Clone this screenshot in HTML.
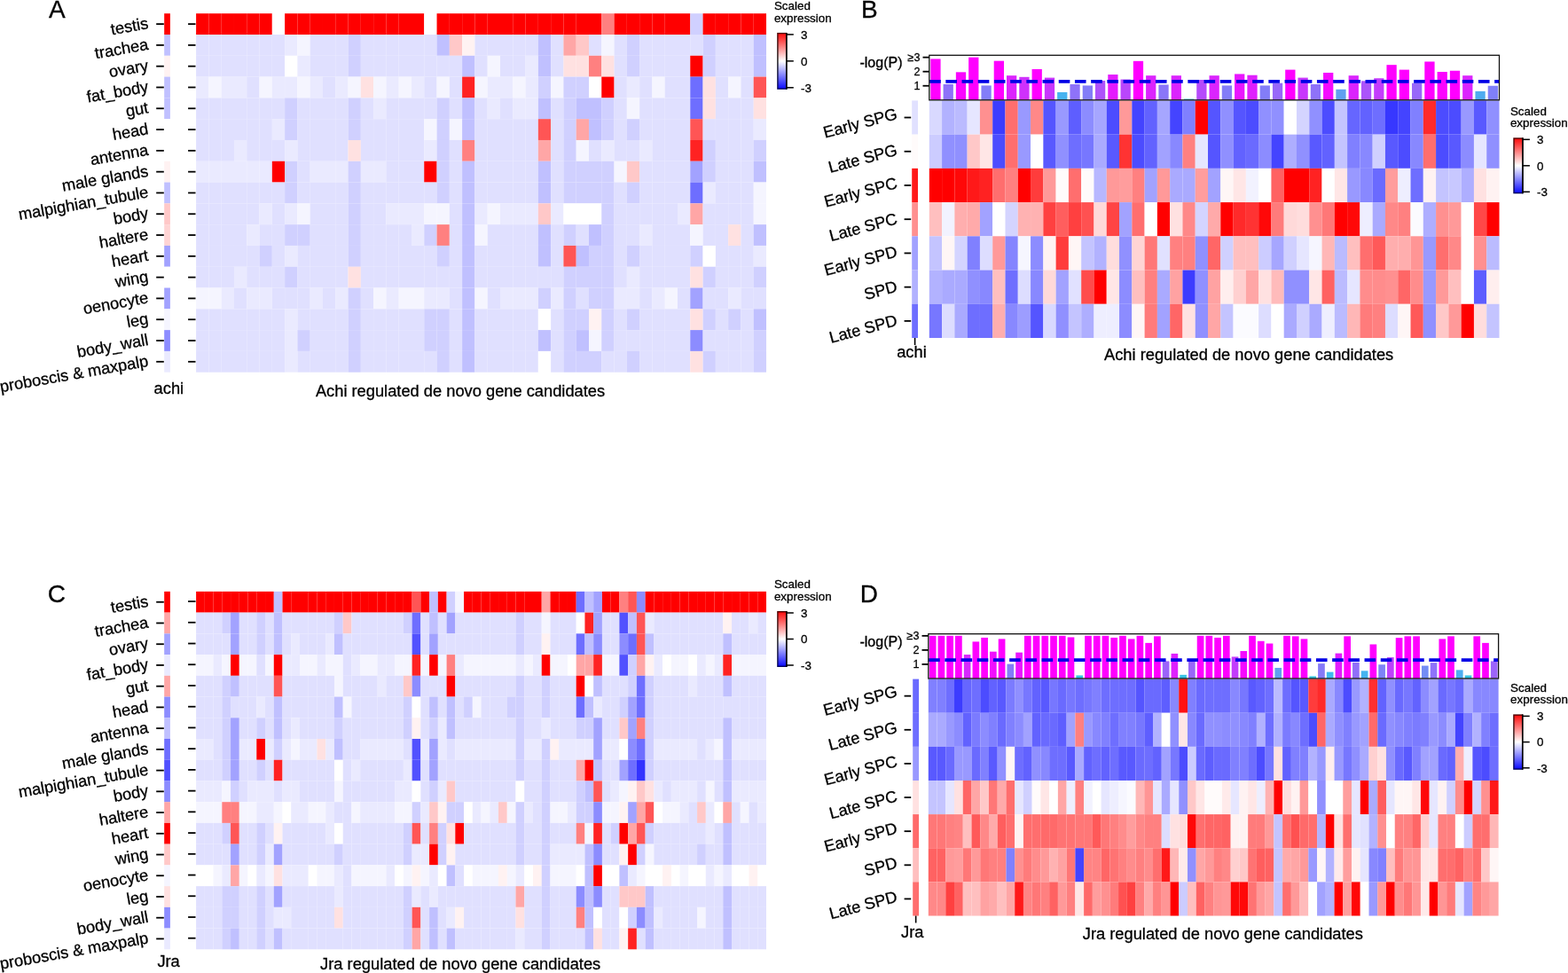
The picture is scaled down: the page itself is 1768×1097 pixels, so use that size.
<!DOCTYPE html>
<html><head><meta charset="utf-8"><title>Heatmaps</title>
<style>
html,body{margin:0;padding:0;background:#fff;}
body{width:1768px;height:1097px;overflow:hidden;position:relative;}
svg{position:absolute;left:0;top:0;display:block;}
text{font-family:"Liberation Sans",Arial,Helvetica,sans-serif;fill:#000;stroke:#000;stroke-width:0.3px;}
</style></head><body>
<svg width="1768" height="1097" viewBox="0 0 1768 1097">
<rect x="0" y="0" width="1768" height="1097" fill="#fff"/>
<rect x="221.10" y="15.20" width="14.31" height="23.81" fill="#ff0000"/>
<rect x="235.39" y="15.20" width="14.31" height="23.81" fill="#ff0000"/>
<rect x="249.67" y="15.20" width="14.31" height="23.81" fill="#ff0000"/>
<rect x="263.96" y="15.20" width="14.31" height="23.81" fill="#ff0000"/>
<rect x="278.25" y="15.20" width="14.31" height="23.81" fill="#ff0000"/>
<rect x="292.53" y="15.20" width="14.31" height="23.81" fill="#ff0000"/>
<rect x="306.82" y="15.20" width="14.31" height="23.81" fill="#ffffff"/>
<rect x="321.11" y="15.20" width="14.31" height="23.81" fill="#ff0000"/>
<rect x="335.39" y="15.20" width="14.31" height="23.81" fill="#ff0000"/>
<rect x="349.68" y="15.20" width="14.31" height="23.81" fill="#ff0000"/>
<rect x="363.97" y="15.20" width="14.31" height="23.81" fill="#ff0000"/>
<rect x="378.25" y="15.20" width="14.31" height="23.81" fill="#ff0000"/>
<rect x="392.54" y="15.20" width="14.31" height="23.81" fill="#ff0000"/>
<rect x="406.83" y="15.20" width="14.31" height="23.81" fill="#ff0000"/>
<rect x="421.11" y="15.20" width="14.31" height="23.81" fill="#ff0000"/>
<rect x="435.40" y="15.20" width="14.31" height="23.81" fill="#ff0000"/>
<rect x="449.69" y="15.20" width="14.31" height="23.81" fill="#ff0000"/>
<rect x="463.97" y="15.20" width="14.31" height="23.81" fill="#ff0000"/>
<rect x="478.26" y="15.20" width="14.31" height="23.81" fill="#ffffff"/>
<rect x="492.55" y="15.20" width="14.31" height="23.81" fill="#ff0000"/>
<rect x="506.83" y="15.20" width="14.31" height="23.81" fill="#ff0000"/>
<rect x="521.12" y="15.20" width="14.31" height="23.81" fill="#ff0000"/>
<rect x="535.41" y="15.20" width="14.31" height="23.81" fill="#ff0000"/>
<rect x="549.69" y="15.20" width="14.31" height="23.81" fill="#ff0000"/>
<rect x="563.98" y="15.20" width="14.31" height="23.81" fill="#ff0000"/>
<rect x="578.27" y="15.20" width="14.31" height="23.81" fill="#ff0000"/>
<rect x="592.55" y="15.20" width="14.31" height="23.81" fill="#ff0000"/>
<rect x="606.84" y="15.20" width="14.31" height="23.81" fill="#ff0000"/>
<rect x="621.13" y="15.20" width="14.31" height="23.81" fill="#ff0000"/>
<rect x="635.41" y="15.20" width="14.31" height="23.81" fill="#ff0000"/>
<rect x="649.70" y="15.20" width="14.31" height="23.81" fill="#ff0000"/>
<rect x="663.99" y="15.20" width="14.31" height="23.81" fill="#ff0000"/>
<rect x="678.27" y="15.20" width="14.31" height="23.81" fill="#ff8080"/>
<rect x="692.56" y="15.20" width="14.31" height="23.81" fill="#ff0000"/>
<rect x="706.85" y="15.20" width="14.31" height="23.81" fill="#ff0000"/>
<rect x="721.13" y="15.20" width="14.31" height="23.81" fill="#ff0000"/>
<rect x="735.42" y="15.20" width="14.31" height="23.81" fill="#ff0000"/>
<rect x="749.71" y="15.20" width="14.31" height="23.81" fill="#ff0000"/>
<rect x="763.99" y="15.20" width="14.31" height="23.81" fill="#ff0000"/>
<rect x="778.28" y="15.20" width="14.31" height="23.81" fill="#d0d0ff"/>
<rect x="792.57" y="15.20" width="14.31" height="23.81" fill="#ff0000"/>
<rect x="806.85" y="15.20" width="14.31" height="23.81" fill="#ff0000"/>
<rect x="821.14" y="15.20" width="14.31" height="23.81" fill="#ff0000"/>
<rect x="835.43" y="15.20" width="14.31" height="23.81" fill="#ff0000"/>
<rect x="849.71" y="15.20" width="14.31" height="23.81" fill="#ff0000"/>
<rect x="221.10" y="38.99" width="14.31" height="23.81" fill="#e0e0ff"/>
<rect x="235.39" y="38.99" width="14.31" height="23.81" fill="#e0e0ff"/>
<rect x="249.67" y="38.99" width="14.31" height="23.81" fill="#e0e0ff"/>
<rect x="263.96" y="38.99" width="14.31" height="23.81" fill="#e0e0ff"/>
<rect x="278.25" y="38.99" width="14.31" height="23.81" fill="#e0e0ff"/>
<rect x="292.53" y="38.99" width="14.31" height="23.81" fill="#e0e0ff"/>
<rect x="306.82" y="38.99" width="14.31" height="23.81" fill="#e0e0ff"/>
<rect x="321.11" y="38.99" width="14.31" height="23.81" fill="#eaeaff"/>
<rect x="335.39" y="38.99" width="14.31" height="23.81" fill="#f5f5ff"/>
<rect x="349.68" y="38.99" width="14.31" height="23.81" fill="#e0e0ff"/>
<rect x="363.97" y="38.99" width="14.31" height="23.81" fill="#e0e0ff"/>
<rect x="378.25" y="38.99" width="14.31" height="23.81" fill="#e0e0ff"/>
<rect x="392.54" y="38.99" width="14.31" height="23.81" fill="#d0d0ff"/>
<rect x="406.83" y="38.99" width="14.31" height="23.81" fill="#e0e0ff"/>
<rect x="421.11" y="38.99" width="14.31" height="23.81" fill="#e0e0ff"/>
<rect x="435.40" y="38.99" width="14.31" height="23.81" fill="#e0e0ff"/>
<rect x="449.69" y="38.99" width="14.31" height="23.81" fill="#e0e0ff"/>
<rect x="463.97" y="38.99" width="14.31" height="23.81" fill="#e0e0ff"/>
<rect x="478.26" y="38.99" width="14.31" height="23.81" fill="#e0e0ff"/>
<rect x="492.55" y="38.99" width="14.31" height="23.81" fill="#c0c0ff"/>
<rect x="506.83" y="38.99" width="14.31" height="23.81" fill="#ffc8c8"/>
<rect x="521.12" y="38.99" width="14.31" height="23.81" fill="#fff2f2"/>
<rect x="535.41" y="38.99" width="14.31" height="23.81" fill="#e0e0ff"/>
<rect x="549.69" y="38.99" width="14.31" height="23.81" fill="#e0e0ff"/>
<rect x="563.98" y="38.99" width="14.31" height="23.81" fill="#e0e0ff"/>
<rect x="578.27" y="38.99" width="14.31" height="23.81" fill="#e0e0ff"/>
<rect x="592.55" y="38.99" width="14.31" height="23.81" fill="#e0e0ff"/>
<rect x="606.84" y="38.99" width="14.31" height="23.81" fill="#c0c0ff"/>
<rect x="621.13" y="38.99" width="14.31" height="23.81" fill="#e0e0ff"/>
<rect x="635.41" y="38.99" width="14.31" height="23.81" fill="#ffa6a6"/>
<rect x="649.70" y="38.99" width="14.31" height="23.81" fill="#ffc8c8"/>
<rect x="663.99" y="38.99" width="14.31" height="23.81" fill="#e0e0ff"/>
<rect x="678.27" y="38.99" width="14.31" height="23.81" fill="#f5f5ff"/>
<rect x="692.56" y="38.99" width="14.31" height="23.81" fill="#e0e0ff"/>
<rect x="706.85" y="38.99" width="14.31" height="23.81" fill="#d0d0ff"/>
<rect x="721.13" y="38.99" width="14.31" height="23.81" fill="#e0e0ff"/>
<rect x="735.42" y="38.99" width="14.31" height="23.81" fill="#e0e0ff"/>
<rect x="749.71" y="38.99" width="14.31" height="23.81" fill="#e0e0ff"/>
<rect x="763.99" y="38.99" width="14.31" height="23.81" fill="#e0e0ff"/>
<rect x="778.28" y="38.99" width="14.31" height="23.81" fill="#e0e0ff"/>
<rect x="792.57" y="38.99" width="14.31" height="23.81" fill="#d0d0ff"/>
<rect x="806.85" y="38.99" width="14.31" height="23.81" fill="#e0e0ff"/>
<rect x="821.14" y="38.99" width="14.31" height="23.81" fill="#e0e0ff"/>
<rect x="835.43" y="38.99" width="14.31" height="23.81" fill="#e0e0ff"/>
<rect x="849.71" y="38.99" width="14.31" height="23.81" fill="#c0c0ff"/>
<rect x="221.10" y="62.79" width="14.31" height="23.81" fill="#e0e0ff"/>
<rect x="235.39" y="62.79" width="14.31" height="23.81" fill="#e0e0ff"/>
<rect x="249.67" y="62.79" width="14.31" height="23.81" fill="#e0e0ff"/>
<rect x="263.96" y="62.79" width="14.31" height="23.81" fill="#e0e0ff"/>
<rect x="278.25" y="62.79" width="14.31" height="23.81" fill="#e0e0ff"/>
<rect x="292.53" y="62.79" width="14.31" height="23.81" fill="#e0e0ff"/>
<rect x="306.82" y="62.79" width="14.31" height="23.81" fill="#e0e0ff"/>
<rect x="321.11" y="62.79" width="14.31" height="23.81" fill="#ffffff"/>
<rect x="335.39" y="62.79" width="14.31" height="23.81" fill="#eaeaff"/>
<rect x="349.68" y="62.79" width="14.31" height="23.81" fill="#e0e0ff"/>
<rect x="363.97" y="62.79" width="14.31" height="23.81" fill="#e0e0ff"/>
<rect x="378.25" y="62.79" width="14.31" height="23.81" fill="#e0e0ff"/>
<rect x="392.54" y="62.79" width="14.31" height="23.81" fill="#d0d0ff"/>
<rect x="406.83" y="62.79" width="14.31" height="23.81" fill="#e0e0ff"/>
<rect x="421.11" y="62.79" width="14.31" height="23.81" fill="#e0e0ff"/>
<rect x="435.40" y="62.79" width="14.31" height="23.81" fill="#e0e0ff"/>
<rect x="449.69" y="62.79" width="14.31" height="23.81" fill="#e0e0ff"/>
<rect x="463.97" y="62.79" width="14.31" height="23.81" fill="#e0e0ff"/>
<rect x="478.26" y="62.79" width="14.31" height="23.81" fill="#e0e0ff"/>
<rect x="492.55" y="62.79" width="14.31" height="23.81" fill="#e0e0ff"/>
<rect x="506.83" y="62.79" width="14.31" height="23.81" fill="#e0e0ff"/>
<rect x="521.12" y="62.79" width="14.31" height="23.81" fill="#c0c0ff"/>
<rect x="535.41" y="62.79" width="14.31" height="23.81" fill="#e0e0ff"/>
<rect x="549.69" y="62.79" width="14.31" height="23.81" fill="#f5f5ff"/>
<rect x="563.98" y="62.79" width="14.31" height="23.81" fill="#e0e0ff"/>
<rect x="578.27" y="62.79" width="14.31" height="23.81" fill="#e0e0ff"/>
<rect x="592.55" y="62.79" width="14.31" height="23.81" fill="#eaeaff"/>
<rect x="606.84" y="62.79" width="14.31" height="23.81" fill="#c0c0ff"/>
<rect x="621.13" y="62.79" width="14.31" height="23.81" fill="#e0e0ff"/>
<rect x="635.41" y="62.79" width="14.31" height="23.81" fill="#ffe1e1"/>
<rect x="649.70" y="62.79" width="14.31" height="23.81" fill="#ffe1e1"/>
<rect x="663.99" y="62.79" width="14.31" height="23.81" fill="#ff8080"/>
<rect x="678.27" y="62.79" width="14.31" height="23.81" fill="#ffe1e1"/>
<rect x="692.56" y="62.79" width="14.31" height="23.81" fill="#e0e0ff"/>
<rect x="706.85" y="62.79" width="14.31" height="23.81" fill="#d0d0ff"/>
<rect x="721.13" y="62.79" width="14.31" height="23.81" fill="#e0e0ff"/>
<rect x="735.42" y="62.79" width="14.31" height="23.81" fill="#e0e0ff"/>
<rect x="749.71" y="62.79" width="14.31" height="23.81" fill="#e0e0ff"/>
<rect x="763.99" y="62.79" width="14.31" height="23.81" fill="#e0e0ff"/>
<rect x="778.28" y="62.79" width="14.31" height="23.81" fill="#ff0000"/>
<rect x="792.57" y="62.79" width="14.31" height="23.81" fill="#d0d0ff"/>
<rect x="806.85" y="62.79" width="14.31" height="23.81" fill="#e0e0ff"/>
<rect x="821.14" y="62.79" width="14.31" height="23.81" fill="#e0e0ff"/>
<rect x="835.43" y="62.79" width="14.31" height="23.81" fill="#e0e0ff"/>
<rect x="849.71" y="62.79" width="14.31" height="23.81" fill="#c0c0ff"/>
<rect x="221.10" y="86.58" width="14.31" height="23.81" fill="#eaeaff"/>
<rect x="235.39" y="86.58" width="14.31" height="23.81" fill="#f5f5ff"/>
<rect x="249.67" y="86.58" width="14.31" height="23.81" fill="#eaeaff"/>
<rect x="263.96" y="86.58" width="14.31" height="23.81" fill="#eaeaff"/>
<rect x="278.25" y="86.58" width="14.31" height="23.81" fill="#e0e0ff"/>
<rect x="292.53" y="86.58" width="14.31" height="23.81" fill="#f5f5ff"/>
<rect x="306.82" y="86.58" width="14.31" height="23.81" fill="#eaeaff"/>
<rect x="321.11" y="86.58" width="14.31" height="23.81" fill="#eaeaff"/>
<rect x="335.39" y="86.58" width="14.31" height="23.81" fill="#f5f5ff"/>
<rect x="349.68" y="86.58" width="14.31" height="23.81" fill="#eaeaff"/>
<rect x="363.97" y="86.58" width="14.31" height="23.81" fill="#e0e0ff"/>
<rect x="378.25" y="86.58" width="14.31" height="23.81" fill="#eaeaff"/>
<rect x="392.54" y="86.58" width="14.31" height="23.81" fill="#f5f5ff"/>
<rect x="406.83" y="86.58" width="14.31" height="23.81" fill="#ffe1e1"/>
<rect x="421.11" y="86.58" width="14.31" height="23.81" fill="#f5f5ff"/>
<rect x="435.40" y="86.58" width="14.31" height="23.81" fill="#eaeaff"/>
<rect x="449.69" y="86.58" width="14.31" height="23.81" fill="#f5f5ff"/>
<rect x="463.97" y="86.58" width="14.31" height="23.81" fill="#eaeaff"/>
<rect x="478.26" y="86.58" width="14.31" height="23.81" fill="#e0e0ff"/>
<rect x="492.55" y="86.58" width="14.31" height="23.81" fill="#f5f5ff"/>
<rect x="506.83" y="86.58" width="14.31" height="23.81" fill="#e0e0ff"/>
<rect x="521.12" y="86.58" width="14.31" height="23.81" fill="#ff2222"/>
<rect x="535.41" y="86.58" width="14.31" height="23.81" fill="#f5f5ff"/>
<rect x="549.69" y="86.58" width="14.31" height="23.81" fill="#eaeaff"/>
<rect x="563.98" y="86.58" width="14.31" height="23.81" fill="#eaeaff"/>
<rect x="578.27" y="86.58" width="14.31" height="23.81" fill="#f5f5ff"/>
<rect x="592.55" y="86.58" width="14.31" height="23.81" fill="#eaeaff"/>
<rect x="606.84" y="86.58" width="14.31" height="23.81" fill="#d0d0ff"/>
<rect x="621.13" y="86.58" width="14.31" height="23.81" fill="#f5f5ff"/>
<rect x="635.41" y="86.58" width="14.31" height="23.81" fill="#d0d0ff"/>
<rect x="649.70" y="86.58" width="14.31" height="23.81" fill="#d0d0ff"/>
<rect x="663.99" y="86.58" width="14.31" height="23.81" fill="#ffffff"/>
<rect x="678.27" y="86.58" width="14.31" height="23.81" fill="#ff0000"/>
<rect x="692.56" y="86.58" width="14.31" height="23.81" fill="#e0e0ff"/>
<rect x="706.85" y="86.58" width="14.31" height="23.81" fill="#eaeaff"/>
<rect x="721.13" y="86.58" width="14.31" height="23.81" fill="#e0e0ff"/>
<rect x="735.42" y="86.58" width="14.31" height="23.81" fill="#f5f5ff"/>
<rect x="749.71" y="86.58" width="14.31" height="23.81" fill="#e0e0ff"/>
<rect x="763.99" y="86.58" width="14.31" height="23.81" fill="#e0e0ff"/>
<rect x="778.28" y="86.58" width="14.31" height="23.81" fill="#6e6eff"/>
<rect x="792.57" y="86.58" width="14.31" height="23.81" fill="#ffe1e1"/>
<rect x="806.85" y="86.58" width="14.31" height="23.81" fill="#e0e0ff"/>
<rect x="821.14" y="86.58" width="14.31" height="23.81" fill="#f5f5ff"/>
<rect x="835.43" y="86.58" width="14.31" height="23.81" fill="#e0e0ff"/>
<rect x="849.71" y="86.58" width="14.31" height="23.81" fill="#ff5555"/>
<rect x="221.10" y="110.38" width="14.31" height="23.81" fill="#e0e0ff"/>
<rect x="235.39" y="110.38" width="14.31" height="23.81" fill="#e0e0ff"/>
<rect x="249.67" y="110.38" width="14.31" height="23.81" fill="#e0e0ff"/>
<rect x="263.96" y="110.38" width="14.31" height="23.81" fill="#e0e0ff"/>
<rect x="278.25" y="110.38" width="14.31" height="23.81" fill="#e0e0ff"/>
<rect x="292.53" y="110.38" width="14.31" height="23.81" fill="#e0e0ff"/>
<rect x="306.82" y="110.38" width="14.31" height="23.81" fill="#e0e0ff"/>
<rect x="321.11" y="110.38" width="14.31" height="23.81" fill="#d0d0ff"/>
<rect x="335.39" y="110.38" width="14.31" height="23.81" fill="#e0e0ff"/>
<rect x="349.68" y="110.38" width="14.31" height="23.81" fill="#e0e0ff"/>
<rect x="363.97" y="110.38" width="14.31" height="23.81" fill="#e0e0ff"/>
<rect x="378.25" y="110.38" width="14.31" height="23.81" fill="#e0e0ff"/>
<rect x="392.54" y="110.38" width="14.31" height="23.81" fill="#d0d0ff"/>
<rect x="406.83" y="110.38" width="14.31" height="23.81" fill="#e0e0ff"/>
<rect x="421.11" y="110.38" width="14.31" height="23.81" fill="#eaeaff"/>
<rect x="435.40" y="110.38" width="14.31" height="23.81" fill="#e0e0ff"/>
<rect x="449.69" y="110.38" width="14.31" height="23.81" fill="#e0e0ff"/>
<rect x="463.97" y="110.38" width="14.31" height="23.81" fill="#e0e0ff"/>
<rect x="478.26" y="110.38" width="14.31" height="23.81" fill="#e0e0ff"/>
<rect x="492.55" y="110.38" width="14.31" height="23.81" fill="#d0d0ff"/>
<rect x="506.83" y="110.38" width="14.31" height="23.81" fill="#e0e0ff"/>
<rect x="521.12" y="110.38" width="14.31" height="23.81" fill="#c0c0ff"/>
<rect x="535.41" y="110.38" width="14.31" height="23.81" fill="#e0e0ff"/>
<rect x="549.69" y="110.38" width="14.31" height="23.81" fill="#eaeaff"/>
<rect x="563.98" y="110.38" width="14.31" height="23.81" fill="#e0e0ff"/>
<rect x="578.27" y="110.38" width="14.31" height="23.81" fill="#eaeaff"/>
<rect x="592.55" y="110.38" width="14.31" height="23.81" fill="#eaeaff"/>
<rect x="606.84" y="110.38" width="14.31" height="23.81" fill="#c0c0ff"/>
<rect x="621.13" y="110.38" width="14.31" height="23.81" fill="#e0e0ff"/>
<rect x="635.41" y="110.38" width="14.31" height="23.81" fill="#d0d0ff"/>
<rect x="649.70" y="110.38" width="14.31" height="23.81" fill="#c0c0ff"/>
<rect x="663.99" y="110.38" width="14.31" height="23.81" fill="#c0c0ff"/>
<rect x="678.27" y="110.38" width="14.31" height="23.81" fill="#d0d0ff"/>
<rect x="692.56" y="110.38" width="14.31" height="23.81" fill="#e0e0ff"/>
<rect x="706.85" y="110.38" width="14.31" height="23.81" fill="#f5f5ff"/>
<rect x="721.13" y="110.38" width="14.31" height="23.81" fill="#e0e0ff"/>
<rect x="735.42" y="110.38" width="14.31" height="23.81" fill="#e0e0ff"/>
<rect x="749.71" y="110.38" width="14.31" height="23.81" fill="#e0e0ff"/>
<rect x="763.99" y="110.38" width="14.31" height="23.81" fill="#e0e0ff"/>
<rect x="778.28" y="110.38" width="14.31" height="23.81" fill="#6e6eff"/>
<rect x="792.57" y="110.38" width="14.31" height="23.81" fill="#ffe1e1"/>
<rect x="806.85" y="110.38" width="14.31" height="23.81" fill="#e0e0ff"/>
<rect x="821.14" y="110.38" width="14.31" height="23.81" fill="#e0e0ff"/>
<rect x="835.43" y="110.38" width="14.31" height="23.81" fill="#e0e0ff"/>
<rect x="849.71" y="110.38" width="14.31" height="23.81" fill="#ffe1e1"/>
<rect x="221.10" y="134.17" width="14.31" height="23.81" fill="#e0e0ff"/>
<rect x="235.39" y="134.17" width="14.31" height="23.81" fill="#e0e0ff"/>
<rect x="249.67" y="134.17" width="14.31" height="23.81" fill="#e0e0ff"/>
<rect x="263.96" y="134.17" width="14.31" height="23.81" fill="#e0e0ff"/>
<rect x="278.25" y="134.17" width="14.31" height="23.81" fill="#e0e0ff"/>
<rect x="292.53" y="134.17" width="14.31" height="23.81" fill="#e0e0ff"/>
<rect x="306.82" y="134.17" width="14.31" height="23.81" fill="#eaeaff"/>
<rect x="321.11" y="134.17" width="14.31" height="23.81" fill="#d0d0ff"/>
<rect x="335.39" y="134.17" width="14.31" height="23.81" fill="#e0e0ff"/>
<rect x="349.68" y="134.17" width="14.31" height="23.81" fill="#e0e0ff"/>
<rect x="363.97" y="134.17" width="14.31" height="23.81" fill="#e0e0ff"/>
<rect x="378.25" y="134.17" width="14.31" height="23.81" fill="#e0e0ff"/>
<rect x="392.54" y="134.17" width="14.31" height="23.81" fill="#d0d0ff"/>
<rect x="406.83" y="134.17" width="14.31" height="23.81" fill="#e0e0ff"/>
<rect x="421.11" y="134.17" width="14.31" height="23.81" fill="#e0e0ff"/>
<rect x="435.40" y="134.17" width="14.31" height="23.81" fill="#e0e0ff"/>
<rect x="449.69" y="134.17" width="14.31" height="23.81" fill="#e0e0ff"/>
<rect x="463.97" y="134.17" width="14.31" height="23.81" fill="#e0e0ff"/>
<rect x="478.26" y="134.17" width="14.31" height="23.81" fill="#f5f5ff"/>
<rect x="492.55" y="134.17" width="14.31" height="23.81" fill="#d0d0ff"/>
<rect x="506.83" y="134.17" width="14.31" height="23.81" fill="#f5f5ff"/>
<rect x="521.12" y="134.17" width="14.31" height="23.81" fill="#c0c0ff"/>
<rect x="535.41" y="134.17" width="14.31" height="23.81" fill="#e0e0ff"/>
<rect x="549.69" y="134.17" width="14.31" height="23.81" fill="#e0e0ff"/>
<rect x="563.98" y="134.17" width="14.31" height="23.81" fill="#e0e0ff"/>
<rect x="578.27" y="134.17" width="14.31" height="23.81" fill="#e0e0ff"/>
<rect x="592.55" y="134.17" width="14.31" height="23.81" fill="#e0e0ff"/>
<rect x="606.84" y="134.17" width="14.31" height="23.81" fill="#ff5555"/>
<rect x="621.13" y="134.17" width="14.31" height="23.81" fill="#e0e0ff"/>
<rect x="635.41" y="134.17" width="14.31" height="23.81" fill="#d0d0ff"/>
<rect x="649.70" y="134.17" width="14.31" height="23.81" fill="#ffa6a6"/>
<rect x="663.99" y="134.17" width="14.31" height="23.81" fill="#c0c0ff"/>
<rect x="678.27" y="134.17" width="14.31" height="23.81" fill="#d0d0ff"/>
<rect x="692.56" y="134.17" width="14.31" height="23.81" fill="#e0e0ff"/>
<rect x="706.85" y="134.17" width="14.31" height="23.81" fill="#d0d0ff"/>
<rect x="721.13" y="134.17" width="14.31" height="23.81" fill="#e0e0ff"/>
<rect x="735.42" y="134.17" width="14.31" height="23.81" fill="#e0e0ff"/>
<rect x="749.71" y="134.17" width="14.31" height="23.81" fill="#e0e0ff"/>
<rect x="763.99" y="134.17" width="14.31" height="23.81" fill="#e0e0ff"/>
<rect x="778.28" y="134.17" width="14.31" height="23.81" fill="#ff5555"/>
<rect x="792.57" y="134.17" width="14.31" height="23.81" fill="#e0e0ff"/>
<rect x="806.85" y="134.17" width="14.31" height="23.81" fill="#e0e0ff"/>
<rect x="821.14" y="134.17" width="14.31" height="23.81" fill="#e0e0ff"/>
<rect x="835.43" y="134.17" width="14.31" height="23.81" fill="#e0e0ff"/>
<rect x="849.71" y="134.17" width="14.31" height="23.81" fill="#eaeaff"/>
<rect x="221.10" y="157.96" width="14.31" height="23.81" fill="#e0e0ff"/>
<rect x="235.39" y="157.96" width="14.31" height="23.81" fill="#e0e0ff"/>
<rect x="249.67" y="157.96" width="14.31" height="23.81" fill="#e0e0ff"/>
<rect x="263.96" y="157.96" width="14.31" height="23.81" fill="#eaeaff"/>
<rect x="278.25" y="157.96" width="14.31" height="23.81" fill="#e0e0ff"/>
<rect x="292.53" y="157.96" width="14.31" height="23.81" fill="#e0e0ff"/>
<rect x="306.82" y="157.96" width="14.31" height="23.81" fill="#e0e0ff"/>
<rect x="321.11" y="157.96" width="14.31" height="23.81" fill="#eaeaff"/>
<rect x="335.39" y="157.96" width="14.31" height="23.81" fill="#e0e0ff"/>
<rect x="349.68" y="157.96" width="14.31" height="23.81" fill="#e0e0ff"/>
<rect x="363.97" y="157.96" width="14.31" height="23.81" fill="#e0e0ff"/>
<rect x="378.25" y="157.96" width="14.31" height="23.81" fill="#e0e0ff"/>
<rect x="392.54" y="157.96" width="14.31" height="23.81" fill="#ffe1e1"/>
<rect x="406.83" y="157.96" width="14.31" height="23.81" fill="#e0e0ff"/>
<rect x="421.11" y="157.96" width="14.31" height="23.81" fill="#e0e0ff"/>
<rect x="435.40" y="157.96" width="14.31" height="23.81" fill="#e0e0ff"/>
<rect x="449.69" y="157.96" width="14.31" height="23.81" fill="#e0e0ff"/>
<rect x="463.97" y="157.96" width="14.31" height="23.81" fill="#e0e0ff"/>
<rect x="478.26" y="157.96" width="14.31" height="23.81" fill="#eaeaff"/>
<rect x="492.55" y="157.96" width="14.31" height="23.81" fill="#d0d0ff"/>
<rect x="506.83" y="157.96" width="14.31" height="23.81" fill="#e0e0ff"/>
<rect x="521.12" y="157.96" width="14.31" height="23.81" fill="#ff8080"/>
<rect x="535.41" y="157.96" width="14.31" height="23.81" fill="#e0e0ff"/>
<rect x="549.69" y="157.96" width="14.31" height="23.81" fill="#e0e0ff"/>
<rect x="563.98" y="157.96" width="14.31" height="23.81" fill="#e0e0ff"/>
<rect x="578.27" y="157.96" width="14.31" height="23.81" fill="#e0e0ff"/>
<rect x="592.55" y="157.96" width="14.31" height="23.81" fill="#e0e0ff"/>
<rect x="606.84" y="157.96" width="14.31" height="23.81" fill="#ffa6a6"/>
<rect x="621.13" y="157.96" width="14.31" height="23.81" fill="#e0e0ff"/>
<rect x="635.41" y="157.96" width="14.31" height="23.81" fill="#d0d0ff"/>
<rect x="649.70" y="157.96" width="14.31" height="23.81" fill="#f5f5ff"/>
<rect x="663.99" y="157.96" width="14.31" height="23.81" fill="#e0e0ff"/>
<rect x="678.27" y="157.96" width="14.31" height="23.81" fill="#eaeaff"/>
<rect x="692.56" y="157.96" width="14.31" height="23.81" fill="#e0e0ff"/>
<rect x="706.85" y="157.96" width="14.31" height="23.81" fill="#e0e0ff"/>
<rect x="721.13" y="157.96" width="14.31" height="23.81" fill="#eaeaff"/>
<rect x="735.42" y="157.96" width="14.31" height="23.81" fill="#e0e0ff"/>
<rect x="749.71" y="157.96" width="14.31" height="23.81" fill="#e0e0ff"/>
<rect x="763.99" y="157.96" width="14.31" height="23.81" fill="#e0e0ff"/>
<rect x="778.28" y="157.96" width="14.31" height="23.81" fill="#ff2222"/>
<rect x="792.57" y="157.96" width="14.31" height="23.81" fill="#d0d0ff"/>
<rect x="806.85" y="157.96" width="14.31" height="23.81" fill="#e0e0ff"/>
<rect x="821.14" y="157.96" width="14.31" height="23.81" fill="#e0e0ff"/>
<rect x="835.43" y="157.96" width="14.31" height="23.81" fill="#e0e0ff"/>
<rect x="849.71" y="157.96" width="14.31" height="23.81" fill="#d0d0ff"/>
<rect x="221.10" y="181.76" width="14.31" height="23.81" fill="#eaeaff"/>
<rect x="235.39" y="181.76" width="14.31" height="23.81" fill="#eaeaff"/>
<rect x="249.67" y="181.76" width="14.31" height="23.81" fill="#eaeaff"/>
<rect x="263.96" y="181.76" width="14.31" height="23.81" fill="#eaeaff"/>
<rect x="278.25" y="181.76" width="14.31" height="23.81" fill="#eaeaff"/>
<rect x="292.53" y="181.76" width="14.31" height="23.81" fill="#eaeaff"/>
<rect x="306.82" y="181.76" width="14.31" height="23.81" fill="#ff0000"/>
<rect x="321.11" y="181.76" width="14.31" height="23.81" fill="#d0d0ff"/>
<rect x="335.39" y="181.76" width="14.31" height="23.81" fill="#e0e0ff"/>
<rect x="349.68" y="181.76" width="14.31" height="23.81" fill="#eaeaff"/>
<rect x="363.97" y="181.76" width="14.31" height="23.81" fill="#eaeaff"/>
<rect x="378.25" y="181.76" width="14.31" height="23.81" fill="#eaeaff"/>
<rect x="392.54" y="181.76" width="14.31" height="23.81" fill="#d0d0ff"/>
<rect x="406.83" y="181.76" width="14.31" height="23.81" fill="#eaeaff"/>
<rect x="421.11" y="181.76" width="14.31" height="23.81" fill="#eaeaff"/>
<rect x="435.40" y="181.76" width="14.31" height="23.81" fill="#e0e0ff"/>
<rect x="449.69" y="181.76" width="14.31" height="23.81" fill="#e0e0ff"/>
<rect x="463.97" y="181.76" width="14.31" height="23.81" fill="#e0e0ff"/>
<rect x="478.26" y="181.76" width="14.31" height="23.81" fill="#ff0000"/>
<rect x="492.55" y="181.76" width="14.31" height="23.81" fill="#d0d0ff"/>
<rect x="506.83" y="181.76" width="14.31" height="23.81" fill="#e0e0ff"/>
<rect x="521.12" y="181.76" width="14.31" height="23.81" fill="#c0c0ff"/>
<rect x="535.41" y="181.76" width="14.31" height="23.81" fill="#e0e0ff"/>
<rect x="549.69" y="181.76" width="14.31" height="23.81" fill="#e0e0ff"/>
<rect x="563.98" y="181.76" width="14.31" height="23.81" fill="#e0e0ff"/>
<rect x="578.27" y="181.76" width="14.31" height="23.81" fill="#e0e0ff"/>
<rect x="592.55" y="181.76" width="14.31" height="23.81" fill="#e0e0ff"/>
<rect x="606.84" y="181.76" width="14.31" height="23.81" fill="#c0c0ff"/>
<rect x="621.13" y="181.76" width="14.31" height="23.81" fill="#e0e0ff"/>
<rect x="635.41" y="181.76" width="14.31" height="23.81" fill="#d0d0ff"/>
<rect x="649.70" y="181.76" width="14.31" height="23.81" fill="#d0d0ff"/>
<rect x="663.99" y="181.76" width="14.31" height="23.81" fill="#d0d0ff"/>
<rect x="678.27" y="181.76" width="14.31" height="23.81" fill="#d0d0ff"/>
<rect x="692.56" y="181.76" width="14.31" height="23.81" fill="#f5f5ff"/>
<rect x="706.85" y="181.76" width="14.31" height="23.81" fill="#ffc8c8"/>
<rect x="721.13" y="181.76" width="14.31" height="23.81" fill="#e0e0ff"/>
<rect x="735.42" y="181.76" width="14.31" height="23.81" fill="#e0e0ff"/>
<rect x="749.71" y="181.76" width="14.31" height="23.81" fill="#e0e0ff"/>
<rect x="763.99" y="181.76" width="14.31" height="23.81" fill="#e0e0ff"/>
<rect x="778.28" y="181.76" width="14.31" height="23.81" fill="#a2a2ff"/>
<rect x="792.57" y="181.76" width="14.31" height="23.81" fill="#d0d0ff"/>
<rect x="806.85" y="181.76" width="14.31" height="23.81" fill="#e0e0ff"/>
<rect x="821.14" y="181.76" width="14.31" height="23.81" fill="#e0e0ff"/>
<rect x="835.43" y="181.76" width="14.31" height="23.81" fill="#e0e0ff"/>
<rect x="849.71" y="181.76" width="14.31" height="23.81" fill="#c0c0ff"/>
<rect x="221.10" y="205.55" width="14.31" height="23.81" fill="#e0e0ff"/>
<rect x="235.39" y="205.55" width="14.31" height="23.81" fill="#e0e0ff"/>
<rect x="249.67" y="205.55" width="14.31" height="23.81" fill="#e0e0ff"/>
<rect x="263.96" y="205.55" width="14.31" height="23.81" fill="#e0e0ff"/>
<rect x="278.25" y="205.55" width="14.31" height="23.81" fill="#e0e0ff"/>
<rect x="292.53" y="205.55" width="14.31" height="23.81" fill="#e0e0ff"/>
<rect x="306.82" y="205.55" width="14.31" height="23.81" fill="#e0e0ff"/>
<rect x="321.11" y="205.55" width="14.31" height="23.81" fill="#d0d0ff"/>
<rect x="335.39" y="205.55" width="14.31" height="23.81" fill="#e0e0ff"/>
<rect x="349.68" y="205.55" width="14.31" height="23.81" fill="#e0e0ff"/>
<rect x="363.97" y="205.55" width="14.31" height="23.81" fill="#e0e0ff"/>
<rect x="378.25" y="205.55" width="14.31" height="23.81" fill="#e0e0ff"/>
<rect x="392.54" y="205.55" width="14.31" height="23.81" fill="#d0d0ff"/>
<rect x="406.83" y="205.55" width="14.31" height="23.81" fill="#e0e0ff"/>
<rect x="421.11" y="205.55" width="14.31" height="23.81" fill="#e0e0ff"/>
<rect x="435.40" y="205.55" width="14.31" height="23.81" fill="#e0e0ff"/>
<rect x="449.69" y="205.55" width="14.31" height="23.81" fill="#e0e0ff"/>
<rect x="463.97" y="205.55" width="14.31" height="23.81" fill="#e0e0ff"/>
<rect x="478.26" y="205.55" width="14.31" height="23.81" fill="#e0e0ff"/>
<rect x="492.55" y="205.55" width="14.31" height="23.81" fill="#d0d0ff"/>
<rect x="506.83" y="205.55" width="14.31" height="23.81" fill="#e0e0ff"/>
<rect x="521.12" y="205.55" width="14.31" height="23.81" fill="#c0c0ff"/>
<rect x="535.41" y="205.55" width="14.31" height="23.81" fill="#e0e0ff"/>
<rect x="549.69" y="205.55" width="14.31" height="23.81" fill="#e0e0ff"/>
<rect x="563.98" y="205.55" width="14.31" height="23.81" fill="#e0e0ff"/>
<rect x="578.27" y="205.55" width="14.31" height="23.81" fill="#e0e0ff"/>
<rect x="592.55" y="205.55" width="14.31" height="23.81" fill="#e0e0ff"/>
<rect x="606.84" y="205.55" width="14.31" height="23.81" fill="#c0c0ff"/>
<rect x="621.13" y="205.55" width="14.31" height="23.81" fill="#e0e0ff"/>
<rect x="635.41" y="205.55" width="14.31" height="23.81" fill="#d0d0ff"/>
<rect x="649.70" y="205.55" width="14.31" height="23.81" fill="#d0d0ff"/>
<rect x="663.99" y="205.55" width="14.31" height="23.81" fill="#d0d0ff"/>
<rect x="678.27" y="205.55" width="14.31" height="23.81" fill="#d0d0ff"/>
<rect x="692.56" y="205.55" width="14.31" height="23.81" fill="#e0e0ff"/>
<rect x="706.85" y="205.55" width="14.31" height="23.81" fill="#d0d0ff"/>
<rect x="721.13" y="205.55" width="14.31" height="23.81" fill="#e0e0ff"/>
<rect x="735.42" y="205.55" width="14.31" height="23.81" fill="#e0e0ff"/>
<rect x="749.71" y="205.55" width="14.31" height="23.81" fill="#e0e0ff"/>
<rect x="763.99" y="205.55" width="14.31" height="23.81" fill="#e0e0ff"/>
<rect x="778.28" y="205.55" width="14.31" height="23.81" fill="#6e6eff"/>
<rect x="792.57" y="205.55" width="14.31" height="23.81" fill="#eaeaff"/>
<rect x="806.85" y="205.55" width="14.31" height="23.81" fill="#e0e0ff"/>
<rect x="821.14" y="205.55" width="14.31" height="23.81" fill="#e0e0ff"/>
<rect x="835.43" y="205.55" width="14.31" height="23.81" fill="#e0e0ff"/>
<rect x="849.71" y="205.55" width="14.31" height="23.81" fill="#f5f5ff"/>
<rect x="221.10" y="229.35" width="14.31" height="23.81" fill="#e0e0ff"/>
<rect x="235.39" y="229.35" width="14.31" height="23.81" fill="#e0e0ff"/>
<rect x="249.67" y="229.35" width="14.31" height="23.81" fill="#e0e0ff"/>
<rect x="263.96" y="229.35" width="14.31" height="23.81" fill="#e0e0ff"/>
<rect x="278.25" y="229.35" width="14.31" height="23.81" fill="#e0e0ff"/>
<rect x="292.53" y="229.35" width="14.31" height="23.81" fill="#eaeaff"/>
<rect x="306.82" y="229.35" width="14.31" height="23.81" fill="#e0e0ff"/>
<rect x="321.11" y="229.35" width="14.31" height="23.81" fill="#eaeaff"/>
<rect x="335.39" y="229.35" width="14.31" height="23.81" fill="#f5f5ff"/>
<rect x="349.68" y="229.35" width="14.31" height="23.81" fill="#e0e0ff"/>
<rect x="363.97" y="229.35" width="14.31" height="23.81" fill="#e0e0ff"/>
<rect x="378.25" y="229.35" width="14.31" height="23.81" fill="#e0e0ff"/>
<rect x="392.54" y="229.35" width="14.31" height="23.81" fill="#d0d0ff"/>
<rect x="406.83" y="229.35" width="14.31" height="23.81" fill="#e0e0ff"/>
<rect x="421.11" y="229.35" width="14.31" height="23.81" fill="#e0e0ff"/>
<rect x="435.40" y="229.35" width="14.31" height="23.81" fill="#eaeaff"/>
<rect x="449.69" y="229.35" width="14.31" height="23.81" fill="#eaeaff"/>
<rect x="463.97" y="229.35" width="14.31" height="23.81" fill="#eaeaff"/>
<rect x="478.26" y="229.35" width="14.31" height="23.81" fill="#f5f5ff"/>
<rect x="492.55" y="229.35" width="14.31" height="23.81" fill="#f5f5ff"/>
<rect x="506.83" y="229.35" width="14.31" height="23.81" fill="#e0e0ff"/>
<rect x="521.12" y="229.35" width="14.31" height="23.81" fill="#c0c0ff"/>
<rect x="535.41" y="229.35" width="14.31" height="23.81" fill="#eaeaff"/>
<rect x="549.69" y="229.35" width="14.31" height="23.81" fill="#f5f5ff"/>
<rect x="563.98" y="229.35" width="14.31" height="23.81" fill="#eaeaff"/>
<rect x="578.27" y="229.35" width="14.31" height="23.81" fill="#eaeaff"/>
<rect x="592.55" y="229.35" width="14.31" height="23.81" fill="#eaeaff"/>
<rect x="606.84" y="229.35" width="14.31" height="23.81" fill="#ffc8c8"/>
<rect x="621.13" y="229.35" width="14.31" height="23.81" fill="#eaeaff"/>
<rect x="635.41" y="229.35" width="14.31" height="23.81" fill="#ffffff"/>
<rect x="649.70" y="229.35" width="14.31" height="23.81" fill="#ffffff"/>
<rect x="663.99" y="229.35" width="14.31" height="23.81" fill="#ffffff"/>
<rect x="678.27" y="229.35" width="14.31" height="23.81" fill="#d0d0ff"/>
<rect x="692.56" y="229.35" width="14.31" height="23.81" fill="#e0e0ff"/>
<rect x="706.85" y="229.35" width="14.31" height="23.81" fill="#e0e0ff"/>
<rect x="721.13" y="229.35" width="14.31" height="23.81" fill="#e0e0ff"/>
<rect x="735.42" y="229.35" width="14.31" height="23.81" fill="#e0e0ff"/>
<rect x="749.71" y="229.35" width="14.31" height="23.81" fill="#e0e0ff"/>
<rect x="763.99" y="229.35" width="14.31" height="23.81" fill="#eaeaff"/>
<rect x="778.28" y="229.35" width="14.31" height="23.81" fill="#ffa6a6"/>
<rect x="792.57" y="229.35" width="14.31" height="23.81" fill="#e0e0ff"/>
<rect x="806.85" y="229.35" width="14.31" height="23.81" fill="#e0e0ff"/>
<rect x="821.14" y="229.35" width="14.31" height="23.81" fill="#e0e0ff"/>
<rect x="835.43" y="229.35" width="14.31" height="23.81" fill="#e0e0ff"/>
<rect x="849.71" y="229.35" width="14.31" height="23.81" fill="#f5f5ff"/>
<rect x="221.10" y="253.14" width="14.31" height="23.81" fill="#e0e0ff"/>
<rect x="235.39" y="253.14" width="14.31" height="23.81" fill="#e0e0ff"/>
<rect x="249.67" y="253.14" width="14.31" height="23.81" fill="#e0e0ff"/>
<rect x="263.96" y="253.14" width="14.31" height="23.81" fill="#e0e0ff"/>
<rect x="278.25" y="253.14" width="14.31" height="23.81" fill="#eaeaff"/>
<rect x="292.53" y="253.14" width="14.31" height="23.81" fill="#e0e0ff"/>
<rect x="306.82" y="253.14" width="14.31" height="23.81" fill="#e0e0ff"/>
<rect x="321.11" y="253.14" width="14.31" height="23.81" fill="#d0d0ff"/>
<rect x="335.39" y="253.14" width="14.31" height="23.81" fill="#d0d0ff"/>
<rect x="349.68" y="253.14" width="14.31" height="23.81" fill="#e0e0ff"/>
<rect x="363.97" y="253.14" width="14.31" height="23.81" fill="#e0e0ff"/>
<rect x="378.25" y="253.14" width="14.31" height="23.81" fill="#e0e0ff"/>
<rect x="392.54" y="253.14" width="14.31" height="23.81" fill="#d0d0ff"/>
<rect x="406.83" y="253.14" width="14.31" height="23.81" fill="#e0e0ff"/>
<rect x="421.11" y="253.14" width="14.31" height="23.81" fill="#e0e0ff"/>
<rect x="435.40" y="253.14" width="14.31" height="23.81" fill="#e0e0ff"/>
<rect x="449.69" y="253.14" width="14.31" height="23.81" fill="#e0e0ff"/>
<rect x="463.97" y="253.14" width="14.31" height="23.81" fill="#eaeaff"/>
<rect x="478.26" y="253.14" width="14.31" height="23.81" fill="#d0d0ff"/>
<rect x="492.55" y="253.14" width="14.31" height="23.81" fill="#ff8080"/>
<rect x="506.83" y="253.14" width="14.31" height="23.81" fill="#e0e0ff"/>
<rect x="521.12" y="253.14" width="14.31" height="23.81" fill="#c0c0ff"/>
<rect x="535.41" y="253.14" width="14.31" height="23.81" fill="#f5f5ff"/>
<rect x="549.69" y="253.14" width="14.31" height="23.81" fill="#e0e0ff"/>
<rect x="563.98" y="253.14" width="14.31" height="23.81" fill="#e0e0ff"/>
<rect x="578.27" y="253.14" width="14.31" height="23.81" fill="#e0e0ff"/>
<rect x="592.55" y="253.14" width="14.31" height="23.81" fill="#e0e0ff"/>
<rect x="606.84" y="253.14" width="14.31" height="23.81" fill="#c0c0ff"/>
<rect x="621.13" y="253.14" width="14.31" height="23.81" fill="#e0e0ff"/>
<rect x="635.41" y="253.14" width="14.31" height="23.81" fill="#d0d0ff"/>
<rect x="649.70" y="253.14" width="14.31" height="23.81" fill="#e0e0ff"/>
<rect x="663.99" y="253.14" width="14.31" height="23.81" fill="#c0c0ff"/>
<rect x="678.27" y="253.14" width="14.31" height="23.81" fill="#d0d0ff"/>
<rect x="692.56" y="253.14" width="14.31" height="23.81" fill="#e0e0ff"/>
<rect x="706.85" y="253.14" width="14.31" height="23.81" fill="#e0e0ff"/>
<rect x="721.13" y="253.14" width="14.31" height="23.81" fill="#eaeaff"/>
<rect x="735.42" y="253.14" width="14.31" height="23.81" fill="#e0e0ff"/>
<rect x="749.71" y="253.14" width="14.31" height="23.81" fill="#e0e0ff"/>
<rect x="763.99" y="253.14" width="14.31" height="23.81" fill="#e0e0ff"/>
<rect x="778.28" y="253.14" width="14.31" height="23.81" fill="#f5f5ff"/>
<rect x="792.57" y="253.14" width="14.31" height="23.81" fill="#e0e0ff"/>
<rect x="806.85" y="253.14" width="14.31" height="23.81" fill="#e0e0ff"/>
<rect x="821.14" y="253.14" width="14.31" height="23.81" fill="#ffe1e1"/>
<rect x="835.43" y="253.14" width="14.31" height="23.81" fill="#e0e0ff"/>
<rect x="849.71" y="253.14" width="14.31" height="23.81" fill="#c0c0ff"/>
<rect x="221.10" y="276.94" width="14.31" height="23.81" fill="#e0e0ff"/>
<rect x="235.39" y="276.94" width="14.31" height="23.81" fill="#e0e0ff"/>
<rect x="249.67" y="276.94" width="14.31" height="23.81" fill="#e0e0ff"/>
<rect x="263.96" y="276.94" width="14.31" height="23.81" fill="#e0e0ff"/>
<rect x="278.25" y="276.94" width="14.31" height="23.81" fill="#e0e0ff"/>
<rect x="292.53" y="276.94" width="14.31" height="23.81" fill="#d0d0ff"/>
<rect x="306.82" y="276.94" width="14.31" height="23.81" fill="#e0e0ff"/>
<rect x="321.11" y="276.94" width="14.31" height="23.81" fill="#eaeaff"/>
<rect x="335.39" y="276.94" width="14.31" height="23.81" fill="#e0e0ff"/>
<rect x="349.68" y="276.94" width="14.31" height="23.81" fill="#e0e0ff"/>
<rect x="363.97" y="276.94" width="14.31" height="23.81" fill="#e0e0ff"/>
<rect x="378.25" y="276.94" width="14.31" height="23.81" fill="#e0e0ff"/>
<rect x="392.54" y="276.94" width="14.31" height="23.81" fill="#d0d0ff"/>
<rect x="406.83" y="276.94" width="14.31" height="23.81" fill="#e0e0ff"/>
<rect x="421.11" y="276.94" width="14.31" height="23.81" fill="#e0e0ff"/>
<rect x="435.40" y="276.94" width="14.31" height="23.81" fill="#e0e0ff"/>
<rect x="449.69" y="276.94" width="14.31" height="23.81" fill="#e0e0ff"/>
<rect x="463.97" y="276.94" width="14.31" height="23.81" fill="#e0e0ff"/>
<rect x="478.26" y="276.94" width="14.31" height="23.81" fill="#e0e0ff"/>
<rect x="492.55" y="276.94" width="14.31" height="23.81" fill="#d0d0ff"/>
<rect x="506.83" y="276.94" width="14.31" height="23.81" fill="#e0e0ff"/>
<rect x="521.12" y="276.94" width="14.31" height="23.81" fill="#c0c0ff"/>
<rect x="535.41" y="276.94" width="14.31" height="23.81" fill="#e0e0ff"/>
<rect x="549.69" y="276.94" width="14.31" height="23.81" fill="#e0e0ff"/>
<rect x="563.98" y="276.94" width="14.31" height="23.81" fill="#e0e0ff"/>
<rect x="578.27" y="276.94" width="14.31" height="23.81" fill="#e0e0ff"/>
<rect x="592.55" y="276.94" width="14.31" height="23.81" fill="#e0e0ff"/>
<rect x="606.84" y="276.94" width="14.31" height="23.81" fill="#c0c0ff"/>
<rect x="621.13" y="276.94" width="14.31" height="23.81" fill="#e0e0ff"/>
<rect x="635.41" y="276.94" width="14.31" height="23.81" fill="#ff5555"/>
<rect x="649.70" y="276.94" width="14.31" height="23.81" fill="#c0c0ff"/>
<rect x="663.99" y="276.94" width="14.31" height="23.81" fill="#d0d0ff"/>
<rect x="678.27" y="276.94" width="14.31" height="23.81" fill="#d0d0ff"/>
<rect x="692.56" y="276.94" width="14.31" height="23.81" fill="#e0e0ff"/>
<rect x="706.85" y="276.94" width="14.31" height="23.81" fill="#d0d0ff"/>
<rect x="721.13" y="276.94" width="14.31" height="23.81" fill="#e0e0ff"/>
<rect x="735.42" y="276.94" width="14.31" height="23.81" fill="#e0e0ff"/>
<rect x="749.71" y="276.94" width="14.31" height="23.81" fill="#e0e0ff"/>
<rect x="763.99" y="276.94" width="14.31" height="23.81" fill="#e0e0ff"/>
<rect x="778.28" y="276.94" width="14.31" height="23.81" fill="#d0d0ff"/>
<rect x="792.57" y="276.94" width="14.31" height="23.81" fill="#ffffff"/>
<rect x="806.85" y="276.94" width="14.31" height="23.81" fill="#e0e0ff"/>
<rect x="821.14" y="276.94" width="14.31" height="23.81" fill="#e0e0ff"/>
<rect x="835.43" y="276.94" width="14.31" height="23.81" fill="#e0e0ff"/>
<rect x="849.71" y="276.94" width="14.31" height="23.81" fill="#eaeaff"/>
<rect x="221.10" y="300.73" width="14.31" height="23.81" fill="#e0e0ff"/>
<rect x="235.39" y="300.73" width="14.31" height="23.81" fill="#e0e0ff"/>
<rect x="249.67" y="300.73" width="14.31" height="23.81" fill="#e0e0ff"/>
<rect x="263.96" y="300.73" width="14.31" height="23.81" fill="#eaeaff"/>
<rect x="278.25" y="300.73" width="14.31" height="23.81" fill="#e0e0ff"/>
<rect x="292.53" y="300.73" width="14.31" height="23.81" fill="#e0e0ff"/>
<rect x="306.82" y="300.73" width="14.31" height="23.81" fill="#e0e0ff"/>
<rect x="321.11" y="300.73" width="14.31" height="23.81" fill="#d0d0ff"/>
<rect x="335.39" y="300.73" width="14.31" height="23.81" fill="#e0e0ff"/>
<rect x="349.68" y="300.73" width="14.31" height="23.81" fill="#e0e0ff"/>
<rect x="363.97" y="300.73" width="14.31" height="23.81" fill="#e0e0ff"/>
<rect x="378.25" y="300.73" width="14.31" height="23.81" fill="#e0e0ff"/>
<rect x="392.54" y="300.73" width="14.31" height="23.81" fill="#ffe1e1"/>
<rect x="406.83" y="300.73" width="14.31" height="23.81" fill="#e0e0ff"/>
<rect x="421.11" y="300.73" width="14.31" height="23.81" fill="#e0e0ff"/>
<rect x="435.40" y="300.73" width="14.31" height="23.81" fill="#e0e0ff"/>
<rect x="449.69" y="300.73" width="14.31" height="23.81" fill="#e0e0ff"/>
<rect x="463.97" y="300.73" width="14.31" height="23.81" fill="#e0e0ff"/>
<rect x="478.26" y="300.73" width="14.31" height="23.81" fill="#e0e0ff"/>
<rect x="492.55" y="300.73" width="14.31" height="23.81" fill="#e0e0ff"/>
<rect x="506.83" y="300.73" width="14.31" height="23.81" fill="#e0e0ff"/>
<rect x="521.12" y="300.73" width="14.31" height="23.81" fill="#c0c0ff"/>
<rect x="535.41" y="300.73" width="14.31" height="23.81" fill="#e0e0ff"/>
<rect x="549.69" y="300.73" width="14.31" height="23.81" fill="#e0e0ff"/>
<rect x="563.98" y="300.73" width="14.31" height="23.81" fill="#e0e0ff"/>
<rect x="578.27" y="300.73" width="14.31" height="23.81" fill="#e0e0ff"/>
<rect x="592.55" y="300.73" width="14.31" height="23.81" fill="#e0e0ff"/>
<rect x="606.84" y="300.73" width="14.31" height="23.81" fill="#e0e0ff"/>
<rect x="621.13" y="300.73" width="14.31" height="23.81" fill="#e0e0ff"/>
<rect x="635.41" y="300.73" width="14.31" height="23.81" fill="#d0d0ff"/>
<rect x="649.70" y="300.73" width="14.31" height="23.81" fill="#d0d0ff"/>
<rect x="663.99" y="300.73" width="14.31" height="23.81" fill="#d0d0ff"/>
<rect x="678.27" y="300.73" width="14.31" height="23.81" fill="#d0d0ff"/>
<rect x="692.56" y="300.73" width="14.31" height="23.81" fill="#e0e0ff"/>
<rect x="706.85" y="300.73" width="14.31" height="23.81" fill="#eaeaff"/>
<rect x="721.13" y="300.73" width="14.31" height="23.81" fill="#e0e0ff"/>
<rect x="735.42" y="300.73" width="14.31" height="23.81" fill="#e0e0ff"/>
<rect x="749.71" y="300.73" width="14.31" height="23.81" fill="#e0e0ff"/>
<rect x="763.99" y="300.73" width="14.31" height="23.81" fill="#e0e0ff"/>
<rect x="778.28" y="300.73" width="14.31" height="23.81" fill="#ffe1e1"/>
<rect x="792.57" y="300.73" width="14.31" height="23.81" fill="#d0d0ff"/>
<rect x="806.85" y="300.73" width="14.31" height="23.81" fill="#e0e0ff"/>
<rect x="821.14" y="300.73" width="14.31" height="23.81" fill="#e0e0ff"/>
<rect x="835.43" y="300.73" width="14.31" height="23.81" fill="#e0e0ff"/>
<rect x="849.71" y="300.73" width="14.31" height="23.81" fill="#d0d0ff"/>
<rect x="221.10" y="324.52" width="14.31" height="23.81" fill="#f5f5ff"/>
<rect x="235.39" y="324.52" width="14.31" height="23.81" fill="#f5f5ff"/>
<rect x="249.67" y="324.52" width="14.31" height="23.81" fill="#eaeaff"/>
<rect x="263.96" y="324.52" width="14.31" height="23.81" fill="#e0e0ff"/>
<rect x="278.25" y="324.52" width="14.31" height="23.81" fill="#eaeaff"/>
<rect x="292.53" y="324.52" width="14.31" height="23.81" fill="#eaeaff"/>
<rect x="306.82" y="324.52" width="14.31" height="23.81" fill="#e0e0ff"/>
<rect x="321.11" y="324.52" width="14.31" height="23.81" fill="#e0e0ff"/>
<rect x="335.39" y="324.52" width="14.31" height="23.81" fill="#e0e0ff"/>
<rect x="349.68" y="324.52" width="14.31" height="23.81" fill="#eaeaff"/>
<rect x="363.97" y="324.52" width="14.31" height="23.81" fill="#e0e0ff"/>
<rect x="378.25" y="324.52" width="14.31" height="23.81" fill="#eaeaff"/>
<rect x="392.54" y="324.52" width="14.31" height="23.81" fill="#d0d0ff"/>
<rect x="406.83" y="324.52" width="14.31" height="23.81" fill="#e0e0ff"/>
<rect x="421.11" y="324.52" width="14.31" height="23.81" fill="#f5f5ff"/>
<rect x="435.40" y="324.52" width="14.31" height="23.81" fill="#eaeaff"/>
<rect x="449.69" y="324.52" width="14.31" height="23.81" fill="#f5f5ff"/>
<rect x="463.97" y="324.52" width="14.31" height="23.81" fill="#f5f5ff"/>
<rect x="478.26" y="324.52" width="14.31" height="23.81" fill="#eaeaff"/>
<rect x="492.55" y="324.52" width="14.31" height="23.81" fill="#eaeaff"/>
<rect x="506.83" y="324.52" width="14.31" height="23.81" fill="#e0e0ff"/>
<rect x="521.12" y="324.52" width="14.31" height="23.81" fill="#c0c0ff"/>
<rect x="535.41" y="324.52" width="14.31" height="23.81" fill="#f5f5ff"/>
<rect x="549.69" y="324.52" width="14.31" height="23.81" fill="#e0e0ff"/>
<rect x="563.98" y="324.52" width="14.31" height="23.81" fill="#eaeaff"/>
<rect x="578.27" y="324.52" width="14.31" height="23.81" fill="#eaeaff"/>
<rect x="592.55" y="324.52" width="14.31" height="23.81" fill="#eaeaff"/>
<rect x="606.84" y="324.52" width="14.31" height="23.81" fill="#d0d0ff"/>
<rect x="621.13" y="324.52" width="14.31" height="23.81" fill="#eaeaff"/>
<rect x="635.41" y="324.52" width="14.31" height="23.81" fill="#d0d0ff"/>
<rect x="649.70" y="324.52" width="14.31" height="23.81" fill="#e0e0ff"/>
<rect x="663.99" y="324.52" width="14.31" height="23.81" fill="#d0d0ff"/>
<rect x="678.27" y="324.52" width="14.31" height="23.81" fill="#d0d0ff"/>
<rect x="692.56" y="324.52" width="14.31" height="23.81" fill="#eaeaff"/>
<rect x="706.85" y="324.52" width="14.31" height="23.81" fill="#eaeaff"/>
<rect x="721.13" y="324.52" width="14.31" height="23.81" fill="#e0e0ff"/>
<rect x="735.42" y="324.52" width="14.31" height="23.81" fill="#eaeaff"/>
<rect x="749.71" y="324.52" width="14.31" height="23.81" fill="#f5f5ff"/>
<rect x="763.99" y="324.52" width="14.31" height="23.81" fill="#e0e0ff"/>
<rect x="778.28" y="324.52" width="14.31" height="23.81" fill="#a2a2ff"/>
<rect x="792.57" y="324.52" width="14.31" height="23.81" fill="#e0e0ff"/>
<rect x="806.85" y="324.52" width="14.31" height="23.81" fill="#e0e0ff"/>
<rect x="821.14" y="324.52" width="14.31" height="23.81" fill="#eaeaff"/>
<rect x="835.43" y="324.52" width="14.31" height="23.81" fill="#e0e0ff"/>
<rect x="849.71" y="324.52" width="14.31" height="23.81" fill="#e0e0ff"/>
<rect x="221.10" y="348.32" width="14.31" height="23.81" fill="#e0e0ff"/>
<rect x="235.39" y="348.32" width="14.31" height="23.81" fill="#e0e0ff"/>
<rect x="249.67" y="348.32" width="14.31" height="23.81" fill="#e0e0ff"/>
<rect x="263.96" y="348.32" width="14.31" height="23.81" fill="#e0e0ff"/>
<rect x="278.25" y="348.32" width="14.31" height="23.81" fill="#e0e0ff"/>
<rect x="292.53" y="348.32" width="14.31" height="23.81" fill="#e0e0ff"/>
<rect x="306.82" y="348.32" width="14.31" height="23.81" fill="#e0e0ff"/>
<rect x="321.11" y="348.32" width="14.31" height="23.81" fill="#eaeaff"/>
<rect x="335.39" y="348.32" width="14.31" height="23.81" fill="#e0e0ff"/>
<rect x="349.68" y="348.32" width="14.31" height="23.81" fill="#e0e0ff"/>
<rect x="363.97" y="348.32" width="14.31" height="23.81" fill="#e0e0ff"/>
<rect x="378.25" y="348.32" width="14.31" height="23.81" fill="#e0e0ff"/>
<rect x="392.54" y="348.32" width="14.31" height="23.81" fill="#d0d0ff"/>
<rect x="406.83" y="348.32" width="14.31" height="23.81" fill="#e0e0ff"/>
<rect x="421.11" y="348.32" width="14.31" height="23.81" fill="#e0e0ff"/>
<rect x="435.40" y="348.32" width="14.31" height="23.81" fill="#e0e0ff"/>
<rect x="449.69" y="348.32" width="14.31" height="23.81" fill="#e0e0ff"/>
<rect x="463.97" y="348.32" width="14.31" height="23.81" fill="#e0e0ff"/>
<rect x="478.26" y="348.32" width="14.31" height="23.81" fill="#d0d0ff"/>
<rect x="492.55" y="348.32" width="14.31" height="23.81" fill="#d0d0ff"/>
<rect x="506.83" y="348.32" width="14.31" height="23.81" fill="#e0e0ff"/>
<rect x="521.12" y="348.32" width="14.31" height="23.81" fill="#c0c0ff"/>
<rect x="535.41" y="348.32" width="14.31" height="23.81" fill="#e0e0ff"/>
<rect x="549.69" y="348.32" width="14.31" height="23.81" fill="#e0e0ff"/>
<rect x="563.98" y="348.32" width="14.31" height="23.81" fill="#e0e0ff"/>
<rect x="578.27" y="348.32" width="14.31" height="23.81" fill="#e0e0ff"/>
<rect x="592.55" y="348.32" width="14.31" height="23.81" fill="#e0e0ff"/>
<rect x="606.84" y="348.32" width="14.31" height="23.81" fill="#ffffff"/>
<rect x="621.13" y="348.32" width="14.31" height="23.81" fill="#e0e0ff"/>
<rect x="635.41" y="348.32" width="14.31" height="23.81" fill="#d0d0ff"/>
<rect x="649.70" y="348.32" width="14.31" height="23.81" fill="#d0d0ff"/>
<rect x="663.99" y="348.32" width="14.31" height="23.81" fill="#fff2f2"/>
<rect x="678.27" y="348.32" width="14.31" height="23.81" fill="#d0d0ff"/>
<rect x="692.56" y="348.32" width="14.31" height="23.81" fill="#e0e0ff"/>
<rect x="706.85" y="348.32" width="14.31" height="23.81" fill="#d0d0ff"/>
<rect x="721.13" y="348.32" width="14.31" height="23.81" fill="#e0e0ff"/>
<rect x="735.42" y="348.32" width="14.31" height="23.81" fill="#e0e0ff"/>
<rect x="749.71" y="348.32" width="14.31" height="23.81" fill="#e0e0ff"/>
<rect x="763.99" y="348.32" width="14.31" height="23.81" fill="#e0e0ff"/>
<rect x="778.28" y="348.32" width="14.31" height="23.81" fill="#ffe1e1"/>
<rect x="792.57" y="348.32" width="14.31" height="23.81" fill="#d0d0ff"/>
<rect x="806.85" y="348.32" width="14.31" height="23.81" fill="#e0e0ff"/>
<rect x="821.14" y="348.32" width="14.31" height="23.81" fill="#d0d0ff"/>
<rect x="835.43" y="348.32" width="14.31" height="23.81" fill="#e0e0ff"/>
<rect x="849.71" y="348.32" width="14.31" height="23.81" fill="#c0c0ff"/>
<rect x="221.10" y="372.11" width="14.31" height="23.81" fill="#e0e0ff"/>
<rect x="235.39" y="372.11" width="14.31" height="23.81" fill="#e0e0ff"/>
<rect x="249.67" y="372.11" width="14.31" height="23.81" fill="#e0e0ff"/>
<rect x="263.96" y="372.11" width="14.31" height="23.81" fill="#e0e0ff"/>
<rect x="278.25" y="372.11" width="14.31" height="23.81" fill="#e0e0ff"/>
<rect x="292.53" y="372.11" width="14.31" height="23.81" fill="#e0e0ff"/>
<rect x="306.82" y="372.11" width="14.31" height="23.81" fill="#e0e0ff"/>
<rect x="321.11" y="372.11" width="14.31" height="23.81" fill="#eaeaff"/>
<rect x="335.39" y="372.11" width="14.31" height="23.81" fill="#d0d0ff"/>
<rect x="349.68" y="372.11" width="14.31" height="23.81" fill="#e0e0ff"/>
<rect x="363.97" y="372.11" width="14.31" height="23.81" fill="#e0e0ff"/>
<rect x="378.25" y="372.11" width="14.31" height="23.81" fill="#e0e0ff"/>
<rect x="392.54" y="372.11" width="14.31" height="23.81" fill="#d0d0ff"/>
<rect x="406.83" y="372.11" width="14.31" height="23.81" fill="#e0e0ff"/>
<rect x="421.11" y="372.11" width="14.31" height="23.81" fill="#e0e0ff"/>
<rect x="435.40" y="372.11" width="14.31" height="23.81" fill="#e0e0ff"/>
<rect x="449.69" y="372.11" width="14.31" height="23.81" fill="#e0e0ff"/>
<rect x="463.97" y="372.11" width="14.31" height="23.81" fill="#e0e0ff"/>
<rect x="478.26" y="372.11" width="14.31" height="23.81" fill="#d0d0ff"/>
<rect x="492.55" y="372.11" width="14.31" height="23.81" fill="#d0d0ff"/>
<rect x="506.83" y="372.11" width="14.31" height="23.81" fill="#e0e0ff"/>
<rect x="521.12" y="372.11" width="14.31" height="23.81" fill="#c0c0ff"/>
<rect x="535.41" y="372.11" width="14.31" height="23.81" fill="#e0e0ff"/>
<rect x="549.69" y="372.11" width="14.31" height="23.81" fill="#e0e0ff"/>
<rect x="563.98" y="372.11" width="14.31" height="23.81" fill="#e0e0ff"/>
<rect x="578.27" y="372.11" width="14.31" height="23.81" fill="#e0e0ff"/>
<rect x="592.55" y="372.11" width="14.31" height="23.81" fill="#e0e0ff"/>
<rect x="606.84" y="372.11" width="14.31" height="23.81" fill="#c0c0ff"/>
<rect x="621.13" y="372.11" width="14.31" height="23.81" fill="#e0e0ff"/>
<rect x="635.41" y="372.11" width="14.31" height="23.81" fill="#d0d0ff"/>
<rect x="649.70" y="372.11" width="14.31" height="23.81" fill="#c0c0ff"/>
<rect x="663.99" y="372.11" width="14.31" height="23.81" fill="#f5f5ff"/>
<rect x="678.27" y="372.11" width="14.31" height="23.81" fill="#d0d0ff"/>
<rect x="692.56" y="372.11" width="14.31" height="23.81" fill="#e0e0ff"/>
<rect x="706.85" y="372.11" width="14.31" height="23.81" fill="#e0e0ff"/>
<rect x="721.13" y="372.11" width="14.31" height="23.81" fill="#e0e0ff"/>
<rect x="735.42" y="372.11" width="14.31" height="23.81" fill="#e0e0ff"/>
<rect x="749.71" y="372.11" width="14.31" height="23.81" fill="#e0e0ff"/>
<rect x="763.99" y="372.11" width="14.31" height="23.81" fill="#e0e0ff"/>
<rect x="778.28" y="372.11" width="14.31" height="23.81" fill="#8c8cff"/>
<rect x="792.57" y="372.11" width="14.31" height="23.81" fill="#e0e0ff"/>
<rect x="806.85" y="372.11" width="14.31" height="23.81" fill="#e0e0ff"/>
<rect x="821.14" y="372.11" width="14.31" height="23.81" fill="#e0e0ff"/>
<rect x="835.43" y="372.11" width="14.31" height="23.81" fill="#e0e0ff"/>
<rect x="849.71" y="372.11" width="14.31" height="23.81" fill="#d0d0ff"/>
<rect x="221.10" y="395.91" width="14.31" height="23.81" fill="#e0e0ff"/>
<rect x="235.39" y="395.91" width="14.31" height="23.81" fill="#e0e0ff"/>
<rect x="249.67" y="395.91" width="14.31" height="23.81" fill="#e0e0ff"/>
<rect x="263.96" y="395.91" width="14.31" height="23.81" fill="#e0e0ff"/>
<rect x="278.25" y="395.91" width="14.31" height="23.81" fill="#e0e0ff"/>
<rect x="292.53" y="395.91" width="14.31" height="23.81" fill="#e0e0ff"/>
<rect x="306.82" y="395.91" width="14.31" height="23.81" fill="#e0e0ff"/>
<rect x="321.11" y="395.91" width="14.31" height="23.81" fill="#eaeaff"/>
<rect x="335.39" y="395.91" width="14.31" height="23.81" fill="#e0e0ff"/>
<rect x="349.68" y="395.91" width="14.31" height="23.81" fill="#e0e0ff"/>
<rect x="363.97" y="395.91" width="14.31" height="23.81" fill="#e0e0ff"/>
<rect x="378.25" y="395.91" width="14.31" height="23.81" fill="#e0e0ff"/>
<rect x="392.54" y="395.91" width="14.31" height="23.81" fill="#d0d0ff"/>
<rect x="406.83" y="395.91" width="14.31" height="23.81" fill="#e0e0ff"/>
<rect x="421.11" y="395.91" width="14.31" height="23.81" fill="#e0e0ff"/>
<rect x="435.40" y="395.91" width="14.31" height="23.81" fill="#e0e0ff"/>
<rect x="449.69" y="395.91" width="14.31" height="23.81" fill="#e0e0ff"/>
<rect x="463.97" y="395.91" width="14.31" height="23.81" fill="#e0e0ff"/>
<rect x="478.26" y="395.91" width="14.31" height="23.81" fill="#e0e0ff"/>
<rect x="492.55" y="395.91" width="14.31" height="23.81" fill="#d0d0ff"/>
<rect x="506.83" y="395.91" width="14.31" height="23.81" fill="#e0e0ff"/>
<rect x="521.12" y="395.91" width="14.31" height="23.81" fill="#c0c0ff"/>
<rect x="535.41" y="395.91" width="14.31" height="23.81" fill="#e0e0ff"/>
<rect x="549.69" y="395.91" width="14.31" height="23.81" fill="#e0e0ff"/>
<rect x="563.98" y="395.91" width="14.31" height="23.81" fill="#e0e0ff"/>
<rect x="578.27" y="395.91" width="14.31" height="23.81" fill="#e0e0ff"/>
<rect x="592.55" y="395.91" width="14.31" height="23.81" fill="#e0e0ff"/>
<rect x="606.84" y="395.91" width="14.31" height="23.81" fill="#ffffff"/>
<rect x="621.13" y="395.91" width="14.31" height="23.81" fill="#e0e0ff"/>
<rect x="635.41" y="395.91" width="14.31" height="23.81" fill="#d0d0ff"/>
<rect x="649.70" y="395.91" width="14.31" height="23.81" fill="#d0d0ff"/>
<rect x="663.99" y="395.91" width="14.31" height="23.81" fill="#d0d0ff"/>
<rect x="678.27" y="395.91" width="14.31" height="23.81" fill="#e0e0ff"/>
<rect x="692.56" y="395.91" width="14.31" height="23.81" fill="#e0e0ff"/>
<rect x="706.85" y="395.91" width="14.31" height="23.81" fill="#d0d0ff"/>
<rect x="721.13" y="395.91" width="14.31" height="23.81" fill="#e0e0ff"/>
<rect x="735.42" y="395.91" width="14.31" height="23.81" fill="#e0e0ff"/>
<rect x="749.71" y="395.91" width="14.31" height="23.81" fill="#e0e0ff"/>
<rect x="763.99" y="395.91" width="14.31" height="23.81" fill="#e0e0ff"/>
<rect x="778.28" y="395.91" width="14.31" height="23.81" fill="#ffe1e1"/>
<rect x="792.57" y="395.91" width="14.31" height="23.81" fill="#d0d0ff"/>
<rect x="806.85" y="395.91" width="14.31" height="23.81" fill="#e0e0ff"/>
<rect x="821.14" y="395.91" width="14.31" height="23.81" fill="#e0e0ff"/>
<rect x="835.43" y="395.91" width="14.31" height="23.81" fill="#e0e0ff"/>
<rect x="849.71" y="395.91" width="14.31" height="23.81" fill="#d0d0ff"/>
<rect x="185.20" y="15.20" width="6.70" height="23.81" fill="#ff0000"/>
<rect x="185.20" y="38.99" width="6.70" height="23.81" fill="#c0c0ff"/>
<rect x="185.20" y="62.79" width="6.70" height="23.81" fill="#fff2f2"/>
<rect x="185.20" y="86.58" width="6.70" height="23.81" fill="#c0c0ff"/>
<rect x="185.20" y="110.38" width="6.70" height="23.81" fill="#c0c0ff"/>
<rect x="185.20" y="134.17" width="6.70" height="23.81" fill="#ffffff"/>
<rect x="185.20" y="157.96" width="6.70" height="23.81" fill="#ffffff"/>
<rect x="185.20" y="181.76" width="6.70" height="23.81" fill="#fff2f2"/>
<rect x="185.20" y="205.55" width="6.70" height="23.81" fill="#c0c0ff"/>
<rect x="185.20" y="229.35" width="6.70" height="23.81" fill="#ffc8c8"/>
<rect x="185.20" y="253.14" width="6.70" height="23.81" fill="#ffd4d4"/>
<rect x="185.20" y="276.94" width="6.70" height="23.81" fill="#a2a2ff"/>
<rect x="185.20" y="300.73" width="6.70" height="23.81" fill="#ffffff"/>
<rect x="185.20" y="324.52" width="6.70" height="23.81" fill="#a2a2ff"/>
<rect x="185.20" y="348.32" width="6.70" height="23.81" fill="#f5f5ff"/>
<rect x="185.20" y="372.11" width="6.70" height="23.81" fill="#8c8cff"/>
<rect x="185.20" y="395.91" width="6.70" height="23.81" fill="#eaeaff"/>
<line x1="176.20" y1="27.10" x2="184.80" y2="27.10" stroke="#000" stroke-width="1.8"/>
<line x1="176.20" y1="50.89" x2="184.80" y2="50.89" stroke="#000" stroke-width="1.8"/>
<line x1="176.20" y1="74.69" x2="184.80" y2="74.69" stroke="#000" stroke-width="1.8"/>
<line x1="176.20" y1="98.48" x2="184.80" y2="98.48" stroke="#000" stroke-width="1.8"/>
<line x1="176.20" y1="122.27" x2="184.80" y2="122.27" stroke="#000" stroke-width="1.8"/>
<line x1="176.20" y1="146.07" x2="184.80" y2="146.07" stroke="#000" stroke-width="1.8"/>
<line x1="176.20" y1="169.86" x2="184.80" y2="169.86" stroke="#000" stroke-width="1.8"/>
<line x1="176.20" y1="193.66" x2="184.80" y2="193.66" stroke="#000" stroke-width="1.8"/>
<line x1="176.20" y1="217.45" x2="184.80" y2="217.45" stroke="#000" stroke-width="1.8"/>
<line x1="176.20" y1="241.24" x2="184.80" y2="241.24" stroke="#000" stroke-width="1.8"/>
<line x1="176.20" y1="265.04" x2="184.80" y2="265.04" stroke="#000" stroke-width="1.8"/>
<line x1="176.20" y1="288.83" x2="184.80" y2="288.83" stroke="#000" stroke-width="1.8"/>
<line x1="176.20" y1="312.63" x2="184.80" y2="312.63" stroke="#000" stroke-width="1.8"/>
<line x1="176.20" y1="336.42" x2="184.80" y2="336.42" stroke="#000" stroke-width="1.8"/>
<line x1="176.20" y1="360.21" x2="184.80" y2="360.21" stroke="#000" stroke-width="1.8"/>
<line x1="176.20" y1="384.01" x2="184.80" y2="384.01" stroke="#000" stroke-width="1.8"/>
<line x1="176.20" y1="407.80" x2="184.80" y2="407.80" stroke="#000" stroke-width="1.8"/>
<line x1="212.10" y1="27.10" x2="220.50" y2="27.10" stroke="#000" stroke-width="1.8"/>
<line x1="212.10" y1="50.89" x2="220.50" y2="50.89" stroke="#000" stroke-width="1.8"/>
<line x1="212.10" y1="74.69" x2="220.50" y2="74.69" stroke="#000" stroke-width="1.8"/>
<line x1="212.10" y1="98.48" x2="220.50" y2="98.48" stroke="#000" stroke-width="1.8"/>
<line x1="212.10" y1="122.27" x2="220.50" y2="122.27" stroke="#000" stroke-width="1.8"/>
<line x1="212.10" y1="146.07" x2="220.50" y2="146.07" stroke="#000" stroke-width="1.8"/>
<line x1="212.10" y1="169.86" x2="220.50" y2="169.86" stroke="#000" stroke-width="1.8"/>
<line x1="212.10" y1="193.66" x2="220.50" y2="193.66" stroke="#000" stroke-width="1.8"/>
<line x1="212.10" y1="217.45" x2="220.50" y2="217.45" stroke="#000" stroke-width="1.8"/>
<line x1="212.10" y1="241.24" x2="220.50" y2="241.24" stroke="#000" stroke-width="1.8"/>
<line x1="212.10" y1="265.04" x2="220.50" y2="265.04" stroke="#000" stroke-width="1.8"/>
<line x1="212.10" y1="288.83" x2="220.50" y2="288.83" stroke="#000" stroke-width="1.8"/>
<line x1="212.10" y1="312.63" x2="220.50" y2="312.63" stroke="#000" stroke-width="1.8"/>
<line x1="212.10" y1="336.42" x2="220.50" y2="336.42" stroke="#000" stroke-width="1.8"/>
<line x1="212.10" y1="360.21" x2="220.50" y2="360.21" stroke="#000" stroke-width="1.8"/>
<line x1="212.10" y1="384.01" x2="220.50" y2="384.01" stroke="#000" stroke-width="1.8"/>
<line x1="212.10" y1="407.80" x2="220.50" y2="407.80" stroke="#000" stroke-width="1.8"/>
<text x="167.00" y="25.60" font-size="18.3" text-anchor="end" dominant-baseline="central" transform="rotate(-10 167.00 25.60)">testis</text>
<text x="167.00" y="49.39" font-size="18.3" text-anchor="end" dominant-baseline="central" transform="rotate(-10 167.00 49.39)">trachea</text>
<text x="167.00" y="73.19" font-size="18.3" text-anchor="end" dominant-baseline="central" transform="rotate(-10 167.00 73.19)">ovary</text>
<text x="167.00" y="96.98" font-size="18.3" text-anchor="end" dominant-baseline="central" transform="rotate(-10 167.00 96.98)">fat_body</text>
<text x="167.00" y="120.77" font-size="18.3" text-anchor="end" dominant-baseline="central" transform="rotate(-10 167.00 120.77)">gut</text>
<text x="167.00" y="144.57" font-size="18.3" text-anchor="end" dominant-baseline="central" transform="rotate(-10 167.00 144.57)">head</text>
<text x="167.00" y="168.36" font-size="18.3" text-anchor="end" dominant-baseline="central" transform="rotate(-10 167.00 168.36)">antenna</text>
<text x="167.00" y="192.16" font-size="18.3" text-anchor="end" dominant-baseline="central" transform="rotate(-10 167.00 192.16)">male glands</text>
<text x="167.00" y="215.95" font-size="18.3" text-anchor="end" dominant-baseline="central" transform="rotate(-10 167.00 215.95)">malpighian_tubule</text>
<text x="167.00" y="239.74" font-size="18.3" text-anchor="end" dominant-baseline="central" transform="rotate(-10 167.00 239.74)">body</text>
<text x="167.00" y="263.54" font-size="18.3" text-anchor="end" dominant-baseline="central" transform="rotate(-10 167.00 263.54)">haltere</text>
<text x="167.00" y="287.33" font-size="18.3" text-anchor="end" dominant-baseline="central" transform="rotate(-10 167.00 287.33)">heart</text>
<text x="167.00" y="311.13" font-size="18.3" text-anchor="end" dominant-baseline="central" transform="rotate(-10 167.00 311.13)">wing</text>
<text x="167.00" y="334.92" font-size="18.3" text-anchor="end" dominant-baseline="central" transform="rotate(-10 167.00 334.92)">oenocyte</text>
<text x="167.00" y="358.71" font-size="18.3" text-anchor="end" dominant-baseline="central" transform="rotate(-10 167.00 358.71)">leg</text>
<text x="167.00" y="382.51" font-size="18.3" text-anchor="end" dominant-baseline="central" transform="rotate(-10 167.00 382.51)">body_wall</text>
<text x="167.00" y="406.30" font-size="18.3" text-anchor="end" dominant-baseline="central" transform="rotate(-10 167.00 406.30)">proboscis &amp; maxpalp</text>
<text x="55.00" y="19.70" font-size="28" text-anchor="start">A</text>
<text x="173.60" y="444.20" font-size="18.3" text-anchor="start">achi</text>
<text x="355.90" y="446.70" font-size="18.3" text-anchor="start">Achi regulated de novo gene candidates</text>
<text x="872.90" y="11.20" font-size="13.4" text-anchor="start">Scaled</text>
<text x="872.90" y="24.90" font-size="13.4" text-anchor="start">expression</text>
<defs><linearGradient id="g36" x1="0" y1="0" x2="0" y2="1"><stop offset="0" stop-color="#ff1010"/><stop offset="0.5" stop-color="#ffffff"/><stop offset="1" stop-color="#1010ff"/></linearGradient><linearGradient id="g36b" x1="0" y1="0" x2="0" y2="1"><stop offset="0" stop-color="#500000"/><stop offset="0.5" stop-color="#111111"/><stop offset="1" stop-color="#000060"/></linearGradient></defs>
<rect x="876.20" y="36.90" width="11.30" height="63.90" fill="url(#g36b)"/>
<rect x="877.60" y="38.30" width="8.50" height="61.10" fill="url(#g36)"/>
<line x1="886.80" y1="36.90" x2="886.80" y2="100.80" stroke="#000" stroke-width="1.5"/>
<line x1="886.80" y1="38.90" x2="894.80" y2="38.90" stroke="#000" stroke-width="1.5"/>
<text x="903.00" y="43.70" font-size="13.4" text-anchor="start">3</text>
<line x1="886.80" y1="68.85" x2="894.80" y2="68.85" stroke="#000" stroke-width="1.5"/>
<text x="903.00" y="73.65" font-size="13.4" text-anchor="start">0</text>
<line x1="886.80" y1="98.80" x2="894.80" y2="98.80" stroke="#000" stroke-width="1.5"/>
<text x="903.00" y="103.60" font-size="13.4" text-anchor="start">-3</text>
<rect x="221.10" y="666.90" width="9.76" height="23.75" fill="#ff0000"/>
<rect x="230.84" y="666.90" width="9.76" height="23.75" fill="#ff0000"/>
<rect x="240.58" y="666.90" width="9.76" height="23.75" fill="#ff0000"/>
<rect x="250.32" y="666.90" width="9.76" height="23.75" fill="#ff0000"/>
<rect x="260.06" y="666.90" width="9.76" height="23.75" fill="#ff0000"/>
<rect x="269.80" y="666.90" width="9.76" height="23.75" fill="#ff0000"/>
<rect x="279.55" y="666.90" width="9.76" height="23.75" fill="#ff0000"/>
<rect x="289.29" y="666.90" width="9.76" height="23.75" fill="#ff0000"/>
<rect x="299.03" y="666.90" width="9.76" height="23.75" fill="#ff0000"/>
<rect x="308.77" y="666.90" width="9.76" height="23.75" fill="#c0c0ff"/>
<rect x="318.51" y="666.90" width="9.76" height="23.75" fill="#ff0000"/>
<rect x="328.25" y="666.90" width="9.76" height="23.75" fill="#ff0000"/>
<rect x="337.99" y="666.90" width="9.76" height="23.75" fill="#ff0000"/>
<rect x="347.73" y="666.90" width="9.76" height="23.75" fill="#ff0000"/>
<rect x="357.47" y="666.90" width="9.76" height="23.75" fill="#ff0000"/>
<rect x="367.21" y="666.90" width="9.76" height="23.75" fill="#ff0000"/>
<rect x="376.95" y="666.90" width="9.76" height="23.75" fill="#ff0000"/>
<rect x="386.70" y="666.90" width="9.76" height="23.75" fill="#ff0000"/>
<rect x="396.44" y="666.90" width="9.76" height="23.75" fill="#ff0000"/>
<rect x="406.18" y="666.90" width="9.76" height="23.75" fill="#ff0000"/>
<rect x="415.92" y="666.90" width="9.76" height="23.75" fill="#ff0000"/>
<rect x="425.66" y="666.90" width="9.76" height="23.75" fill="#ff0000"/>
<rect x="435.40" y="666.90" width="9.76" height="23.75" fill="#ff0000"/>
<rect x="445.14" y="666.90" width="9.76" height="23.75" fill="#ff0000"/>
<rect x="454.88" y="666.90" width="9.76" height="23.75" fill="#ff0000"/>
<rect x="464.62" y="666.90" width="9.76" height="23.75" fill="#ff5555"/>
<rect x="474.36" y="666.90" width="9.76" height="23.75" fill="#ff0000"/>
<rect x="484.10" y="666.90" width="9.76" height="23.75" fill="#c0c0ff"/>
<rect x="493.85" y="666.90" width="9.76" height="23.75" fill="#ff0000"/>
<rect x="503.59" y="666.90" width="9.76" height="23.75" fill="#d0d0ff"/>
<rect x="513.33" y="666.90" width="9.76" height="23.75" fill="#f5f5ff"/>
<rect x="523.07" y="666.90" width="9.76" height="23.75" fill="#ff0000"/>
<rect x="532.81" y="666.90" width="9.76" height="23.75" fill="#ff0000"/>
<rect x="542.55" y="666.90" width="9.76" height="23.75" fill="#ff0000"/>
<rect x="552.29" y="666.90" width="9.76" height="23.75" fill="#ff0000"/>
<rect x="562.03" y="666.90" width="9.76" height="23.75" fill="#ff0000"/>
<rect x="571.77" y="666.90" width="9.76" height="23.75" fill="#ff0000"/>
<rect x="581.51" y="666.90" width="9.76" height="23.75" fill="#ff0000"/>
<rect x="591.25" y="666.90" width="9.76" height="23.75" fill="#ff0000"/>
<rect x="601.00" y="666.90" width="9.76" height="23.75" fill="#ff0000"/>
<rect x="610.74" y="666.90" width="9.76" height="23.75" fill="#ffa6a6"/>
<rect x="620.48" y="666.90" width="9.76" height="23.75" fill="#ff0000"/>
<rect x="630.22" y="666.90" width="9.76" height="23.75" fill="#ff0000"/>
<rect x="639.96" y="666.90" width="9.76" height="23.75" fill="#ff0000"/>
<rect x="649.70" y="666.90" width="9.76" height="23.75" fill="#6e6eff"/>
<rect x="659.44" y="666.90" width="9.76" height="23.75" fill="#c0c0ff"/>
<rect x="669.18" y="666.90" width="9.76" height="23.75" fill="#a2a2ff"/>
<rect x="678.92" y="666.90" width="9.76" height="23.75" fill="#ff0000"/>
<rect x="688.66" y="666.90" width="9.76" height="23.75" fill="#ff0000"/>
<rect x="698.40" y="666.90" width="9.76" height="23.75" fill="#ff8080"/>
<rect x="708.15" y="666.90" width="9.76" height="23.75" fill="#ff5555"/>
<rect x="717.89" y="666.90" width="9.76" height="23.75" fill="#8c8cff"/>
<rect x="727.63" y="666.90" width="9.76" height="23.75" fill="#ff0000"/>
<rect x="737.37" y="666.90" width="9.76" height="23.75" fill="#ff0000"/>
<rect x="747.11" y="666.90" width="9.76" height="23.75" fill="#ff0000"/>
<rect x="756.85" y="666.90" width="9.76" height="23.75" fill="#ff0000"/>
<rect x="766.59" y="666.90" width="9.76" height="23.75" fill="#ff0000"/>
<rect x="776.33" y="666.90" width="9.76" height="23.75" fill="#ff0000"/>
<rect x="786.07" y="666.90" width="9.76" height="23.75" fill="#ff0000"/>
<rect x="795.81" y="666.90" width="9.76" height="23.75" fill="#ff0000"/>
<rect x="805.55" y="666.90" width="9.76" height="23.75" fill="#ff0000"/>
<rect x="815.30" y="666.90" width="9.76" height="23.75" fill="#ff0000"/>
<rect x="825.04" y="666.90" width="9.76" height="23.75" fill="#ff0000"/>
<rect x="834.78" y="666.90" width="9.76" height="23.75" fill="#ff0000"/>
<rect x="844.52" y="666.90" width="9.76" height="23.75" fill="#ff0000"/>
<rect x="854.26" y="666.90" width="9.76" height="23.75" fill="#ff0000"/>
<rect x="221.10" y="690.63" width="9.76" height="23.75" fill="#e0e0ff"/>
<rect x="230.84" y="690.63" width="9.76" height="23.75" fill="#e0e0ff"/>
<rect x="240.58" y="690.63" width="9.76" height="23.75" fill="#e0e0ff"/>
<rect x="250.32" y="690.63" width="9.76" height="23.75" fill="#d0d0ff"/>
<rect x="260.06" y="690.63" width="9.76" height="23.75" fill="#a2a2ff"/>
<rect x="269.80" y="690.63" width="9.76" height="23.75" fill="#e0e0ff"/>
<rect x="279.55" y="690.63" width="9.76" height="23.75" fill="#e0e0ff"/>
<rect x="289.29" y="690.63" width="9.76" height="23.75" fill="#d0d0ff"/>
<rect x="299.03" y="690.63" width="9.76" height="23.75" fill="#e0e0ff"/>
<rect x="308.77" y="690.63" width="9.76" height="23.75" fill="#c0c0ff"/>
<rect x="318.51" y="690.63" width="9.76" height="23.75" fill="#e0e0ff"/>
<rect x="328.25" y="690.63" width="9.76" height="23.75" fill="#e0e0ff"/>
<rect x="337.99" y="690.63" width="9.76" height="23.75" fill="#e0e0ff"/>
<rect x="347.73" y="690.63" width="9.76" height="23.75" fill="#e0e0ff"/>
<rect x="357.47" y="690.63" width="9.76" height="23.75" fill="#e0e0ff"/>
<rect x="367.21" y="690.63" width="9.76" height="23.75" fill="#e0e0ff"/>
<rect x="376.95" y="690.63" width="9.76" height="23.75" fill="#d0d0ff"/>
<rect x="386.70" y="690.63" width="9.76" height="23.75" fill="#ffc8c8"/>
<rect x="396.44" y="690.63" width="9.76" height="23.75" fill="#e0e0ff"/>
<rect x="406.18" y="690.63" width="9.76" height="23.75" fill="#e0e0ff"/>
<rect x="415.92" y="690.63" width="9.76" height="23.75" fill="#e0e0ff"/>
<rect x="425.66" y="690.63" width="9.76" height="23.75" fill="#e0e0ff"/>
<rect x="435.40" y="690.63" width="9.76" height="23.75" fill="#e0e0ff"/>
<rect x="445.14" y="690.63" width="9.76" height="23.75" fill="#e0e0ff"/>
<rect x="454.88" y="690.63" width="9.76" height="23.75" fill="#d0d0ff"/>
<rect x="464.62" y="690.63" width="9.76" height="23.75" fill="#6e6eff"/>
<rect x="474.36" y="690.63" width="9.76" height="23.75" fill="#e0e0ff"/>
<rect x="484.10" y="690.63" width="9.76" height="23.75" fill="#c0c0ff"/>
<rect x="493.85" y="690.63" width="9.76" height="23.75" fill="#e0e0ff"/>
<rect x="503.59" y="690.63" width="9.76" height="23.75" fill="#a2a2ff"/>
<rect x="513.33" y="690.63" width="9.76" height="23.75" fill="#e0e0ff"/>
<rect x="523.07" y="690.63" width="9.76" height="23.75" fill="#e0e0ff"/>
<rect x="532.81" y="690.63" width="9.76" height="23.75" fill="#e0e0ff"/>
<rect x="542.55" y="690.63" width="9.76" height="23.75" fill="#e0e0ff"/>
<rect x="552.29" y="690.63" width="9.76" height="23.75" fill="#e0e0ff"/>
<rect x="562.03" y="690.63" width="9.76" height="23.75" fill="#e0e0ff"/>
<rect x="571.77" y="690.63" width="9.76" height="23.75" fill="#e0e0ff"/>
<rect x="581.51" y="690.63" width="9.76" height="23.75" fill="#d0d0ff"/>
<rect x="591.25" y="690.63" width="9.76" height="23.75" fill="#e0e0ff"/>
<rect x="601.00" y="690.63" width="9.76" height="23.75" fill="#e0e0ff"/>
<rect x="610.74" y="690.63" width="9.76" height="23.75" fill="#f5f5ff"/>
<rect x="620.48" y="690.63" width="9.76" height="23.75" fill="#e0e0ff"/>
<rect x="630.22" y="690.63" width="9.76" height="23.75" fill="#e0e0ff"/>
<rect x="639.96" y="690.63" width="9.76" height="23.75" fill="#e0e0ff"/>
<rect x="649.70" y="690.63" width="9.76" height="23.75" fill="#ffffff"/>
<rect x="659.44" y="690.63" width="9.76" height="23.75" fill="#ff2222"/>
<rect x="669.18" y="690.63" width="9.76" height="23.75" fill="#a2a2ff"/>
<rect x="678.92" y="690.63" width="9.76" height="23.75" fill="#e0e0ff"/>
<rect x="688.66" y="690.63" width="9.76" height="23.75" fill="#e0e0ff"/>
<rect x="698.40" y="690.63" width="9.76" height="23.75" fill="#5151ff"/>
<rect x="708.15" y="690.63" width="9.76" height="23.75" fill="#c0c0ff"/>
<rect x="717.89" y="690.63" width="9.76" height="23.75" fill="#ff5555"/>
<rect x="727.63" y="690.63" width="9.76" height="23.75" fill="#eaeaff"/>
<rect x="737.37" y="690.63" width="9.76" height="23.75" fill="#e0e0ff"/>
<rect x="747.11" y="690.63" width="9.76" height="23.75" fill="#e0e0ff"/>
<rect x="756.85" y="690.63" width="9.76" height="23.75" fill="#e0e0ff"/>
<rect x="766.59" y="690.63" width="9.76" height="23.75" fill="#e0e0ff"/>
<rect x="776.33" y="690.63" width="9.76" height="23.75" fill="#e0e0ff"/>
<rect x="786.07" y="690.63" width="9.76" height="23.75" fill="#e0e0ff"/>
<rect x="795.81" y="690.63" width="9.76" height="23.75" fill="#e0e0ff"/>
<rect x="805.55" y="690.63" width="9.76" height="23.75" fill="#e0e0ff"/>
<rect x="815.30" y="690.63" width="9.76" height="23.75" fill="#fff2f2"/>
<rect x="825.04" y="690.63" width="9.76" height="23.75" fill="#e0e0ff"/>
<rect x="834.78" y="690.63" width="9.76" height="23.75" fill="#e0e0ff"/>
<rect x="844.52" y="690.63" width="9.76" height="23.75" fill="#eaeaff"/>
<rect x="854.26" y="690.63" width="9.76" height="23.75" fill="#e0e0ff"/>
<rect x="221.10" y="714.36" width="9.76" height="23.75" fill="#e0e0ff"/>
<rect x="230.84" y="714.36" width="9.76" height="23.75" fill="#e0e0ff"/>
<rect x="240.58" y="714.36" width="9.76" height="23.75" fill="#e0e0ff"/>
<rect x="250.32" y="714.36" width="9.76" height="23.75" fill="#e0e0ff"/>
<rect x="260.06" y="714.36" width="9.76" height="23.75" fill="#a2a2ff"/>
<rect x="269.80" y="714.36" width="9.76" height="23.75" fill="#e0e0ff"/>
<rect x="279.55" y="714.36" width="9.76" height="23.75" fill="#e0e0ff"/>
<rect x="289.29" y="714.36" width="9.76" height="23.75" fill="#d0d0ff"/>
<rect x="299.03" y="714.36" width="9.76" height="23.75" fill="#e0e0ff"/>
<rect x="308.77" y="714.36" width="9.76" height="23.75" fill="#c0c0ff"/>
<rect x="318.51" y="714.36" width="9.76" height="23.75" fill="#e0e0ff"/>
<rect x="328.25" y="714.36" width="9.76" height="23.75" fill="#eaeaff"/>
<rect x="337.99" y="714.36" width="9.76" height="23.75" fill="#e0e0ff"/>
<rect x="347.73" y="714.36" width="9.76" height="23.75" fill="#e0e0ff"/>
<rect x="357.47" y="714.36" width="9.76" height="23.75" fill="#e0e0ff"/>
<rect x="367.21" y="714.36" width="9.76" height="23.75" fill="#eaeaff"/>
<rect x="376.95" y="714.36" width="9.76" height="23.75" fill="#c0c0ff"/>
<rect x="386.70" y="714.36" width="9.76" height="23.75" fill="#e0e0ff"/>
<rect x="396.44" y="714.36" width="9.76" height="23.75" fill="#e0e0ff"/>
<rect x="406.18" y="714.36" width="9.76" height="23.75" fill="#e0e0ff"/>
<rect x="415.92" y="714.36" width="9.76" height="23.75" fill="#e0e0ff"/>
<rect x="425.66" y="714.36" width="9.76" height="23.75" fill="#e0e0ff"/>
<rect x="435.40" y="714.36" width="9.76" height="23.75" fill="#e0e0ff"/>
<rect x="445.14" y="714.36" width="9.76" height="23.75" fill="#e0e0ff"/>
<rect x="454.88" y="714.36" width="9.76" height="23.75" fill="#e0e0ff"/>
<rect x="464.62" y="714.36" width="9.76" height="23.75" fill="#5151ff"/>
<rect x="474.36" y="714.36" width="9.76" height="23.75" fill="#e0e0ff"/>
<rect x="484.10" y="714.36" width="9.76" height="23.75" fill="#a2a2ff"/>
<rect x="493.85" y="714.36" width="9.76" height="23.75" fill="#e0e0ff"/>
<rect x="503.59" y="714.36" width="9.76" height="23.75" fill="#e0e0ff"/>
<rect x="513.33" y="714.36" width="9.76" height="23.75" fill="#e0e0ff"/>
<rect x="523.07" y="714.36" width="9.76" height="23.75" fill="#e0e0ff"/>
<rect x="532.81" y="714.36" width="9.76" height="23.75" fill="#e0e0ff"/>
<rect x="542.55" y="714.36" width="9.76" height="23.75" fill="#e0e0ff"/>
<rect x="552.29" y="714.36" width="9.76" height="23.75" fill="#e0e0ff"/>
<rect x="562.03" y="714.36" width="9.76" height="23.75" fill="#e0e0ff"/>
<rect x="571.77" y="714.36" width="9.76" height="23.75" fill="#e0e0ff"/>
<rect x="581.51" y="714.36" width="9.76" height="23.75" fill="#d0d0ff"/>
<rect x="591.25" y="714.36" width="9.76" height="23.75" fill="#e0e0ff"/>
<rect x="601.00" y="714.36" width="9.76" height="23.75" fill="#e0e0ff"/>
<rect x="610.74" y="714.36" width="9.76" height="23.75" fill="#fff2f2"/>
<rect x="620.48" y="714.36" width="9.76" height="23.75" fill="#e0e0ff"/>
<rect x="630.22" y="714.36" width="9.76" height="23.75" fill="#e0e0ff"/>
<rect x="639.96" y="714.36" width="9.76" height="23.75" fill="#e0e0ff"/>
<rect x="649.70" y="714.36" width="9.76" height="23.75" fill="#6e6eff"/>
<rect x="659.44" y="714.36" width="9.76" height="23.75" fill="#c0c0ff"/>
<rect x="669.18" y="714.36" width="9.76" height="23.75" fill="#8c8cff"/>
<rect x="678.92" y="714.36" width="9.76" height="23.75" fill="#e0e0ff"/>
<rect x="688.66" y="714.36" width="9.76" height="23.75" fill="#e0e0ff"/>
<rect x="698.40" y="714.36" width="9.76" height="23.75" fill="#8c8cff"/>
<rect x="708.15" y="714.36" width="9.76" height="23.75" fill="#6e6eff"/>
<rect x="717.89" y="714.36" width="9.76" height="23.75" fill="#ff5555"/>
<rect x="727.63" y="714.36" width="9.76" height="23.75" fill="#c0c0ff"/>
<rect x="737.37" y="714.36" width="9.76" height="23.75" fill="#e0e0ff"/>
<rect x="747.11" y="714.36" width="9.76" height="23.75" fill="#e0e0ff"/>
<rect x="756.85" y="714.36" width="9.76" height="23.75" fill="#e0e0ff"/>
<rect x="766.59" y="714.36" width="9.76" height="23.75" fill="#e0e0ff"/>
<rect x="776.33" y="714.36" width="9.76" height="23.75" fill="#e0e0ff"/>
<rect x="786.07" y="714.36" width="9.76" height="23.75" fill="#e0e0ff"/>
<rect x="795.81" y="714.36" width="9.76" height="23.75" fill="#e0e0ff"/>
<rect x="805.55" y="714.36" width="9.76" height="23.75" fill="#e0e0ff"/>
<rect x="815.30" y="714.36" width="9.76" height="23.75" fill="#c0c0ff"/>
<rect x="825.04" y="714.36" width="9.76" height="23.75" fill="#e0e0ff"/>
<rect x="834.78" y="714.36" width="9.76" height="23.75" fill="#e0e0ff"/>
<rect x="844.52" y="714.36" width="9.76" height="23.75" fill="#e0e0ff"/>
<rect x="854.26" y="714.36" width="9.76" height="23.75" fill="#e0e0ff"/>
<rect x="221.10" y="738.09" width="9.76" height="23.75" fill="#f5f5ff"/>
<rect x="230.84" y="738.09" width="9.76" height="23.75" fill="#f5f5ff"/>
<rect x="240.58" y="738.09" width="9.76" height="23.75" fill="#eaeaff"/>
<rect x="250.32" y="738.09" width="9.76" height="23.75" fill="#f5f5ff"/>
<rect x="260.06" y="738.09" width="9.76" height="23.75" fill="#ff0000"/>
<rect x="269.80" y="738.09" width="9.76" height="23.75" fill="#f5f5ff"/>
<rect x="279.55" y="738.09" width="9.76" height="23.75" fill="#f5f5ff"/>
<rect x="289.29" y="738.09" width="9.76" height="23.75" fill="#e0e0ff"/>
<rect x="299.03" y="738.09" width="9.76" height="23.75" fill="#f5f5ff"/>
<rect x="308.77" y="738.09" width="9.76" height="23.75" fill="#ff0000"/>
<rect x="318.51" y="738.09" width="9.76" height="23.75" fill="#eaeaff"/>
<rect x="328.25" y="738.09" width="9.76" height="23.75" fill="#eaeaff"/>
<rect x="337.99" y="738.09" width="9.76" height="23.75" fill="#f5f5ff"/>
<rect x="347.73" y="738.09" width="9.76" height="23.75" fill="#f5f5ff"/>
<rect x="357.47" y="738.09" width="9.76" height="23.75" fill="#eaeaff"/>
<rect x="367.21" y="738.09" width="9.76" height="23.75" fill="#f5f5ff"/>
<rect x="376.95" y="738.09" width="9.76" height="23.75" fill="#f5f5ff"/>
<rect x="386.70" y="738.09" width="9.76" height="23.75" fill="#e0e0ff"/>
<rect x="396.44" y="738.09" width="9.76" height="23.75" fill="#eaeaff"/>
<rect x="406.18" y="738.09" width="9.76" height="23.75" fill="#f5f5ff"/>
<rect x="415.92" y="738.09" width="9.76" height="23.75" fill="#f5f5ff"/>
<rect x="425.66" y="738.09" width="9.76" height="23.75" fill="#eaeaff"/>
<rect x="435.40" y="738.09" width="9.76" height="23.75" fill="#eaeaff"/>
<rect x="445.14" y="738.09" width="9.76" height="23.75" fill="#f5f5ff"/>
<rect x="454.88" y="738.09" width="9.76" height="23.75" fill="#f5f5ff"/>
<rect x="464.62" y="738.09" width="9.76" height="23.75" fill="#ff2222"/>
<rect x="474.36" y="738.09" width="9.76" height="23.75" fill="#f5f5ff"/>
<rect x="484.10" y="738.09" width="9.76" height="23.75" fill="#ff0000"/>
<rect x="493.85" y="738.09" width="9.76" height="23.75" fill="#f5f5ff"/>
<rect x="503.59" y="738.09" width="9.76" height="23.75" fill="#ff8080"/>
<rect x="513.33" y="738.09" width="9.76" height="23.75" fill="#eaeaff"/>
<rect x="523.07" y="738.09" width="9.76" height="23.75" fill="#f5f5ff"/>
<rect x="532.81" y="738.09" width="9.76" height="23.75" fill="#f5f5ff"/>
<rect x="542.55" y="738.09" width="9.76" height="23.75" fill="#f5f5ff"/>
<rect x="552.29" y="738.09" width="9.76" height="23.75" fill="#f5f5ff"/>
<rect x="562.03" y="738.09" width="9.76" height="23.75" fill="#f5f5ff"/>
<rect x="571.77" y="738.09" width="9.76" height="23.75" fill="#f5f5ff"/>
<rect x="581.51" y="738.09" width="9.76" height="23.75" fill="#eaeaff"/>
<rect x="591.25" y="738.09" width="9.76" height="23.75" fill="#f5f5ff"/>
<rect x="601.00" y="738.09" width="9.76" height="23.75" fill="#eaeaff"/>
<rect x="610.74" y="738.09" width="9.76" height="23.75" fill="#ff0000"/>
<rect x="620.48" y="738.09" width="9.76" height="23.75" fill="#f5f5ff"/>
<rect x="630.22" y="738.09" width="9.76" height="23.75" fill="#f5f5ff"/>
<rect x="639.96" y="738.09" width="9.76" height="23.75" fill="#ffffff"/>
<rect x="649.70" y="738.09" width="9.76" height="23.75" fill="#ffa6a6"/>
<rect x="659.44" y="738.09" width="9.76" height="23.75" fill="#ffa6a6"/>
<rect x="669.18" y="738.09" width="9.76" height="23.75" fill="#ff2222"/>
<rect x="678.92" y="738.09" width="9.76" height="23.75" fill="#f5f5ff"/>
<rect x="688.66" y="738.09" width="9.76" height="23.75" fill="#f5f5ff"/>
<rect x="698.40" y="738.09" width="9.76" height="23.75" fill="#5151ff"/>
<rect x="708.15" y="738.09" width="9.76" height="23.75" fill="#d0d0ff"/>
<rect x="717.89" y="738.09" width="9.76" height="23.75" fill="#ffa6a6"/>
<rect x="727.63" y="738.09" width="9.76" height="23.75" fill="#fff2f2"/>
<rect x="737.37" y="738.09" width="9.76" height="23.75" fill="#eaeaff"/>
<rect x="747.11" y="738.09" width="9.76" height="23.75" fill="#ffffff"/>
<rect x="756.85" y="738.09" width="9.76" height="23.75" fill="#f5f5ff"/>
<rect x="766.59" y="738.09" width="9.76" height="23.75" fill="#f5f5ff"/>
<rect x="776.33" y="738.09" width="9.76" height="23.75" fill="#ffffff"/>
<rect x="786.07" y="738.09" width="9.76" height="23.75" fill="#eaeaff"/>
<rect x="795.81" y="738.09" width="9.76" height="23.75" fill="#f5f5ff"/>
<rect x="805.55" y="738.09" width="9.76" height="23.75" fill="#eaeaff"/>
<rect x="815.30" y="738.09" width="9.76" height="23.75" fill="#ff2222"/>
<rect x="825.04" y="738.09" width="9.76" height="23.75" fill="#f5f5ff"/>
<rect x="834.78" y="738.09" width="9.76" height="23.75" fill="#f5f5ff"/>
<rect x="844.52" y="738.09" width="9.76" height="23.75" fill="#f5f5ff"/>
<rect x="854.26" y="738.09" width="9.76" height="23.75" fill="#f5f5ff"/>
<rect x="221.10" y="761.82" width="9.76" height="23.75" fill="#e0e0ff"/>
<rect x="230.84" y="761.82" width="9.76" height="23.75" fill="#e0e0ff"/>
<rect x="240.58" y="761.82" width="9.76" height="23.75" fill="#e0e0ff"/>
<rect x="250.32" y="761.82" width="9.76" height="23.75" fill="#d0d0ff"/>
<rect x="260.06" y="761.82" width="9.76" height="23.75" fill="#c0c0ff"/>
<rect x="269.80" y="761.82" width="9.76" height="23.75" fill="#e0e0ff"/>
<rect x="279.55" y="761.82" width="9.76" height="23.75" fill="#e0e0ff"/>
<rect x="289.29" y="761.82" width="9.76" height="23.75" fill="#e0e0ff"/>
<rect x="299.03" y="761.82" width="9.76" height="23.75" fill="#e0e0ff"/>
<rect x="308.77" y="761.82" width="9.76" height="23.75" fill="#ff5555"/>
<rect x="318.51" y="761.82" width="9.76" height="23.75" fill="#e0e0ff"/>
<rect x="328.25" y="761.82" width="9.76" height="23.75" fill="#e0e0ff"/>
<rect x="337.99" y="761.82" width="9.76" height="23.75" fill="#e0e0ff"/>
<rect x="347.73" y="761.82" width="9.76" height="23.75" fill="#e0e0ff"/>
<rect x="357.47" y="761.82" width="9.76" height="23.75" fill="#e0e0ff"/>
<rect x="367.21" y="761.82" width="9.76" height="23.75" fill="#e0e0ff"/>
<rect x="376.95" y="761.82" width="9.76" height="23.75" fill="#f5f5ff"/>
<rect x="386.70" y="761.82" width="9.76" height="23.75" fill="#e0e0ff"/>
<rect x="396.44" y="761.82" width="9.76" height="23.75" fill="#e0e0ff"/>
<rect x="406.18" y="761.82" width="9.76" height="23.75" fill="#e0e0ff"/>
<rect x="415.92" y="761.82" width="9.76" height="23.75" fill="#e0e0ff"/>
<rect x="425.66" y="761.82" width="9.76" height="23.75" fill="#eaeaff"/>
<rect x="435.40" y="761.82" width="9.76" height="23.75" fill="#e0e0ff"/>
<rect x="445.14" y="761.82" width="9.76" height="23.75" fill="#e0e0ff"/>
<rect x="454.88" y="761.82" width="9.76" height="23.75" fill="#ffc8c8"/>
<rect x="464.62" y="761.82" width="9.76" height="23.75" fill="#8c8cff"/>
<rect x="474.36" y="761.82" width="9.76" height="23.75" fill="#e0e0ff"/>
<rect x="484.10" y="761.82" width="9.76" height="23.75" fill="#e0e0ff"/>
<rect x="493.85" y="761.82" width="9.76" height="23.75" fill="#e0e0ff"/>
<rect x="503.59" y="761.82" width="9.76" height="23.75" fill="#ff0000"/>
<rect x="513.33" y="761.82" width="9.76" height="23.75" fill="#e0e0ff"/>
<rect x="523.07" y="761.82" width="9.76" height="23.75" fill="#e0e0ff"/>
<rect x="532.81" y="761.82" width="9.76" height="23.75" fill="#e0e0ff"/>
<rect x="542.55" y="761.82" width="9.76" height="23.75" fill="#e0e0ff"/>
<rect x="552.29" y="761.82" width="9.76" height="23.75" fill="#e0e0ff"/>
<rect x="562.03" y="761.82" width="9.76" height="23.75" fill="#e0e0ff"/>
<rect x="571.77" y="761.82" width="9.76" height="23.75" fill="#e0e0ff"/>
<rect x="581.51" y="761.82" width="9.76" height="23.75" fill="#d0d0ff"/>
<rect x="591.25" y="761.82" width="9.76" height="23.75" fill="#e0e0ff"/>
<rect x="601.00" y="761.82" width="9.76" height="23.75" fill="#e0e0ff"/>
<rect x="610.74" y="761.82" width="9.76" height="23.75" fill="#d0d0ff"/>
<rect x="620.48" y="761.82" width="9.76" height="23.75" fill="#e0e0ff"/>
<rect x="630.22" y="761.82" width="9.76" height="23.75" fill="#e0e0ff"/>
<rect x="639.96" y="761.82" width="9.76" height="23.75" fill="#e0e0ff"/>
<rect x="649.70" y="761.82" width="9.76" height="23.75" fill="#ff0000"/>
<rect x="659.44" y="761.82" width="9.76" height="23.75" fill="#ffffff"/>
<rect x="669.18" y="761.82" width="9.76" height="23.75" fill="#c0c0ff"/>
<rect x="678.92" y="761.82" width="9.76" height="23.75" fill="#e0e0ff"/>
<rect x="688.66" y="761.82" width="9.76" height="23.75" fill="#e0e0ff"/>
<rect x="698.40" y="761.82" width="9.76" height="23.75" fill="#e0e0ff"/>
<rect x="708.15" y="761.82" width="9.76" height="23.75" fill="#d0d0ff"/>
<rect x="717.89" y="761.82" width="9.76" height="23.75" fill="#6e6eff"/>
<rect x="727.63" y="761.82" width="9.76" height="23.75" fill="#d0d0ff"/>
<rect x="737.37" y="761.82" width="9.76" height="23.75" fill="#e0e0ff"/>
<rect x="747.11" y="761.82" width="9.76" height="23.75" fill="#e0e0ff"/>
<rect x="756.85" y="761.82" width="9.76" height="23.75" fill="#e0e0ff"/>
<rect x="766.59" y="761.82" width="9.76" height="23.75" fill="#e0e0ff"/>
<rect x="776.33" y="761.82" width="9.76" height="23.75" fill="#eaeaff"/>
<rect x="786.07" y="761.82" width="9.76" height="23.75" fill="#e0e0ff"/>
<rect x="795.81" y="761.82" width="9.76" height="23.75" fill="#e0e0ff"/>
<rect x="805.55" y="761.82" width="9.76" height="23.75" fill="#e0e0ff"/>
<rect x="815.30" y="761.82" width="9.76" height="23.75" fill="#c0c0ff"/>
<rect x="825.04" y="761.82" width="9.76" height="23.75" fill="#e0e0ff"/>
<rect x="834.78" y="761.82" width="9.76" height="23.75" fill="#e0e0ff"/>
<rect x="844.52" y="761.82" width="9.76" height="23.75" fill="#e0e0ff"/>
<rect x="854.26" y="761.82" width="9.76" height="23.75" fill="#e0e0ff"/>
<rect x="221.10" y="785.55" width="9.76" height="23.75" fill="#e0e0ff"/>
<rect x="230.84" y="785.55" width="9.76" height="23.75" fill="#e0e0ff"/>
<rect x="240.58" y="785.55" width="9.76" height="23.75" fill="#e0e0ff"/>
<rect x="250.32" y="785.55" width="9.76" height="23.75" fill="#d0d0ff"/>
<rect x="260.06" y="785.55" width="9.76" height="23.75" fill="#e0e0ff"/>
<rect x="269.80" y="785.55" width="9.76" height="23.75" fill="#e0e0ff"/>
<rect x="279.55" y="785.55" width="9.76" height="23.75" fill="#e0e0ff"/>
<rect x="289.29" y="785.55" width="9.76" height="23.75" fill="#eaeaff"/>
<rect x="299.03" y="785.55" width="9.76" height="23.75" fill="#e0e0ff"/>
<rect x="308.77" y="785.55" width="9.76" height="23.75" fill="#c0c0ff"/>
<rect x="318.51" y="785.55" width="9.76" height="23.75" fill="#e0e0ff"/>
<rect x="328.25" y="785.55" width="9.76" height="23.75" fill="#e0e0ff"/>
<rect x="337.99" y="785.55" width="9.76" height="23.75" fill="#e0e0ff"/>
<rect x="347.73" y="785.55" width="9.76" height="23.75" fill="#e0e0ff"/>
<rect x="357.47" y="785.55" width="9.76" height="23.75" fill="#e0e0ff"/>
<rect x="367.21" y="785.55" width="9.76" height="23.75" fill="#e0e0ff"/>
<rect x="376.95" y="785.55" width="9.76" height="23.75" fill="#c0c0ff"/>
<rect x="386.70" y="785.55" width="9.76" height="23.75" fill="#f5f5ff"/>
<rect x="396.44" y="785.55" width="9.76" height="23.75" fill="#e0e0ff"/>
<rect x="406.18" y="785.55" width="9.76" height="23.75" fill="#e0e0ff"/>
<rect x="415.92" y="785.55" width="9.76" height="23.75" fill="#e0e0ff"/>
<rect x="425.66" y="785.55" width="9.76" height="23.75" fill="#e0e0ff"/>
<rect x="435.40" y="785.55" width="9.76" height="23.75" fill="#e0e0ff"/>
<rect x="445.14" y="785.55" width="9.76" height="23.75" fill="#e0e0ff"/>
<rect x="454.88" y="785.55" width="9.76" height="23.75" fill="#d0d0ff"/>
<rect x="464.62" y="785.55" width="9.76" height="23.75" fill="#ffffff"/>
<rect x="474.36" y="785.55" width="9.76" height="23.75" fill="#e0e0ff"/>
<rect x="484.10" y="785.55" width="9.76" height="23.75" fill="#c0c0ff"/>
<rect x="493.85" y="785.55" width="9.76" height="23.75" fill="#e0e0ff"/>
<rect x="503.59" y="785.55" width="9.76" height="23.75" fill="#c0c0ff"/>
<rect x="513.33" y="785.55" width="9.76" height="23.75" fill="#e0e0ff"/>
<rect x="523.07" y="785.55" width="9.76" height="23.75" fill="#d0d0ff"/>
<rect x="532.81" y="785.55" width="9.76" height="23.75" fill="#f5f5ff"/>
<rect x="542.55" y="785.55" width="9.76" height="23.75" fill="#e0e0ff"/>
<rect x="552.29" y="785.55" width="9.76" height="23.75" fill="#e0e0ff"/>
<rect x="562.03" y="785.55" width="9.76" height="23.75" fill="#e0e0ff"/>
<rect x="571.77" y="785.55" width="9.76" height="23.75" fill="#d0d0ff"/>
<rect x="581.51" y="785.55" width="9.76" height="23.75" fill="#d0d0ff"/>
<rect x="591.25" y="785.55" width="9.76" height="23.75" fill="#e0e0ff"/>
<rect x="601.00" y="785.55" width="9.76" height="23.75" fill="#e0e0ff"/>
<rect x="610.74" y="785.55" width="9.76" height="23.75" fill="#d0d0ff"/>
<rect x="620.48" y="785.55" width="9.76" height="23.75" fill="#e0e0ff"/>
<rect x="630.22" y="785.55" width="9.76" height="23.75" fill="#e0e0ff"/>
<rect x="639.96" y="785.55" width="9.76" height="23.75" fill="#e0e0ff"/>
<rect x="649.70" y="785.55" width="9.76" height="23.75" fill="#6e6eff"/>
<rect x="659.44" y="785.55" width="9.76" height="23.75" fill="#c0c0ff"/>
<rect x="669.18" y="785.55" width="9.76" height="23.75" fill="#eaeaff"/>
<rect x="678.92" y="785.55" width="9.76" height="23.75" fill="#e0e0ff"/>
<rect x="688.66" y="785.55" width="9.76" height="23.75" fill="#e0e0ff"/>
<rect x="698.40" y="785.55" width="9.76" height="23.75" fill="#d0d0ff"/>
<rect x="708.15" y="785.55" width="9.76" height="23.75" fill="#a2a2ff"/>
<rect x="717.89" y="785.55" width="9.76" height="23.75" fill="#6e6eff"/>
<rect x="727.63" y="785.55" width="9.76" height="23.75" fill="#d0d0ff"/>
<rect x="737.37" y="785.55" width="9.76" height="23.75" fill="#e0e0ff"/>
<rect x="747.11" y="785.55" width="9.76" height="23.75" fill="#e0e0ff"/>
<rect x="756.85" y="785.55" width="9.76" height="23.75" fill="#e0e0ff"/>
<rect x="766.59" y="785.55" width="9.76" height="23.75" fill="#e0e0ff"/>
<rect x="776.33" y="785.55" width="9.76" height="23.75" fill="#e0e0ff"/>
<rect x="786.07" y="785.55" width="9.76" height="23.75" fill="#e0e0ff"/>
<rect x="795.81" y="785.55" width="9.76" height="23.75" fill="#e0e0ff"/>
<rect x="805.55" y="785.55" width="9.76" height="23.75" fill="#e0e0ff"/>
<rect x="815.30" y="785.55" width="9.76" height="23.75" fill="#e0e0ff"/>
<rect x="825.04" y="785.55" width="9.76" height="23.75" fill="#e0e0ff"/>
<rect x="834.78" y="785.55" width="9.76" height="23.75" fill="#e0e0ff"/>
<rect x="844.52" y="785.55" width="9.76" height="23.75" fill="#e0e0ff"/>
<rect x="854.26" y="785.55" width="9.76" height="23.75" fill="#e0e0ff"/>
<rect x="221.10" y="809.28" width="9.76" height="23.75" fill="#e0e0ff"/>
<rect x="230.84" y="809.28" width="9.76" height="23.75" fill="#e0e0ff"/>
<rect x="240.58" y="809.28" width="9.76" height="23.75" fill="#e0e0ff"/>
<rect x="250.32" y="809.28" width="9.76" height="23.75" fill="#d0d0ff"/>
<rect x="260.06" y="809.28" width="9.76" height="23.75" fill="#a2a2ff"/>
<rect x="269.80" y="809.28" width="9.76" height="23.75" fill="#e0e0ff"/>
<rect x="279.55" y="809.28" width="9.76" height="23.75" fill="#e0e0ff"/>
<rect x="289.29" y="809.28" width="9.76" height="23.75" fill="#d0d0ff"/>
<rect x="299.03" y="809.28" width="9.76" height="23.75" fill="#e0e0ff"/>
<rect x="308.77" y="809.28" width="9.76" height="23.75" fill="#c0c0ff"/>
<rect x="318.51" y="809.28" width="9.76" height="23.75" fill="#e0e0ff"/>
<rect x="328.25" y="809.28" width="9.76" height="23.75" fill="#eaeaff"/>
<rect x="337.99" y="809.28" width="9.76" height="23.75" fill="#e0e0ff"/>
<rect x="347.73" y="809.28" width="9.76" height="23.75" fill="#e0e0ff"/>
<rect x="357.47" y="809.28" width="9.76" height="23.75" fill="#e0e0ff"/>
<rect x="367.21" y="809.28" width="9.76" height="23.75" fill="#e0e0ff"/>
<rect x="376.95" y="809.28" width="9.76" height="23.75" fill="#d0d0ff"/>
<rect x="386.70" y="809.28" width="9.76" height="23.75" fill="#e0e0ff"/>
<rect x="396.44" y="809.28" width="9.76" height="23.75" fill="#e0e0ff"/>
<rect x="406.18" y="809.28" width="9.76" height="23.75" fill="#e0e0ff"/>
<rect x="415.92" y="809.28" width="9.76" height="23.75" fill="#e0e0ff"/>
<rect x="425.66" y="809.28" width="9.76" height="23.75" fill="#e0e0ff"/>
<rect x="435.40" y="809.28" width="9.76" height="23.75" fill="#e0e0ff"/>
<rect x="445.14" y="809.28" width="9.76" height="23.75" fill="#e0e0ff"/>
<rect x="454.88" y="809.28" width="9.76" height="23.75" fill="#d0d0ff"/>
<rect x="464.62" y="809.28" width="9.76" height="23.75" fill="#fff2f2"/>
<rect x="474.36" y="809.28" width="9.76" height="23.75" fill="#e0e0ff"/>
<rect x="484.10" y="809.28" width="9.76" height="23.75" fill="#d0d0ff"/>
<rect x="493.85" y="809.28" width="9.76" height="23.75" fill="#eaeaff"/>
<rect x="503.59" y="809.28" width="9.76" height="23.75" fill="#c0c0ff"/>
<rect x="513.33" y="809.28" width="9.76" height="23.75" fill="#e0e0ff"/>
<rect x="523.07" y="809.28" width="9.76" height="23.75" fill="#e0e0ff"/>
<rect x="532.81" y="809.28" width="9.76" height="23.75" fill="#e0e0ff"/>
<rect x="542.55" y="809.28" width="9.76" height="23.75" fill="#e0e0ff"/>
<rect x="552.29" y="809.28" width="9.76" height="23.75" fill="#e0e0ff"/>
<rect x="562.03" y="809.28" width="9.76" height="23.75" fill="#e0e0ff"/>
<rect x="571.77" y="809.28" width="9.76" height="23.75" fill="#e0e0ff"/>
<rect x="581.51" y="809.28" width="9.76" height="23.75" fill="#d0d0ff"/>
<rect x="591.25" y="809.28" width="9.76" height="23.75" fill="#e0e0ff"/>
<rect x="601.00" y="809.28" width="9.76" height="23.75" fill="#e0e0ff"/>
<rect x="610.74" y="809.28" width="9.76" height="23.75" fill="#eaeaff"/>
<rect x="620.48" y="809.28" width="9.76" height="23.75" fill="#e0e0ff"/>
<rect x="630.22" y="809.28" width="9.76" height="23.75" fill="#e0e0ff"/>
<rect x="639.96" y="809.28" width="9.76" height="23.75" fill="#e0e0ff"/>
<rect x="649.70" y="809.28" width="9.76" height="23.75" fill="#d0d0ff"/>
<rect x="659.44" y="809.28" width="9.76" height="23.75" fill="#d0d0ff"/>
<rect x="669.18" y="809.28" width="9.76" height="23.75" fill="#a2a2ff"/>
<rect x="678.92" y="809.28" width="9.76" height="23.75" fill="#e0e0ff"/>
<rect x="688.66" y="809.28" width="9.76" height="23.75" fill="#e0e0ff"/>
<rect x="698.40" y="809.28" width="9.76" height="23.75" fill="#ffc8c8"/>
<rect x="708.15" y="809.28" width="9.76" height="23.75" fill="#a2a2ff"/>
<rect x="717.89" y="809.28" width="9.76" height="23.75" fill="#ff8080"/>
<rect x="727.63" y="809.28" width="9.76" height="23.75" fill="#d0d0ff"/>
<rect x="737.37" y="809.28" width="9.76" height="23.75" fill="#e0e0ff"/>
<rect x="747.11" y="809.28" width="9.76" height="23.75" fill="#e0e0ff"/>
<rect x="756.85" y="809.28" width="9.76" height="23.75" fill="#e0e0ff"/>
<rect x="766.59" y="809.28" width="9.76" height="23.75" fill="#e0e0ff"/>
<rect x="776.33" y="809.28" width="9.76" height="23.75" fill="#e0e0ff"/>
<rect x="786.07" y="809.28" width="9.76" height="23.75" fill="#e0e0ff"/>
<rect x="795.81" y="809.28" width="9.76" height="23.75" fill="#e0e0ff"/>
<rect x="805.55" y="809.28" width="9.76" height="23.75" fill="#e0e0ff"/>
<rect x="815.30" y="809.28" width="9.76" height="23.75" fill="#c0c0ff"/>
<rect x="825.04" y="809.28" width="9.76" height="23.75" fill="#e0e0ff"/>
<rect x="834.78" y="809.28" width="9.76" height="23.75" fill="#e0e0ff"/>
<rect x="844.52" y="809.28" width="9.76" height="23.75" fill="#e0e0ff"/>
<rect x="854.26" y="809.28" width="9.76" height="23.75" fill="#e0e0ff"/>
<rect x="221.10" y="833.01" width="9.76" height="23.75" fill="#eaeaff"/>
<rect x="230.84" y="833.01" width="9.76" height="23.75" fill="#eaeaff"/>
<rect x="240.58" y="833.01" width="9.76" height="23.75" fill="#e0e0ff"/>
<rect x="250.32" y="833.01" width="9.76" height="23.75" fill="#d0d0ff"/>
<rect x="260.06" y="833.01" width="9.76" height="23.75" fill="#a2a2ff"/>
<rect x="269.80" y="833.01" width="9.76" height="23.75" fill="#eaeaff"/>
<rect x="279.55" y="833.01" width="9.76" height="23.75" fill="#eaeaff"/>
<rect x="289.29" y="833.01" width="9.76" height="23.75" fill="#ff0000"/>
<rect x="299.03" y="833.01" width="9.76" height="23.75" fill="#eaeaff"/>
<rect x="308.77" y="833.01" width="9.76" height="23.75" fill="#d0d0ff"/>
<rect x="318.51" y="833.01" width="9.76" height="23.75" fill="#eaeaff"/>
<rect x="328.25" y="833.01" width="9.76" height="23.75" fill="#f5f5ff"/>
<rect x="337.99" y="833.01" width="9.76" height="23.75" fill="#eaeaff"/>
<rect x="347.73" y="833.01" width="9.76" height="23.75" fill="#eaeaff"/>
<rect x="357.47" y="833.01" width="9.76" height="23.75" fill="#ffe1e1"/>
<rect x="367.21" y="833.01" width="9.76" height="23.75" fill="#eaeaff"/>
<rect x="376.95" y="833.01" width="9.76" height="23.75" fill="#c0c0ff"/>
<rect x="386.70" y="833.01" width="9.76" height="23.75" fill="#e0e0ff"/>
<rect x="396.44" y="833.01" width="9.76" height="23.75" fill="#e0e0ff"/>
<rect x="406.18" y="833.01" width="9.76" height="23.75" fill="#eaeaff"/>
<rect x="415.92" y="833.01" width="9.76" height="23.75" fill="#eaeaff"/>
<rect x="425.66" y="833.01" width="9.76" height="23.75" fill="#eaeaff"/>
<rect x="435.40" y="833.01" width="9.76" height="23.75" fill="#eaeaff"/>
<rect x="445.14" y="833.01" width="9.76" height="23.75" fill="#eaeaff"/>
<rect x="454.88" y="833.01" width="9.76" height="23.75" fill="#e0e0ff"/>
<rect x="464.62" y="833.01" width="9.76" height="23.75" fill="#5151ff"/>
<rect x="474.36" y="833.01" width="9.76" height="23.75" fill="#eaeaff"/>
<rect x="484.10" y="833.01" width="9.76" height="23.75" fill="#a2a2ff"/>
<rect x="493.85" y="833.01" width="9.76" height="23.75" fill="#eaeaff"/>
<rect x="503.59" y="833.01" width="9.76" height="23.75" fill="#e0e0ff"/>
<rect x="513.33" y="833.01" width="9.76" height="23.75" fill="#eaeaff"/>
<rect x="523.07" y="833.01" width="9.76" height="23.75" fill="#eaeaff"/>
<rect x="532.81" y="833.01" width="9.76" height="23.75" fill="#eaeaff"/>
<rect x="542.55" y="833.01" width="9.76" height="23.75" fill="#eaeaff"/>
<rect x="552.29" y="833.01" width="9.76" height="23.75" fill="#eaeaff"/>
<rect x="562.03" y="833.01" width="9.76" height="23.75" fill="#eaeaff"/>
<rect x="571.77" y="833.01" width="9.76" height="23.75" fill="#eaeaff"/>
<rect x="581.51" y="833.01" width="9.76" height="23.75" fill="#d0d0ff"/>
<rect x="591.25" y="833.01" width="9.76" height="23.75" fill="#eaeaff"/>
<rect x="601.00" y="833.01" width="9.76" height="23.75" fill="#eaeaff"/>
<rect x="610.74" y="833.01" width="9.76" height="23.75" fill="#d0d0ff"/>
<rect x="620.48" y="833.01" width="9.76" height="23.75" fill="#fff2f2"/>
<rect x="630.22" y="833.01" width="9.76" height="23.75" fill="#eaeaff"/>
<rect x="639.96" y="833.01" width="9.76" height="23.75" fill="#eaeaff"/>
<rect x="649.70" y="833.01" width="9.76" height="23.75" fill="#eaeaff"/>
<rect x="659.44" y="833.01" width="9.76" height="23.75" fill="#eaeaff"/>
<rect x="669.18" y="833.01" width="9.76" height="23.75" fill="#a2a2ff"/>
<rect x="678.92" y="833.01" width="9.76" height="23.75" fill="#eaeaff"/>
<rect x="688.66" y="833.01" width="9.76" height="23.75" fill="#eaeaff"/>
<rect x="698.40" y="833.01" width="9.76" height="23.75" fill="#ffffff"/>
<rect x="708.15" y="833.01" width="9.76" height="23.75" fill="#8c8cff"/>
<rect x="717.89" y="833.01" width="9.76" height="23.75" fill="#6e6eff"/>
<rect x="727.63" y="833.01" width="9.76" height="23.75" fill="#d0d0ff"/>
<rect x="737.37" y="833.01" width="9.76" height="23.75" fill="#eaeaff"/>
<rect x="747.11" y="833.01" width="9.76" height="23.75" fill="#eaeaff"/>
<rect x="756.85" y="833.01" width="9.76" height="23.75" fill="#eaeaff"/>
<rect x="766.59" y="833.01" width="9.76" height="23.75" fill="#eaeaff"/>
<rect x="776.33" y="833.01" width="9.76" height="23.75" fill="#eaeaff"/>
<rect x="786.07" y="833.01" width="9.76" height="23.75" fill="#e0e0ff"/>
<rect x="795.81" y="833.01" width="9.76" height="23.75" fill="#eaeaff"/>
<rect x="805.55" y="833.01" width="9.76" height="23.75" fill="#f5f5ff"/>
<rect x="815.30" y="833.01" width="9.76" height="23.75" fill="#c0c0ff"/>
<rect x="825.04" y="833.01" width="9.76" height="23.75" fill="#eaeaff"/>
<rect x="834.78" y="833.01" width="9.76" height="23.75" fill="#eaeaff"/>
<rect x="844.52" y="833.01" width="9.76" height="23.75" fill="#eaeaff"/>
<rect x="854.26" y="833.01" width="9.76" height="23.75" fill="#eaeaff"/>
<rect x="221.10" y="856.74" width="9.76" height="23.75" fill="#e0e0ff"/>
<rect x="230.84" y="856.74" width="9.76" height="23.75" fill="#e0e0ff"/>
<rect x="240.58" y="856.74" width="9.76" height="23.75" fill="#e0e0ff"/>
<rect x="250.32" y="856.74" width="9.76" height="23.75" fill="#d0d0ff"/>
<rect x="260.06" y="856.74" width="9.76" height="23.75" fill="#a2a2ff"/>
<rect x="269.80" y="856.74" width="9.76" height="23.75" fill="#e0e0ff"/>
<rect x="279.55" y="856.74" width="9.76" height="23.75" fill="#e0e0ff"/>
<rect x="289.29" y="856.74" width="9.76" height="23.75" fill="#d0d0ff"/>
<rect x="299.03" y="856.74" width="9.76" height="23.75" fill="#e0e0ff"/>
<rect x="308.77" y="856.74" width="9.76" height="23.75" fill="#ff2222"/>
<rect x="318.51" y="856.74" width="9.76" height="23.75" fill="#e0e0ff"/>
<rect x="328.25" y="856.74" width="9.76" height="23.75" fill="#e0e0ff"/>
<rect x="337.99" y="856.74" width="9.76" height="23.75" fill="#e0e0ff"/>
<rect x="347.73" y="856.74" width="9.76" height="23.75" fill="#e0e0ff"/>
<rect x="357.47" y="856.74" width="9.76" height="23.75" fill="#e0e0ff"/>
<rect x="367.21" y="856.74" width="9.76" height="23.75" fill="#e0e0ff"/>
<rect x="376.95" y="856.74" width="9.76" height="23.75" fill="#ffffff"/>
<rect x="386.70" y="856.74" width="9.76" height="23.75" fill="#e0e0ff"/>
<rect x="396.44" y="856.74" width="9.76" height="23.75" fill="#eaeaff"/>
<rect x="406.18" y="856.74" width="9.76" height="23.75" fill="#e0e0ff"/>
<rect x="415.92" y="856.74" width="9.76" height="23.75" fill="#e0e0ff"/>
<rect x="425.66" y="856.74" width="9.76" height="23.75" fill="#e0e0ff"/>
<rect x="435.40" y="856.74" width="9.76" height="23.75" fill="#e0e0ff"/>
<rect x="445.14" y="856.74" width="9.76" height="23.75" fill="#e0e0ff"/>
<rect x="454.88" y="856.74" width="9.76" height="23.75" fill="#eaeaff"/>
<rect x="464.62" y="856.74" width="9.76" height="23.75" fill="#5151ff"/>
<rect x="474.36" y="856.74" width="9.76" height="23.75" fill="#e0e0ff"/>
<rect x="484.10" y="856.74" width="9.76" height="23.75" fill="#a2a2ff"/>
<rect x="493.85" y="856.74" width="9.76" height="23.75" fill="#e0e0ff"/>
<rect x="503.59" y="856.74" width="9.76" height="23.75" fill="#e0e0ff"/>
<rect x="513.33" y="856.74" width="9.76" height="23.75" fill="#e0e0ff"/>
<rect x="523.07" y="856.74" width="9.76" height="23.75" fill="#e0e0ff"/>
<rect x="532.81" y="856.74" width="9.76" height="23.75" fill="#e0e0ff"/>
<rect x="542.55" y="856.74" width="9.76" height="23.75" fill="#e0e0ff"/>
<rect x="552.29" y="856.74" width="9.76" height="23.75" fill="#e0e0ff"/>
<rect x="562.03" y="856.74" width="9.76" height="23.75" fill="#e0e0ff"/>
<rect x="571.77" y="856.74" width="9.76" height="23.75" fill="#e0e0ff"/>
<rect x="581.51" y="856.74" width="9.76" height="23.75" fill="#d0d0ff"/>
<rect x="591.25" y="856.74" width="9.76" height="23.75" fill="#e0e0ff"/>
<rect x="601.00" y="856.74" width="9.76" height="23.75" fill="#e0e0ff"/>
<rect x="610.74" y="856.74" width="9.76" height="23.75" fill="#d0d0ff"/>
<rect x="620.48" y="856.74" width="9.76" height="23.75" fill="#e0e0ff"/>
<rect x="630.22" y="856.74" width="9.76" height="23.75" fill="#e0e0ff"/>
<rect x="639.96" y="856.74" width="9.76" height="23.75" fill="#e0e0ff"/>
<rect x="649.70" y="856.74" width="9.76" height="23.75" fill="#ffa6a6"/>
<rect x="659.44" y="856.74" width="9.76" height="23.75" fill="#ff0000"/>
<rect x="669.18" y="856.74" width="9.76" height="23.75" fill="#c0c0ff"/>
<rect x="678.92" y="856.74" width="9.76" height="23.75" fill="#e0e0ff"/>
<rect x="688.66" y="856.74" width="9.76" height="23.75" fill="#e0e0ff"/>
<rect x="698.40" y="856.74" width="9.76" height="23.75" fill="#a2a2ff"/>
<rect x="708.15" y="856.74" width="9.76" height="23.75" fill="#6e6eff"/>
<rect x="717.89" y="856.74" width="9.76" height="23.75" fill="#3333ff"/>
<rect x="727.63" y="856.74" width="9.76" height="23.75" fill="#d0d0ff"/>
<rect x="737.37" y="856.74" width="9.76" height="23.75" fill="#e0e0ff"/>
<rect x="747.11" y="856.74" width="9.76" height="23.75" fill="#e0e0ff"/>
<rect x="756.85" y="856.74" width="9.76" height="23.75" fill="#e0e0ff"/>
<rect x="766.59" y="856.74" width="9.76" height="23.75" fill="#e0e0ff"/>
<rect x="776.33" y="856.74" width="9.76" height="23.75" fill="#e0e0ff"/>
<rect x="786.07" y="856.74" width="9.76" height="23.75" fill="#e0e0ff"/>
<rect x="795.81" y="856.74" width="9.76" height="23.75" fill="#e0e0ff"/>
<rect x="805.55" y="856.74" width="9.76" height="23.75" fill="#e0e0ff"/>
<rect x="815.30" y="856.74" width="9.76" height="23.75" fill="#c0c0ff"/>
<rect x="825.04" y="856.74" width="9.76" height="23.75" fill="#e0e0ff"/>
<rect x="834.78" y="856.74" width="9.76" height="23.75" fill="#e0e0ff"/>
<rect x="844.52" y="856.74" width="9.76" height="23.75" fill="#e0e0ff"/>
<rect x="854.26" y="856.74" width="9.76" height="23.75" fill="#e0e0ff"/>
<rect x="221.10" y="880.46" width="9.76" height="23.75" fill="#eaeaff"/>
<rect x="230.84" y="880.46" width="9.76" height="23.75" fill="#eaeaff"/>
<rect x="240.58" y="880.46" width="9.76" height="23.75" fill="#eaeaff"/>
<rect x="250.32" y="880.46" width="9.76" height="23.75" fill="#f5f5ff"/>
<rect x="260.06" y="880.46" width="9.76" height="23.75" fill="#d0d0ff"/>
<rect x="269.80" y="880.46" width="9.76" height="23.75" fill="#e0e0ff"/>
<rect x="279.55" y="880.46" width="9.76" height="23.75" fill="#eaeaff"/>
<rect x="289.29" y="880.46" width="9.76" height="23.75" fill="#eaeaff"/>
<rect x="299.03" y="880.46" width="9.76" height="23.75" fill="#eaeaff"/>
<rect x="308.77" y="880.46" width="9.76" height="23.75" fill="#e0e0ff"/>
<rect x="318.51" y="880.46" width="9.76" height="23.75" fill="#eaeaff"/>
<rect x="328.25" y="880.46" width="9.76" height="23.75" fill="#eaeaff"/>
<rect x="337.99" y="880.46" width="9.76" height="23.75" fill="#e0e0ff"/>
<rect x="347.73" y="880.46" width="9.76" height="23.75" fill="#e0e0ff"/>
<rect x="357.47" y="880.46" width="9.76" height="23.75" fill="#e0e0ff"/>
<rect x="367.21" y="880.46" width="9.76" height="23.75" fill="#e0e0ff"/>
<rect x="376.95" y="880.46" width="9.76" height="23.75" fill="#f5f5ff"/>
<rect x="386.70" y="880.46" width="9.76" height="23.75" fill="#e0e0ff"/>
<rect x="396.44" y="880.46" width="9.76" height="23.75" fill="#e0e0ff"/>
<rect x="406.18" y="880.46" width="9.76" height="23.75" fill="#e0e0ff"/>
<rect x="415.92" y="880.46" width="9.76" height="23.75" fill="#e0e0ff"/>
<rect x="425.66" y="880.46" width="9.76" height="23.75" fill="#e0e0ff"/>
<rect x="435.40" y="880.46" width="9.76" height="23.75" fill="#e0e0ff"/>
<rect x="445.14" y="880.46" width="9.76" height="23.75" fill="#eaeaff"/>
<rect x="454.88" y="880.46" width="9.76" height="23.75" fill="#eaeaff"/>
<rect x="464.62" y="880.46" width="9.76" height="23.75" fill="#ffffff"/>
<rect x="474.36" y="880.46" width="9.76" height="23.75" fill="#e0e0ff"/>
<rect x="484.10" y="880.46" width="9.76" height="23.75" fill="#d0d0ff"/>
<rect x="493.85" y="880.46" width="9.76" height="23.75" fill="#eaeaff"/>
<rect x="503.59" y="880.46" width="9.76" height="23.75" fill="#ffc8c8"/>
<rect x="513.33" y="880.46" width="9.76" height="23.75" fill="#e0e0ff"/>
<rect x="523.07" y="880.46" width="9.76" height="23.75" fill="#e0e0ff"/>
<rect x="532.81" y="880.46" width="9.76" height="23.75" fill="#e0e0ff"/>
<rect x="542.55" y="880.46" width="9.76" height="23.75" fill="#e0e0ff"/>
<rect x="552.29" y="880.46" width="9.76" height="23.75" fill="#e0e0ff"/>
<rect x="562.03" y="880.46" width="9.76" height="23.75" fill="#e0e0ff"/>
<rect x="571.77" y="880.46" width="9.76" height="23.75" fill="#e0e0ff"/>
<rect x="581.51" y="880.46" width="9.76" height="23.75" fill="#ffffff"/>
<rect x="591.25" y="880.46" width="9.76" height="23.75" fill="#e0e0ff"/>
<rect x="601.00" y="880.46" width="9.76" height="23.75" fill="#e0e0ff"/>
<rect x="610.74" y="880.46" width="9.76" height="23.75" fill="#d0d0ff"/>
<rect x="620.48" y="880.46" width="9.76" height="23.75" fill="#e0e0ff"/>
<rect x="630.22" y="880.46" width="9.76" height="23.75" fill="#e0e0ff"/>
<rect x="639.96" y="880.46" width="9.76" height="23.75" fill="#e0e0ff"/>
<rect x="649.70" y="880.46" width="9.76" height="23.75" fill="#d0d0ff"/>
<rect x="659.44" y="880.46" width="9.76" height="23.75" fill="#c0c0ff"/>
<rect x="669.18" y="880.46" width="9.76" height="23.75" fill="#ff5555"/>
<rect x="678.92" y="880.46" width="9.76" height="23.75" fill="#e0e0ff"/>
<rect x="688.66" y="880.46" width="9.76" height="23.75" fill="#eaeaff"/>
<rect x="698.40" y="880.46" width="9.76" height="23.75" fill="#f5f5ff"/>
<rect x="708.15" y="880.46" width="9.76" height="23.75" fill="#fff2f2"/>
<rect x="717.89" y="880.46" width="9.76" height="23.75" fill="#ffc8c8"/>
<rect x="727.63" y="880.46" width="9.76" height="23.75" fill="#ffe1e1"/>
<rect x="737.37" y="880.46" width="9.76" height="23.75" fill="#eaeaff"/>
<rect x="747.11" y="880.46" width="9.76" height="23.75" fill="#e0e0ff"/>
<rect x="756.85" y="880.46" width="9.76" height="23.75" fill="#eaeaff"/>
<rect x="766.59" y="880.46" width="9.76" height="23.75" fill="#eaeaff"/>
<rect x="776.33" y="880.46" width="9.76" height="23.75" fill="#eaeaff"/>
<rect x="786.07" y="880.46" width="9.76" height="23.75" fill="#e0e0ff"/>
<rect x="795.81" y="880.46" width="9.76" height="23.75" fill="#f5f5ff"/>
<rect x="805.55" y="880.46" width="9.76" height="23.75" fill="#e0e0ff"/>
<rect x="815.30" y="880.46" width="9.76" height="23.75" fill="#c0c0ff"/>
<rect x="825.04" y="880.46" width="9.76" height="23.75" fill="#eaeaff"/>
<rect x="834.78" y="880.46" width="9.76" height="23.75" fill="#eaeaff"/>
<rect x="844.52" y="880.46" width="9.76" height="23.75" fill="#eaeaff"/>
<rect x="854.26" y="880.46" width="9.76" height="23.75" fill="#eaeaff"/>
<rect x="221.10" y="904.19" width="9.76" height="23.75" fill="#f5f5ff"/>
<rect x="230.84" y="904.19" width="9.76" height="23.75" fill="#f5f5ff"/>
<rect x="240.58" y="904.19" width="9.76" height="23.75" fill="#f5f5ff"/>
<rect x="250.32" y="904.19" width="9.76" height="23.75" fill="#ff8080"/>
<rect x="260.06" y="904.19" width="9.76" height="23.75" fill="#ff8080"/>
<rect x="269.80" y="904.19" width="9.76" height="23.75" fill="#f5f5ff"/>
<rect x="279.55" y="904.19" width="9.76" height="23.75" fill="#f5f5ff"/>
<rect x="289.29" y="904.19" width="9.76" height="23.75" fill="#eaeaff"/>
<rect x="299.03" y="904.19" width="9.76" height="23.75" fill="#eaeaff"/>
<rect x="308.77" y="904.19" width="9.76" height="23.75" fill="#f5f5ff"/>
<rect x="318.51" y="904.19" width="9.76" height="23.75" fill="#ffffff"/>
<rect x="328.25" y="904.19" width="9.76" height="23.75" fill="#eaeaff"/>
<rect x="337.99" y="904.19" width="9.76" height="23.75" fill="#eaeaff"/>
<rect x="347.73" y="904.19" width="9.76" height="23.75" fill="#f5f5ff"/>
<rect x="357.47" y="904.19" width="9.76" height="23.75" fill="#f5f5ff"/>
<rect x="367.21" y="904.19" width="9.76" height="23.75" fill="#eaeaff"/>
<rect x="376.95" y="904.19" width="9.76" height="23.75" fill="#e0e0ff"/>
<rect x="386.70" y="904.19" width="9.76" height="23.75" fill="#e0e0ff"/>
<rect x="396.44" y="904.19" width="9.76" height="23.75" fill="#f5f5ff"/>
<rect x="406.18" y="904.19" width="9.76" height="23.75" fill="#eaeaff"/>
<rect x="415.92" y="904.19" width="9.76" height="23.75" fill="#eaeaff"/>
<rect x="425.66" y="904.19" width="9.76" height="23.75" fill="#eaeaff"/>
<rect x="435.40" y="904.19" width="9.76" height="23.75" fill="#eaeaff"/>
<rect x="445.14" y="904.19" width="9.76" height="23.75" fill="#f5f5ff"/>
<rect x="454.88" y="904.19" width="9.76" height="23.75" fill="#f5f5ff"/>
<rect x="464.62" y="904.19" width="9.76" height="23.75" fill="#d0d0ff"/>
<rect x="474.36" y="904.19" width="9.76" height="23.75" fill="#eaeaff"/>
<rect x="484.10" y="904.19" width="9.76" height="23.75" fill="#ffc8c8"/>
<rect x="493.85" y="904.19" width="9.76" height="23.75" fill="#fff2f2"/>
<rect x="503.59" y="904.19" width="9.76" height="23.75" fill="#d0d0ff"/>
<rect x="513.33" y="904.19" width="9.76" height="23.75" fill="#d0d0ff"/>
<rect x="523.07" y="904.19" width="9.76" height="23.75" fill="#ffffff"/>
<rect x="532.81" y="904.19" width="9.76" height="23.75" fill="#eaeaff"/>
<rect x="542.55" y="904.19" width="9.76" height="23.75" fill="#f5f5ff"/>
<rect x="552.29" y="904.19" width="9.76" height="23.75" fill="#eaeaff"/>
<rect x="562.03" y="904.19" width="9.76" height="23.75" fill="#ffc8c8"/>
<rect x="571.77" y="904.19" width="9.76" height="23.75" fill="#f5f5ff"/>
<rect x="581.51" y="904.19" width="9.76" height="23.75" fill="#d0d0ff"/>
<rect x="591.25" y="904.19" width="9.76" height="23.75" fill="#eaeaff"/>
<rect x="601.00" y="904.19" width="9.76" height="23.75" fill="#e0e0ff"/>
<rect x="610.74" y="904.19" width="9.76" height="23.75" fill="#d0d0ff"/>
<rect x="620.48" y="904.19" width="9.76" height="23.75" fill="#f5f5ff"/>
<rect x="630.22" y="904.19" width="9.76" height="23.75" fill="#f5f5ff"/>
<rect x="639.96" y="904.19" width="9.76" height="23.75" fill="#eaeaff"/>
<rect x="649.70" y="904.19" width="9.76" height="23.75" fill="#d0d0ff"/>
<rect x="659.44" y="904.19" width="9.76" height="23.75" fill="#d0d0ff"/>
<rect x="669.18" y="904.19" width="9.76" height="23.75" fill="#8c8cff"/>
<rect x="678.92" y="904.19" width="9.76" height="23.75" fill="#f5f5ff"/>
<rect x="688.66" y="904.19" width="9.76" height="23.75" fill="#f5f5ff"/>
<rect x="698.40" y="904.19" width="9.76" height="23.75" fill="#fff2f2"/>
<rect x="708.15" y="904.19" width="9.76" height="23.75" fill="#a2a2ff"/>
<rect x="717.89" y="904.19" width="9.76" height="23.75" fill="#ffa6a6"/>
<rect x="727.63" y="904.19" width="9.76" height="23.75" fill="#ff5555"/>
<rect x="737.37" y="904.19" width="9.76" height="23.75" fill="#ffffff"/>
<rect x="747.11" y="904.19" width="9.76" height="23.75" fill="#f5f5ff"/>
<rect x="756.85" y="904.19" width="9.76" height="23.75" fill="#f5f5ff"/>
<rect x="766.59" y="904.19" width="9.76" height="23.75" fill="#eaeaff"/>
<rect x="776.33" y="904.19" width="9.76" height="23.75" fill="#e0e0ff"/>
<rect x="786.07" y="904.19" width="9.76" height="23.75" fill="#ffc8c8"/>
<rect x="795.81" y="904.19" width="9.76" height="23.75" fill="#eaeaff"/>
<rect x="805.55" y="904.19" width="9.76" height="23.75" fill="#ffffff"/>
<rect x="815.30" y="904.19" width="9.76" height="23.75" fill="#ffa6a6"/>
<rect x="825.04" y="904.19" width="9.76" height="23.75" fill="#e0e0ff"/>
<rect x="834.78" y="904.19" width="9.76" height="23.75" fill="#f5f5ff"/>
<rect x="844.52" y="904.19" width="9.76" height="23.75" fill="#e0e0ff"/>
<rect x="854.26" y="904.19" width="9.76" height="23.75" fill="#eaeaff"/>
<rect x="221.10" y="927.92" width="9.76" height="23.75" fill="#e0e0ff"/>
<rect x="230.84" y="927.92" width="9.76" height="23.75" fill="#e0e0ff"/>
<rect x="240.58" y="927.92" width="9.76" height="23.75" fill="#e0e0ff"/>
<rect x="250.32" y="927.92" width="9.76" height="23.75" fill="#d0d0ff"/>
<rect x="260.06" y="927.92" width="9.76" height="23.75" fill="#ff5555"/>
<rect x="269.80" y="927.92" width="9.76" height="23.75" fill="#e0e0ff"/>
<rect x="279.55" y="927.92" width="9.76" height="23.75" fill="#e0e0ff"/>
<rect x="289.29" y="927.92" width="9.76" height="23.75" fill="#d0d0ff"/>
<rect x="299.03" y="927.92" width="9.76" height="23.75" fill="#e0e0ff"/>
<rect x="308.77" y="927.92" width="9.76" height="23.75" fill="#fff2f2"/>
<rect x="318.51" y="927.92" width="9.76" height="23.75" fill="#e0e0ff"/>
<rect x="328.25" y="927.92" width="9.76" height="23.75" fill="#e0e0ff"/>
<rect x="337.99" y="927.92" width="9.76" height="23.75" fill="#e0e0ff"/>
<rect x="347.73" y="927.92" width="9.76" height="23.75" fill="#e0e0ff"/>
<rect x="357.47" y="927.92" width="9.76" height="23.75" fill="#e0e0ff"/>
<rect x="367.21" y="927.92" width="9.76" height="23.75" fill="#eaeaff"/>
<rect x="376.95" y="927.92" width="9.76" height="23.75" fill="#ffffff"/>
<rect x="386.70" y="927.92" width="9.76" height="23.75" fill="#e0e0ff"/>
<rect x="396.44" y="927.92" width="9.76" height="23.75" fill="#e0e0ff"/>
<rect x="406.18" y="927.92" width="9.76" height="23.75" fill="#e0e0ff"/>
<rect x="415.92" y="927.92" width="9.76" height="23.75" fill="#e0e0ff"/>
<rect x="425.66" y="927.92" width="9.76" height="23.75" fill="#e0e0ff"/>
<rect x="435.40" y="927.92" width="9.76" height="23.75" fill="#e0e0ff"/>
<rect x="445.14" y="927.92" width="9.76" height="23.75" fill="#e0e0ff"/>
<rect x="454.88" y="927.92" width="9.76" height="23.75" fill="#d0d0ff"/>
<rect x="464.62" y="927.92" width="9.76" height="23.75" fill="#ff5555"/>
<rect x="474.36" y="927.92" width="9.76" height="23.75" fill="#e0e0ff"/>
<rect x="484.10" y="927.92" width="9.76" height="23.75" fill="#ff8080"/>
<rect x="493.85" y="927.92" width="9.76" height="23.75" fill="#d0d0ff"/>
<rect x="503.59" y="927.92" width="9.76" height="23.75" fill="#ffe1e1"/>
<rect x="513.33" y="927.92" width="9.76" height="23.75" fill="#ff0000"/>
<rect x="523.07" y="927.92" width="9.76" height="23.75" fill="#e0e0ff"/>
<rect x="532.81" y="927.92" width="9.76" height="23.75" fill="#e0e0ff"/>
<rect x="542.55" y="927.92" width="9.76" height="23.75" fill="#e0e0ff"/>
<rect x="552.29" y="927.92" width="9.76" height="23.75" fill="#e0e0ff"/>
<rect x="562.03" y="927.92" width="9.76" height="23.75" fill="#e0e0ff"/>
<rect x="571.77" y="927.92" width="9.76" height="23.75" fill="#e0e0ff"/>
<rect x="581.51" y="927.92" width="9.76" height="23.75" fill="#d0d0ff"/>
<rect x="591.25" y="927.92" width="9.76" height="23.75" fill="#e0e0ff"/>
<rect x="601.00" y="927.92" width="9.76" height="23.75" fill="#e0e0ff"/>
<rect x="610.74" y="927.92" width="9.76" height="23.75" fill="#d0d0ff"/>
<rect x="620.48" y="927.92" width="9.76" height="23.75" fill="#e0e0ff"/>
<rect x="630.22" y="927.92" width="9.76" height="23.75" fill="#e0e0ff"/>
<rect x="639.96" y="927.92" width="9.76" height="23.75" fill="#e0e0ff"/>
<rect x="649.70" y="927.92" width="9.76" height="23.75" fill="#ff8080"/>
<rect x="659.44" y="927.92" width="9.76" height="23.75" fill="#f5f5ff"/>
<rect x="669.18" y="927.92" width="9.76" height="23.75" fill="#ff2222"/>
<rect x="678.92" y="927.92" width="9.76" height="23.75" fill="#e0e0ff"/>
<rect x="688.66" y="927.92" width="9.76" height="23.75" fill="#d0d0ff"/>
<rect x="698.40" y="927.92" width="9.76" height="23.75" fill="#ff0000"/>
<rect x="708.15" y="927.92" width="9.76" height="23.75" fill="#ffa6a6"/>
<rect x="717.89" y="927.92" width="9.76" height="23.75" fill="#ff5555"/>
<rect x="727.63" y="927.92" width="9.76" height="23.75" fill="#d0d0ff"/>
<rect x="737.37" y="927.92" width="9.76" height="23.75" fill="#e0e0ff"/>
<rect x="747.11" y="927.92" width="9.76" height="23.75" fill="#e0e0ff"/>
<rect x="756.85" y="927.92" width="9.76" height="23.75" fill="#e0e0ff"/>
<rect x="766.59" y="927.92" width="9.76" height="23.75" fill="#e0e0ff"/>
<rect x="776.33" y="927.92" width="9.76" height="23.75" fill="#e0e0ff"/>
<rect x="786.07" y="927.92" width="9.76" height="23.75" fill="#e0e0ff"/>
<rect x="795.81" y="927.92" width="9.76" height="23.75" fill="#eaeaff"/>
<rect x="805.55" y="927.92" width="9.76" height="23.75" fill="#e0e0ff"/>
<rect x="815.30" y="927.92" width="9.76" height="23.75" fill="#c0c0ff"/>
<rect x="825.04" y="927.92" width="9.76" height="23.75" fill="#e0e0ff"/>
<rect x="834.78" y="927.92" width="9.76" height="23.75" fill="#e0e0ff"/>
<rect x="844.52" y="927.92" width="9.76" height="23.75" fill="#e0e0ff"/>
<rect x="854.26" y="927.92" width="9.76" height="23.75" fill="#e0e0ff"/>
<rect x="221.10" y="951.65" width="9.76" height="23.75" fill="#e0e0ff"/>
<rect x="230.84" y="951.65" width="9.76" height="23.75" fill="#e0e0ff"/>
<rect x="240.58" y="951.65" width="9.76" height="23.75" fill="#e0e0ff"/>
<rect x="250.32" y="951.65" width="9.76" height="23.75" fill="#e0e0ff"/>
<rect x="260.06" y="951.65" width="9.76" height="23.75" fill="#a2a2ff"/>
<rect x="269.80" y="951.65" width="9.76" height="23.75" fill="#e0e0ff"/>
<rect x="279.55" y="951.65" width="9.76" height="23.75" fill="#e0e0ff"/>
<rect x="289.29" y="951.65" width="9.76" height="23.75" fill="#d0d0ff"/>
<rect x="299.03" y="951.65" width="9.76" height="23.75" fill="#eaeaff"/>
<rect x="308.77" y="951.65" width="9.76" height="23.75" fill="#a2a2ff"/>
<rect x="318.51" y="951.65" width="9.76" height="23.75" fill="#e0e0ff"/>
<rect x="328.25" y="951.65" width="9.76" height="23.75" fill="#e0e0ff"/>
<rect x="337.99" y="951.65" width="9.76" height="23.75" fill="#e0e0ff"/>
<rect x="347.73" y="951.65" width="9.76" height="23.75" fill="#e0e0ff"/>
<rect x="357.47" y="951.65" width="9.76" height="23.75" fill="#e0e0ff"/>
<rect x="367.21" y="951.65" width="9.76" height="23.75" fill="#e0e0ff"/>
<rect x="376.95" y="951.65" width="9.76" height="23.75" fill="#d0d0ff"/>
<rect x="386.70" y="951.65" width="9.76" height="23.75" fill="#e0e0ff"/>
<rect x="396.44" y="951.65" width="9.76" height="23.75" fill="#e0e0ff"/>
<rect x="406.18" y="951.65" width="9.76" height="23.75" fill="#e0e0ff"/>
<rect x="415.92" y="951.65" width="9.76" height="23.75" fill="#e0e0ff"/>
<rect x="425.66" y="951.65" width="9.76" height="23.75" fill="#e0e0ff"/>
<rect x="435.40" y="951.65" width="9.76" height="23.75" fill="#e0e0ff"/>
<rect x="445.14" y="951.65" width="9.76" height="23.75" fill="#e0e0ff"/>
<rect x="454.88" y="951.65" width="9.76" height="23.75" fill="#d0d0ff"/>
<rect x="464.62" y="951.65" width="9.76" height="23.75" fill="#eaeaff"/>
<rect x="474.36" y="951.65" width="9.76" height="23.75" fill="#eaeaff"/>
<rect x="484.10" y="951.65" width="9.76" height="23.75" fill="#ff0000"/>
<rect x="493.85" y="951.65" width="9.76" height="23.75" fill="#d0d0ff"/>
<rect x="503.59" y="951.65" width="9.76" height="23.75" fill="#fff2f2"/>
<rect x="513.33" y="951.65" width="9.76" height="23.75" fill="#e0e0ff"/>
<rect x="523.07" y="951.65" width="9.76" height="23.75" fill="#e0e0ff"/>
<rect x="532.81" y="951.65" width="9.76" height="23.75" fill="#e0e0ff"/>
<rect x="542.55" y="951.65" width="9.76" height="23.75" fill="#e0e0ff"/>
<rect x="552.29" y="951.65" width="9.76" height="23.75" fill="#e0e0ff"/>
<rect x="562.03" y="951.65" width="9.76" height="23.75" fill="#e0e0ff"/>
<rect x="571.77" y="951.65" width="9.76" height="23.75" fill="#e0e0ff"/>
<rect x="581.51" y="951.65" width="9.76" height="23.75" fill="#d0d0ff"/>
<rect x="591.25" y="951.65" width="9.76" height="23.75" fill="#e0e0ff"/>
<rect x="601.00" y="951.65" width="9.76" height="23.75" fill="#e0e0ff"/>
<rect x="610.74" y="951.65" width="9.76" height="23.75" fill="#d0d0ff"/>
<rect x="620.48" y="951.65" width="9.76" height="23.75" fill="#eaeaff"/>
<rect x="630.22" y="951.65" width="9.76" height="23.75" fill="#eaeaff"/>
<rect x="639.96" y="951.65" width="9.76" height="23.75" fill="#eaeaff"/>
<rect x="649.70" y="951.65" width="9.76" height="23.75" fill="#eaeaff"/>
<rect x="659.44" y="951.65" width="9.76" height="23.75" fill="#c0c0ff"/>
<rect x="669.18" y="951.65" width="9.76" height="23.75" fill="#8c8cff"/>
<rect x="678.92" y="951.65" width="9.76" height="23.75" fill="#e0e0ff"/>
<rect x="688.66" y="951.65" width="9.76" height="23.75" fill="#e0e0ff"/>
<rect x="698.40" y="951.65" width="9.76" height="23.75" fill="#fff2f2"/>
<rect x="708.15" y="951.65" width="9.76" height="23.75" fill="#ff0000"/>
<rect x="717.89" y="951.65" width="9.76" height="23.75" fill="#d0d0ff"/>
<rect x="727.63" y="951.65" width="9.76" height="23.75" fill="#f5f5ff"/>
<rect x="737.37" y="951.65" width="9.76" height="23.75" fill="#e0e0ff"/>
<rect x="747.11" y="951.65" width="9.76" height="23.75" fill="#e0e0ff"/>
<rect x="756.85" y="951.65" width="9.76" height="23.75" fill="#e0e0ff"/>
<rect x="766.59" y="951.65" width="9.76" height="23.75" fill="#e0e0ff"/>
<rect x="776.33" y="951.65" width="9.76" height="23.75" fill="#e0e0ff"/>
<rect x="786.07" y="951.65" width="9.76" height="23.75" fill="#d0d0ff"/>
<rect x="795.81" y="951.65" width="9.76" height="23.75" fill="#e0e0ff"/>
<rect x="805.55" y="951.65" width="9.76" height="23.75" fill="#e0e0ff"/>
<rect x="815.30" y="951.65" width="9.76" height="23.75" fill="#c0c0ff"/>
<rect x="825.04" y="951.65" width="9.76" height="23.75" fill="#e0e0ff"/>
<rect x="834.78" y="951.65" width="9.76" height="23.75" fill="#e0e0ff"/>
<rect x="844.52" y="951.65" width="9.76" height="23.75" fill="#e0e0ff"/>
<rect x="854.26" y="951.65" width="9.76" height="23.75" fill="#e0e0ff"/>
<rect x="221.10" y="975.38" width="9.76" height="23.75" fill="#ffffff"/>
<rect x="230.84" y="975.38" width="9.76" height="23.75" fill="#ffffff"/>
<rect x="240.58" y="975.38" width="9.76" height="23.75" fill="#f5f5ff"/>
<rect x="250.32" y="975.38" width="9.76" height="23.75" fill="#eaeaff"/>
<rect x="260.06" y="975.38" width="9.76" height="23.75" fill="#ffa6a6"/>
<rect x="269.80" y="975.38" width="9.76" height="23.75" fill="#f5f5ff"/>
<rect x="279.55" y="975.38" width="9.76" height="23.75" fill="#ffffff"/>
<rect x="289.29" y="975.38" width="9.76" height="23.75" fill="#eaeaff"/>
<rect x="299.03" y="975.38" width="9.76" height="23.75" fill="#f5f5ff"/>
<rect x="308.77" y="975.38" width="9.76" height="23.75" fill="#ffe1e1"/>
<rect x="318.51" y="975.38" width="9.76" height="23.75" fill="#eaeaff"/>
<rect x="328.25" y="975.38" width="9.76" height="23.75" fill="#eaeaff"/>
<rect x="337.99" y="975.38" width="9.76" height="23.75" fill="#eaeaff"/>
<rect x="347.73" y="975.38" width="9.76" height="23.75" fill="#ffffff"/>
<rect x="357.47" y="975.38" width="9.76" height="23.75" fill="#f5f5ff"/>
<rect x="367.21" y="975.38" width="9.76" height="23.75" fill="#f5f5ff"/>
<rect x="376.95" y="975.38" width="9.76" height="23.75" fill="#eaeaff"/>
<rect x="386.70" y="975.38" width="9.76" height="23.75" fill="#e0e0ff"/>
<rect x="396.44" y="975.38" width="9.76" height="23.75" fill="#f5f5ff"/>
<rect x="406.18" y="975.38" width="9.76" height="23.75" fill="#f5f5ff"/>
<rect x="415.92" y="975.38" width="9.76" height="23.75" fill="#f5f5ff"/>
<rect x="425.66" y="975.38" width="9.76" height="23.75" fill="#f5f5ff"/>
<rect x="435.40" y="975.38" width="9.76" height="23.75" fill="#eaeaff"/>
<rect x="445.14" y="975.38" width="9.76" height="23.75" fill="#ffffff"/>
<rect x="454.88" y="975.38" width="9.76" height="23.75" fill="#f5f5ff"/>
<rect x="464.62" y="975.38" width="9.76" height="23.75" fill="#fff2f2"/>
<rect x="474.36" y="975.38" width="9.76" height="23.75" fill="#f5f5ff"/>
<rect x="484.10" y="975.38" width="9.76" height="23.75" fill="#eaeaff"/>
<rect x="493.85" y="975.38" width="9.76" height="23.75" fill="#ffffff"/>
<rect x="503.59" y="975.38" width="9.76" height="23.75" fill="#c0c0ff"/>
<rect x="513.33" y="975.38" width="9.76" height="23.75" fill="#e0e0ff"/>
<rect x="523.07" y="975.38" width="9.76" height="23.75" fill="#ffffff"/>
<rect x="532.81" y="975.38" width="9.76" height="23.75" fill="#f5f5ff"/>
<rect x="542.55" y="975.38" width="9.76" height="23.75" fill="#f5f5ff"/>
<rect x="552.29" y="975.38" width="9.76" height="23.75" fill="#f5f5ff"/>
<rect x="562.03" y="975.38" width="9.76" height="23.75" fill="#fff2f2"/>
<rect x="571.77" y="975.38" width="9.76" height="23.75" fill="#f5f5ff"/>
<rect x="581.51" y="975.38" width="9.76" height="23.75" fill="#eaeaff"/>
<rect x="591.25" y="975.38" width="9.76" height="23.75" fill="#ffffff"/>
<rect x="601.00" y="975.38" width="9.76" height="23.75" fill="#fff2f2"/>
<rect x="610.74" y="975.38" width="9.76" height="23.75" fill="#d0d0ff"/>
<rect x="620.48" y="975.38" width="9.76" height="23.75" fill="#f5f5ff"/>
<rect x="630.22" y="975.38" width="9.76" height="23.75" fill="#f5f5ff"/>
<rect x="639.96" y="975.38" width="9.76" height="23.75" fill="#f5f5ff"/>
<rect x="649.70" y="975.38" width="9.76" height="23.75" fill="#ffffff"/>
<rect x="659.44" y="975.38" width="9.76" height="23.75" fill="#c0c0ff"/>
<rect x="669.18" y="975.38" width="9.76" height="23.75" fill="#ff0000"/>
<rect x="678.92" y="975.38" width="9.76" height="23.75" fill="#ffffff"/>
<rect x="688.66" y="975.38" width="9.76" height="23.75" fill="#ffffff"/>
<rect x="698.40" y="975.38" width="9.76" height="23.75" fill="#c0c0ff"/>
<rect x="708.15" y="975.38" width="9.76" height="23.75" fill="#eaeaff"/>
<rect x="717.89" y="975.38" width="9.76" height="23.75" fill="#f5f5ff"/>
<rect x="727.63" y="975.38" width="9.76" height="23.75" fill="#ffffff"/>
<rect x="737.37" y="975.38" width="9.76" height="23.75" fill="#ffffff"/>
<rect x="747.11" y="975.38" width="9.76" height="23.75" fill="#fff2f2"/>
<rect x="756.85" y="975.38" width="9.76" height="23.75" fill="#ffffff"/>
<rect x="766.59" y="975.38" width="9.76" height="23.75" fill="#f5f5ff"/>
<rect x="776.33" y="975.38" width="9.76" height="23.75" fill="#ffffff"/>
<rect x="786.07" y="975.38" width="9.76" height="23.75" fill="#ffffff"/>
<rect x="795.81" y="975.38" width="9.76" height="23.75" fill="#eaeaff"/>
<rect x="805.55" y="975.38" width="9.76" height="23.75" fill="#f5f5ff"/>
<rect x="815.30" y="975.38" width="9.76" height="23.75" fill="#eaeaff"/>
<rect x="825.04" y="975.38" width="9.76" height="23.75" fill="#ffffff"/>
<rect x="834.78" y="975.38" width="9.76" height="23.75" fill="#ffffff"/>
<rect x="844.52" y="975.38" width="9.76" height="23.75" fill="#fff2f2"/>
<rect x="854.26" y="975.38" width="9.76" height="23.75" fill="#ffffff"/>
<rect x="221.10" y="999.11" width="9.76" height="23.75" fill="#e0e0ff"/>
<rect x="230.84" y="999.11" width="9.76" height="23.75" fill="#e0e0ff"/>
<rect x="240.58" y="999.11" width="9.76" height="23.75" fill="#e0e0ff"/>
<rect x="250.32" y="999.11" width="9.76" height="23.75" fill="#d0d0ff"/>
<rect x="260.06" y="999.11" width="9.76" height="23.75" fill="#d0d0ff"/>
<rect x="269.80" y="999.11" width="9.76" height="23.75" fill="#e0e0ff"/>
<rect x="279.55" y="999.11" width="9.76" height="23.75" fill="#e0e0ff"/>
<rect x="289.29" y="999.11" width="9.76" height="23.75" fill="#d0d0ff"/>
<rect x="299.03" y="999.11" width="9.76" height="23.75" fill="#e0e0ff"/>
<rect x="308.77" y="999.11" width="9.76" height="23.75" fill="#a2a2ff"/>
<rect x="318.51" y="999.11" width="9.76" height="23.75" fill="#e0e0ff"/>
<rect x="328.25" y="999.11" width="9.76" height="23.75" fill="#e0e0ff"/>
<rect x="337.99" y="999.11" width="9.76" height="23.75" fill="#e0e0ff"/>
<rect x="347.73" y="999.11" width="9.76" height="23.75" fill="#e0e0ff"/>
<rect x="357.47" y="999.11" width="9.76" height="23.75" fill="#e0e0ff"/>
<rect x="367.21" y="999.11" width="9.76" height="23.75" fill="#e0e0ff"/>
<rect x="376.95" y="999.11" width="9.76" height="23.75" fill="#eaeaff"/>
<rect x="386.70" y="999.11" width="9.76" height="23.75" fill="#e0e0ff"/>
<rect x="396.44" y="999.11" width="9.76" height="23.75" fill="#e0e0ff"/>
<rect x="406.18" y="999.11" width="9.76" height="23.75" fill="#e0e0ff"/>
<rect x="415.92" y="999.11" width="9.76" height="23.75" fill="#e0e0ff"/>
<rect x="425.66" y="999.11" width="9.76" height="23.75" fill="#e0e0ff"/>
<rect x="435.40" y="999.11" width="9.76" height="23.75" fill="#e0e0ff"/>
<rect x="445.14" y="999.11" width="9.76" height="23.75" fill="#e0e0ff"/>
<rect x="454.88" y="999.11" width="9.76" height="23.75" fill="#d0d0ff"/>
<rect x="464.62" y="999.11" width="9.76" height="23.75" fill="#eaeaff"/>
<rect x="474.36" y="999.11" width="9.76" height="23.75" fill="#e0e0ff"/>
<rect x="484.10" y="999.11" width="9.76" height="23.75" fill="#eaeaff"/>
<rect x="493.85" y="999.11" width="9.76" height="23.75" fill="#e0e0ff"/>
<rect x="503.59" y="999.11" width="9.76" height="23.75" fill="#e0e0ff"/>
<rect x="513.33" y="999.11" width="9.76" height="23.75" fill="#e0e0ff"/>
<rect x="523.07" y="999.11" width="9.76" height="23.75" fill="#e0e0ff"/>
<rect x="532.81" y="999.11" width="9.76" height="23.75" fill="#e0e0ff"/>
<rect x="542.55" y="999.11" width="9.76" height="23.75" fill="#e0e0ff"/>
<rect x="552.29" y="999.11" width="9.76" height="23.75" fill="#e0e0ff"/>
<rect x="562.03" y="999.11" width="9.76" height="23.75" fill="#e0e0ff"/>
<rect x="571.77" y="999.11" width="9.76" height="23.75" fill="#e0e0ff"/>
<rect x="581.51" y="999.11" width="9.76" height="23.75" fill="#ffa6a6"/>
<rect x="591.25" y="999.11" width="9.76" height="23.75" fill="#e0e0ff"/>
<rect x="601.00" y="999.11" width="9.76" height="23.75" fill="#e0e0ff"/>
<rect x="610.74" y="999.11" width="9.76" height="23.75" fill="#d0d0ff"/>
<rect x="620.48" y="999.11" width="9.76" height="23.75" fill="#e0e0ff"/>
<rect x="630.22" y="999.11" width="9.76" height="23.75" fill="#e0e0ff"/>
<rect x="639.96" y="999.11" width="9.76" height="23.75" fill="#e0e0ff"/>
<rect x="649.70" y="999.11" width="9.76" height="23.75" fill="#8c8cff"/>
<rect x="659.44" y="999.11" width="9.76" height="23.75" fill="#c0c0ff"/>
<rect x="669.18" y="999.11" width="9.76" height="23.75" fill="#8c8cff"/>
<rect x="678.92" y="999.11" width="9.76" height="23.75" fill="#e0e0ff"/>
<rect x="688.66" y="999.11" width="9.76" height="23.75" fill="#e0e0ff"/>
<rect x="698.40" y="999.11" width="9.76" height="23.75" fill="#ffc8c8"/>
<rect x="708.15" y="999.11" width="9.76" height="23.75" fill="#ffc8c8"/>
<rect x="717.89" y="999.11" width="9.76" height="23.75" fill="#ffc8c8"/>
<rect x="727.63" y="999.11" width="9.76" height="23.75" fill="#c0c0ff"/>
<rect x="737.37" y="999.11" width="9.76" height="23.75" fill="#e0e0ff"/>
<rect x="747.11" y="999.11" width="9.76" height="23.75" fill="#e0e0ff"/>
<rect x="756.85" y="999.11" width="9.76" height="23.75" fill="#e0e0ff"/>
<rect x="766.59" y="999.11" width="9.76" height="23.75" fill="#e0e0ff"/>
<rect x="776.33" y="999.11" width="9.76" height="23.75" fill="#e0e0ff"/>
<rect x="786.07" y="999.11" width="9.76" height="23.75" fill="#e0e0ff"/>
<rect x="795.81" y="999.11" width="9.76" height="23.75" fill="#e0e0ff"/>
<rect x="805.55" y="999.11" width="9.76" height="23.75" fill="#e0e0ff"/>
<rect x="815.30" y="999.11" width="9.76" height="23.75" fill="#c0c0ff"/>
<rect x="825.04" y="999.11" width="9.76" height="23.75" fill="#e0e0ff"/>
<rect x="834.78" y="999.11" width="9.76" height="23.75" fill="#e0e0ff"/>
<rect x="844.52" y="999.11" width="9.76" height="23.75" fill="#e0e0ff"/>
<rect x="854.26" y="999.11" width="9.76" height="23.75" fill="#e0e0ff"/>
<rect x="221.10" y="1022.84" width="9.76" height="23.75" fill="#e0e0ff"/>
<rect x="230.84" y="1022.84" width="9.76" height="23.75" fill="#e0e0ff"/>
<rect x="240.58" y="1022.84" width="9.76" height="23.75" fill="#e0e0ff"/>
<rect x="250.32" y="1022.84" width="9.76" height="23.75" fill="#d0d0ff"/>
<rect x="260.06" y="1022.84" width="9.76" height="23.75" fill="#d0d0ff"/>
<rect x="269.80" y="1022.84" width="9.76" height="23.75" fill="#e0e0ff"/>
<rect x="279.55" y="1022.84" width="9.76" height="23.75" fill="#e0e0ff"/>
<rect x="289.29" y="1022.84" width="9.76" height="23.75" fill="#d0d0ff"/>
<rect x="299.03" y="1022.84" width="9.76" height="23.75" fill="#e0e0ff"/>
<rect x="308.77" y="1022.84" width="9.76" height="23.75" fill="#eaeaff"/>
<rect x="318.51" y="1022.84" width="9.76" height="23.75" fill="#eaeaff"/>
<rect x="328.25" y="1022.84" width="9.76" height="23.75" fill="#e0e0ff"/>
<rect x="337.99" y="1022.84" width="9.76" height="23.75" fill="#e0e0ff"/>
<rect x="347.73" y="1022.84" width="9.76" height="23.75" fill="#e0e0ff"/>
<rect x="357.47" y="1022.84" width="9.76" height="23.75" fill="#e0e0ff"/>
<rect x="367.21" y="1022.84" width="9.76" height="23.75" fill="#e0e0ff"/>
<rect x="376.95" y="1022.84" width="9.76" height="23.75" fill="#ffe1e1"/>
<rect x="386.70" y="1022.84" width="9.76" height="23.75" fill="#e0e0ff"/>
<rect x="396.44" y="1022.84" width="9.76" height="23.75" fill="#e0e0ff"/>
<rect x="406.18" y="1022.84" width="9.76" height="23.75" fill="#e0e0ff"/>
<rect x="415.92" y="1022.84" width="9.76" height="23.75" fill="#e0e0ff"/>
<rect x="425.66" y="1022.84" width="9.76" height="23.75" fill="#e0e0ff"/>
<rect x="435.40" y="1022.84" width="9.76" height="23.75" fill="#e0e0ff"/>
<rect x="445.14" y="1022.84" width="9.76" height="23.75" fill="#e0e0ff"/>
<rect x="454.88" y="1022.84" width="9.76" height="23.75" fill="#d0d0ff"/>
<rect x="464.62" y="1022.84" width="9.76" height="23.75" fill="#ff5555"/>
<rect x="474.36" y="1022.84" width="9.76" height="23.75" fill="#e0e0ff"/>
<rect x="484.10" y="1022.84" width="9.76" height="23.75" fill="#c0c0ff"/>
<rect x="493.85" y="1022.84" width="9.76" height="23.75" fill="#e0e0ff"/>
<rect x="503.59" y="1022.84" width="9.76" height="23.75" fill="#eaeaff"/>
<rect x="513.33" y="1022.84" width="9.76" height="23.75" fill="#fff2f2"/>
<rect x="523.07" y="1022.84" width="9.76" height="23.75" fill="#e0e0ff"/>
<rect x="532.81" y="1022.84" width="9.76" height="23.75" fill="#e0e0ff"/>
<rect x="542.55" y="1022.84" width="9.76" height="23.75" fill="#e0e0ff"/>
<rect x="552.29" y="1022.84" width="9.76" height="23.75" fill="#e0e0ff"/>
<rect x="562.03" y="1022.84" width="9.76" height="23.75" fill="#e0e0ff"/>
<rect x="571.77" y="1022.84" width="9.76" height="23.75" fill="#e0e0ff"/>
<rect x="581.51" y="1022.84" width="9.76" height="23.75" fill="#ffe1e1"/>
<rect x="591.25" y="1022.84" width="9.76" height="23.75" fill="#e0e0ff"/>
<rect x="601.00" y="1022.84" width="9.76" height="23.75" fill="#e0e0ff"/>
<rect x="610.74" y="1022.84" width="9.76" height="23.75" fill="#d0d0ff"/>
<rect x="620.48" y="1022.84" width="9.76" height="23.75" fill="#e0e0ff"/>
<rect x="630.22" y="1022.84" width="9.76" height="23.75" fill="#e0e0ff"/>
<rect x="639.96" y="1022.84" width="9.76" height="23.75" fill="#e0e0ff"/>
<rect x="649.70" y="1022.84" width="9.76" height="23.75" fill="#ff8080"/>
<rect x="659.44" y="1022.84" width="9.76" height="23.75" fill="#c0c0ff"/>
<rect x="669.18" y="1022.84" width="9.76" height="23.75" fill="#ffffff"/>
<rect x="678.92" y="1022.84" width="9.76" height="23.75" fill="#e0e0ff"/>
<rect x="688.66" y="1022.84" width="9.76" height="23.75" fill="#e0e0ff"/>
<rect x="698.40" y="1022.84" width="9.76" height="23.75" fill="#ffffff"/>
<rect x="708.15" y="1022.84" width="9.76" height="23.75" fill="#d0d0ff"/>
<rect x="717.89" y="1022.84" width="9.76" height="23.75" fill="#8c8cff"/>
<rect x="727.63" y="1022.84" width="9.76" height="23.75" fill="#c0c0ff"/>
<rect x="737.37" y="1022.84" width="9.76" height="23.75" fill="#eaeaff"/>
<rect x="747.11" y="1022.84" width="9.76" height="23.75" fill="#e0e0ff"/>
<rect x="756.85" y="1022.84" width="9.76" height="23.75" fill="#e0e0ff"/>
<rect x="766.59" y="1022.84" width="9.76" height="23.75" fill="#e0e0ff"/>
<rect x="776.33" y="1022.84" width="9.76" height="23.75" fill="#e0e0ff"/>
<rect x="786.07" y="1022.84" width="9.76" height="23.75" fill="#f5f5ff"/>
<rect x="795.81" y="1022.84" width="9.76" height="23.75" fill="#e0e0ff"/>
<rect x="805.55" y="1022.84" width="9.76" height="23.75" fill="#e0e0ff"/>
<rect x="815.30" y="1022.84" width="9.76" height="23.75" fill="#c0c0ff"/>
<rect x="825.04" y="1022.84" width="9.76" height="23.75" fill="#e0e0ff"/>
<rect x="834.78" y="1022.84" width="9.76" height="23.75" fill="#e0e0ff"/>
<rect x="844.52" y="1022.84" width="9.76" height="23.75" fill="#e0e0ff"/>
<rect x="854.26" y="1022.84" width="9.76" height="23.75" fill="#e0e0ff"/>
<rect x="221.10" y="1046.57" width="9.76" height="23.75" fill="#e0e0ff"/>
<rect x="230.84" y="1046.57" width="9.76" height="23.75" fill="#e0e0ff"/>
<rect x="240.58" y="1046.57" width="9.76" height="23.75" fill="#e0e0ff"/>
<rect x="250.32" y="1046.57" width="9.76" height="23.75" fill="#d0d0ff"/>
<rect x="260.06" y="1046.57" width="9.76" height="23.75" fill="#c0c0ff"/>
<rect x="269.80" y="1046.57" width="9.76" height="23.75" fill="#e0e0ff"/>
<rect x="279.55" y="1046.57" width="9.76" height="23.75" fill="#e0e0ff"/>
<rect x="289.29" y="1046.57" width="9.76" height="23.75" fill="#d0d0ff"/>
<rect x="299.03" y="1046.57" width="9.76" height="23.75" fill="#e0e0ff"/>
<rect x="308.77" y="1046.57" width="9.76" height="23.75" fill="#c0c0ff"/>
<rect x="318.51" y="1046.57" width="9.76" height="23.75" fill="#e0e0ff"/>
<rect x="328.25" y="1046.57" width="9.76" height="23.75" fill="#e0e0ff"/>
<rect x="337.99" y="1046.57" width="9.76" height="23.75" fill="#e0e0ff"/>
<rect x="347.73" y="1046.57" width="9.76" height="23.75" fill="#e0e0ff"/>
<rect x="357.47" y="1046.57" width="9.76" height="23.75" fill="#e0e0ff"/>
<rect x="367.21" y="1046.57" width="9.76" height="23.75" fill="#e0e0ff"/>
<rect x="376.95" y="1046.57" width="9.76" height="23.75" fill="#e0e0ff"/>
<rect x="386.70" y="1046.57" width="9.76" height="23.75" fill="#e0e0ff"/>
<rect x="396.44" y="1046.57" width="9.76" height="23.75" fill="#e0e0ff"/>
<rect x="406.18" y="1046.57" width="9.76" height="23.75" fill="#e0e0ff"/>
<rect x="415.92" y="1046.57" width="9.76" height="23.75" fill="#e0e0ff"/>
<rect x="425.66" y="1046.57" width="9.76" height="23.75" fill="#e0e0ff"/>
<rect x="435.40" y="1046.57" width="9.76" height="23.75" fill="#e0e0ff"/>
<rect x="445.14" y="1046.57" width="9.76" height="23.75" fill="#e0e0ff"/>
<rect x="454.88" y="1046.57" width="9.76" height="23.75" fill="#d0d0ff"/>
<rect x="464.62" y="1046.57" width="9.76" height="23.75" fill="#ffa6a6"/>
<rect x="474.36" y="1046.57" width="9.76" height="23.75" fill="#e0e0ff"/>
<rect x="484.10" y="1046.57" width="9.76" height="23.75" fill="#c0c0ff"/>
<rect x="493.85" y="1046.57" width="9.76" height="23.75" fill="#e0e0ff"/>
<rect x="503.59" y="1046.57" width="9.76" height="23.75" fill="#c0c0ff"/>
<rect x="513.33" y="1046.57" width="9.76" height="23.75" fill="#e0e0ff"/>
<rect x="523.07" y="1046.57" width="9.76" height="23.75" fill="#e0e0ff"/>
<rect x="532.81" y="1046.57" width="9.76" height="23.75" fill="#e0e0ff"/>
<rect x="542.55" y="1046.57" width="9.76" height="23.75" fill="#e0e0ff"/>
<rect x="552.29" y="1046.57" width="9.76" height="23.75" fill="#e0e0ff"/>
<rect x="562.03" y="1046.57" width="9.76" height="23.75" fill="#e0e0ff"/>
<rect x="571.77" y="1046.57" width="9.76" height="23.75" fill="#e0e0ff"/>
<rect x="581.51" y="1046.57" width="9.76" height="23.75" fill="#eaeaff"/>
<rect x="591.25" y="1046.57" width="9.76" height="23.75" fill="#e0e0ff"/>
<rect x="601.00" y="1046.57" width="9.76" height="23.75" fill="#e0e0ff"/>
<rect x="610.74" y="1046.57" width="9.76" height="23.75" fill="#d0d0ff"/>
<rect x="620.48" y="1046.57" width="9.76" height="23.75" fill="#e0e0ff"/>
<rect x="630.22" y="1046.57" width="9.76" height="23.75" fill="#e0e0ff"/>
<rect x="639.96" y="1046.57" width="9.76" height="23.75" fill="#e0e0ff"/>
<rect x="649.70" y="1046.57" width="9.76" height="23.75" fill="#e0e0ff"/>
<rect x="659.44" y="1046.57" width="9.76" height="23.75" fill="#c0c0ff"/>
<rect x="669.18" y="1046.57" width="9.76" height="23.75" fill="#ffe1e1"/>
<rect x="678.92" y="1046.57" width="9.76" height="23.75" fill="#e0e0ff"/>
<rect x="688.66" y="1046.57" width="9.76" height="23.75" fill="#e0e0ff"/>
<rect x="698.40" y="1046.57" width="9.76" height="23.75" fill="#fff2f2"/>
<rect x="708.15" y="1046.57" width="9.76" height="23.75" fill="#ff2222"/>
<rect x="717.89" y="1046.57" width="9.76" height="23.75" fill="#e0e0ff"/>
<rect x="727.63" y="1046.57" width="9.76" height="23.75" fill="#c0c0ff"/>
<rect x="737.37" y="1046.57" width="9.76" height="23.75" fill="#e0e0ff"/>
<rect x="747.11" y="1046.57" width="9.76" height="23.75" fill="#e0e0ff"/>
<rect x="756.85" y="1046.57" width="9.76" height="23.75" fill="#e0e0ff"/>
<rect x="766.59" y="1046.57" width="9.76" height="23.75" fill="#e0e0ff"/>
<rect x="776.33" y="1046.57" width="9.76" height="23.75" fill="#e0e0ff"/>
<rect x="786.07" y="1046.57" width="9.76" height="23.75" fill="#e0e0ff"/>
<rect x="795.81" y="1046.57" width="9.76" height="23.75" fill="#e0e0ff"/>
<rect x="805.55" y="1046.57" width="9.76" height="23.75" fill="#e0e0ff"/>
<rect x="815.30" y="1046.57" width="9.76" height="23.75" fill="#c0c0ff"/>
<rect x="825.04" y="1046.57" width="9.76" height="23.75" fill="#e0e0ff"/>
<rect x="834.78" y="1046.57" width="9.76" height="23.75" fill="#e0e0ff"/>
<rect x="844.52" y="1046.57" width="9.76" height="23.75" fill="#e0e0ff"/>
<rect x="854.26" y="1046.57" width="9.76" height="23.75" fill="#e0e0ff"/>
<rect x="185.20" y="666.90" width="6.70" height="23.75" fill="#ff0000"/>
<rect x="185.20" y="690.63" width="6.70" height="23.75" fill="#ffa6a6"/>
<rect x="185.20" y="714.36" width="6.70" height="23.75" fill="#a2a2ff"/>
<rect x="185.20" y="738.09" width="6.70" height="23.75" fill="#eaeaff"/>
<rect x="185.20" y="761.82" width="6.70" height="23.75" fill="#ffa6a6"/>
<rect x="185.20" y="785.55" width="6.70" height="23.75" fill="#8c8cff"/>
<rect x="185.20" y="809.28" width="6.70" height="23.75" fill="#c0c0ff"/>
<rect x="185.20" y="833.01" width="6.70" height="23.75" fill="#6e6eff"/>
<rect x="185.20" y="856.74" width="6.70" height="23.75" fill="#5151ff"/>
<rect x="185.20" y="880.46" width="6.70" height="23.75" fill="#8c8cff"/>
<rect x="185.20" y="904.19" width="6.70" height="23.75" fill="#ffa6a6"/>
<rect x="185.20" y="927.92" width="6.70" height="23.75" fill="#ff0000"/>
<rect x="185.20" y="951.65" width="6.70" height="23.75" fill="#ffc8c8"/>
<rect x="185.20" y="975.38" width="6.70" height="23.75" fill="#f5f5ff"/>
<rect x="185.20" y="999.11" width="6.70" height="23.75" fill="#ffe1e1"/>
<rect x="185.20" y="1022.84" width="6.70" height="23.75" fill="#8c8cff"/>
<rect x="185.20" y="1046.57" width="6.70" height="23.75" fill="#eaeaff"/>
<line x1="176.20" y1="678.76" x2="184.80" y2="678.76" stroke="#000" stroke-width="1.8"/>
<line x1="176.20" y1="702.49" x2="184.80" y2="702.49" stroke="#000" stroke-width="1.8"/>
<line x1="176.20" y1="726.22" x2="184.80" y2="726.22" stroke="#000" stroke-width="1.8"/>
<line x1="176.20" y1="749.95" x2="184.80" y2="749.95" stroke="#000" stroke-width="1.8"/>
<line x1="176.20" y1="773.68" x2="184.80" y2="773.68" stroke="#000" stroke-width="1.8"/>
<line x1="176.20" y1="797.41" x2="184.80" y2="797.41" stroke="#000" stroke-width="1.8"/>
<line x1="176.20" y1="821.14" x2="184.80" y2="821.14" stroke="#000" stroke-width="1.8"/>
<line x1="176.20" y1="844.87" x2="184.80" y2="844.87" stroke="#000" stroke-width="1.8"/>
<line x1="176.20" y1="868.60" x2="184.80" y2="868.60" stroke="#000" stroke-width="1.8"/>
<line x1="176.20" y1="892.33" x2="184.80" y2="892.33" stroke="#000" stroke-width="1.8"/>
<line x1="176.20" y1="916.06" x2="184.80" y2="916.06" stroke="#000" stroke-width="1.8"/>
<line x1="176.20" y1="939.79" x2="184.80" y2="939.79" stroke="#000" stroke-width="1.8"/>
<line x1="176.20" y1="963.52" x2="184.80" y2="963.52" stroke="#000" stroke-width="1.8"/>
<line x1="176.20" y1="987.25" x2="184.80" y2="987.25" stroke="#000" stroke-width="1.8"/>
<line x1="176.20" y1="1010.98" x2="184.80" y2="1010.98" stroke="#000" stroke-width="1.8"/>
<line x1="176.20" y1="1034.71" x2="184.80" y2="1034.71" stroke="#000" stroke-width="1.8"/>
<line x1="176.20" y1="1058.44" x2="184.80" y2="1058.44" stroke="#000" stroke-width="1.8"/>
<line x1="212.10" y1="678.06" x2="220.50" y2="678.06" stroke="#000" stroke-width="1.8"/>
<line x1="212.10" y1="701.79" x2="220.50" y2="701.79" stroke="#000" stroke-width="1.8"/>
<line x1="212.10" y1="725.52" x2="220.50" y2="725.52" stroke="#000" stroke-width="1.8"/>
<line x1="212.10" y1="749.25" x2="220.50" y2="749.25" stroke="#000" stroke-width="1.8"/>
<line x1="212.10" y1="772.98" x2="220.50" y2="772.98" stroke="#000" stroke-width="1.8"/>
<line x1="212.10" y1="796.71" x2="220.50" y2="796.71" stroke="#000" stroke-width="1.8"/>
<line x1="212.10" y1="820.44" x2="220.50" y2="820.44" stroke="#000" stroke-width="1.8"/>
<line x1="212.10" y1="844.17" x2="220.50" y2="844.17" stroke="#000" stroke-width="1.8"/>
<line x1="212.10" y1="867.90" x2="220.50" y2="867.90" stroke="#000" stroke-width="1.8"/>
<line x1="212.10" y1="891.63" x2="220.50" y2="891.63" stroke="#000" stroke-width="1.8"/>
<line x1="212.10" y1="915.36" x2="220.50" y2="915.36" stroke="#000" stroke-width="1.8"/>
<line x1="212.10" y1="939.09" x2="220.50" y2="939.09" stroke="#000" stroke-width="1.8"/>
<line x1="212.10" y1="962.82" x2="220.50" y2="962.82" stroke="#000" stroke-width="1.8"/>
<line x1="212.10" y1="986.55" x2="220.50" y2="986.55" stroke="#000" stroke-width="1.8"/>
<line x1="212.10" y1="1010.28" x2="220.50" y2="1010.28" stroke="#000" stroke-width="1.8"/>
<line x1="212.10" y1="1034.01" x2="220.50" y2="1034.01" stroke="#000" stroke-width="1.8"/>
<line x1="212.10" y1="1057.74" x2="220.50" y2="1057.74" stroke="#000" stroke-width="1.8"/>
<text x="167.00" y="677.26" font-size="18.3" text-anchor="end" dominant-baseline="central" transform="rotate(-10 167.00 677.26)">testis</text>
<text x="167.00" y="700.99" font-size="18.3" text-anchor="end" dominant-baseline="central" transform="rotate(-10 167.00 700.99)">trachea</text>
<text x="167.00" y="724.72" font-size="18.3" text-anchor="end" dominant-baseline="central" transform="rotate(-10 167.00 724.72)">ovary</text>
<text x="167.00" y="748.45" font-size="18.3" text-anchor="end" dominant-baseline="central" transform="rotate(-10 167.00 748.45)">fat_body</text>
<text x="167.00" y="772.18" font-size="18.3" text-anchor="end" dominant-baseline="central" transform="rotate(-10 167.00 772.18)">gut</text>
<text x="167.00" y="795.91" font-size="18.3" text-anchor="end" dominant-baseline="central" transform="rotate(-10 167.00 795.91)">head</text>
<text x="167.00" y="819.64" font-size="18.3" text-anchor="end" dominant-baseline="central" transform="rotate(-10 167.00 819.64)">antenna</text>
<text x="167.00" y="843.37" font-size="18.3" text-anchor="end" dominant-baseline="central" transform="rotate(-10 167.00 843.37)">male glands</text>
<text x="167.00" y="867.10" font-size="18.3" text-anchor="end" dominant-baseline="central" transform="rotate(-10 167.00 867.10)">malpighian_tubule</text>
<text x="167.00" y="890.83" font-size="18.3" text-anchor="end" dominant-baseline="central" transform="rotate(-10 167.00 890.83)">body</text>
<text x="167.00" y="914.56" font-size="18.3" text-anchor="end" dominant-baseline="central" transform="rotate(-10 167.00 914.56)">haltere</text>
<text x="167.00" y="938.29" font-size="18.3" text-anchor="end" dominant-baseline="central" transform="rotate(-10 167.00 938.29)">heart</text>
<text x="167.00" y="962.02" font-size="18.3" text-anchor="end" dominant-baseline="central" transform="rotate(-10 167.00 962.02)">wing</text>
<text x="167.00" y="985.75" font-size="18.3" text-anchor="end" dominant-baseline="central" transform="rotate(-10 167.00 985.75)">oenocyte</text>
<text x="167.00" y="1009.48" font-size="18.3" text-anchor="end" dominant-baseline="central" transform="rotate(-10 167.00 1009.48)">leg</text>
<text x="167.00" y="1033.21" font-size="18.3" text-anchor="end" dominant-baseline="central" transform="rotate(-10 167.00 1033.21)">body_wall</text>
<text x="167.00" y="1056.94" font-size="18.3" text-anchor="end" dominant-baseline="central" transform="rotate(-10 167.00 1056.94)">proboscis &amp; maxpalp</text>
<text x="53.80" y="678.60" font-size="28" text-anchor="start">C</text>
<text x="177.40" y="1090.30" font-size="18.3" text-anchor="start">Jra</text>
<text x="361.10" y="1092.90" font-size="18.3" text-anchor="start">Jra regulated de novo gene candidates</text>
<text x="872.90" y="663.30" font-size="13.4" text-anchor="start">Scaled</text>
<text x="872.90" y="677.00" font-size="13.4" text-anchor="start">expression</text>
<defs><linearGradient id="g689" x1="0" y1="0" x2="0" y2="1"><stop offset="0" stop-color="#ff1010"/><stop offset="0.5" stop-color="#ffffff"/><stop offset="1" stop-color="#1010ff"/></linearGradient><linearGradient id="g689b" x1="0" y1="0" x2="0" y2="1"><stop offset="0" stop-color="#500000"/><stop offset="0.5" stop-color="#111111"/><stop offset="1" stop-color="#000060"/></linearGradient></defs>
<rect x="876.20" y="689.00" width="11.30" height="63.00" fill="url(#g689b)"/>
<rect x="877.60" y="690.40" width="8.50" height="60.20" fill="url(#g689)"/>
<line x1="886.80" y1="689.00" x2="886.80" y2="752.00" stroke="#000" stroke-width="1.5"/>
<line x1="886.80" y1="691.00" x2="894.80" y2="691.00" stroke="#000" stroke-width="1.5"/>
<text x="903.00" y="695.80" font-size="13.4" text-anchor="start">3</text>
<line x1="886.80" y1="720.50" x2="894.80" y2="720.50" stroke="#000" stroke-width="1.5"/>
<text x="903.00" y="725.30" font-size="13.4" text-anchor="start">0</text>
<line x1="886.80" y1="750.00" x2="894.80" y2="750.00" stroke="#000" stroke-width="1.5"/>
<text x="903.00" y="754.80" font-size="13.4" text-anchor="start">-3</text>
<rect x="1047.80" y="113.40" width="14.30" height="38.25" fill="#d9d9ff"/>
<rect x="1062.08" y="113.40" width="14.30" height="38.25" fill="#b2b2ff"/>
<rect x="1076.36" y="113.40" width="14.30" height="38.25" fill="#bbbbff"/>
<rect x="1090.65" y="113.40" width="14.30" height="38.25" fill="#e6e6ff"/>
<rect x="1104.93" y="113.40" width="14.30" height="38.25" fill="#ff9090"/>
<rect x="1119.21" y="113.40" width="14.30" height="38.25" fill="#3c3cff"/>
<rect x="1133.49" y="113.40" width="14.30" height="38.25" fill="#ff6e6e"/>
<rect x="1147.78" y="113.40" width="14.30" height="38.25" fill="#9999ff"/>
<rect x="1162.06" y="113.40" width="14.30" height="38.25" fill="#ff8888"/>
<rect x="1176.34" y="113.40" width="14.30" height="38.25" fill="#5555ff"/>
<rect x="1190.62" y="113.40" width="14.30" height="38.25" fill="#9999ff"/>
<rect x="1204.90" y="113.40" width="14.30" height="38.25" fill="#5e5eff"/>
<rect x="1219.19" y="113.40" width="14.30" height="38.25" fill="#8c8cff"/>
<rect x="1233.47" y="113.40" width="14.30" height="38.25" fill="#a6a6ff"/>
<rect x="1247.75" y="113.40" width="14.30" height="38.25" fill="#4c4cff"/>
<rect x="1262.03" y="113.40" width="14.30" height="38.25" fill="#ff9999"/>
<rect x="1276.32" y="113.40" width="14.30" height="38.25" fill="#4444ff"/>
<rect x="1290.60" y="113.40" width="14.30" height="38.25" fill="#6262ff"/>
<rect x="1304.88" y="113.40" width="14.30" height="38.25" fill="#a6a6ff"/>
<rect x="1319.16" y="113.40" width="14.30" height="38.25" fill="#4444ff"/>
<rect x="1333.44" y="113.40" width="14.30" height="38.25" fill="#8080ff"/>
<rect x="1347.73" y="113.40" width="14.30" height="38.25" fill="#ff0000"/>
<rect x="1362.01" y="113.40" width="14.30" height="38.25" fill="#5555ff"/>
<rect x="1376.29" y="113.40" width="14.30" height="38.25" fill="#9090ff"/>
<rect x="1390.57" y="113.40" width="14.30" height="38.25" fill="#5555ff"/>
<rect x="1404.86" y="113.40" width="14.30" height="38.25" fill="#4c4cff"/>
<rect x="1419.14" y="113.40" width="14.30" height="38.25" fill="#9090ff"/>
<rect x="1433.42" y="113.40" width="14.30" height="38.25" fill="#9090ff"/>
<rect x="1447.70" y="113.40" width="14.30" height="38.25" fill="#ffffff"/>
<rect x="1461.98" y="113.40" width="14.30" height="38.25" fill="#d4d4ff"/>
<rect x="1476.27" y="113.40" width="14.30" height="38.25" fill="#9090ff"/>
<rect x="1490.55" y="113.40" width="14.30" height="38.25" fill="#4c4cff"/>
<rect x="1504.83" y="113.40" width="14.30" height="38.25" fill="#c4c4ff"/>
<rect x="1519.11" y="113.40" width="14.30" height="38.25" fill="#6666ff"/>
<rect x="1533.40" y="113.40" width="14.30" height="38.25" fill="#6262ff"/>
<rect x="1547.68" y="113.40" width="14.30" height="38.25" fill="#6e6eff"/>
<rect x="1561.96" y="113.40" width="14.30" height="38.25" fill="#3737ff"/>
<rect x="1576.24" y="113.40" width="14.30" height="38.25" fill="#4444ff"/>
<rect x="1590.52" y="113.40" width="14.30" height="38.25" fill="#8080ff"/>
<rect x="1604.81" y="113.40" width="14.30" height="38.25" fill="#ff2a2a"/>
<rect x="1619.09" y="113.40" width="14.30" height="38.25" fill="#4c4cff"/>
<rect x="1633.37" y="113.40" width="14.30" height="38.25" fill="#4c4cff"/>
<rect x="1647.65" y="113.40" width="14.30" height="38.25" fill="#9999ff"/>
<rect x="1661.94" y="113.40" width="14.30" height="38.25" fill="#5959ff"/>
<rect x="1676.22" y="113.40" width="14.30" height="38.25" fill="#9090ff"/>
<rect x="1047.80" y="151.63" width="14.30" height="38.25" fill="#ccccff"/>
<rect x="1062.08" y="151.63" width="14.30" height="38.25" fill="#9090ff"/>
<rect x="1076.36" y="151.63" width="14.30" height="38.25" fill="#9090ff"/>
<rect x="1090.65" y="151.63" width="14.30" height="38.25" fill="#ffc8c8"/>
<rect x="1104.93" y="151.63" width="14.30" height="38.25" fill="#ffe6e6"/>
<rect x="1119.21" y="151.63" width="14.30" height="38.25" fill="#4c4cff"/>
<rect x="1133.49" y="151.63" width="14.30" height="38.25" fill="#ff6e6e"/>
<rect x="1147.78" y="151.63" width="14.30" height="38.25" fill="#9999ff"/>
<rect x="1162.06" y="151.63" width="14.30" height="38.25" fill="#ffffff"/>
<rect x="1176.34" y="151.63" width="14.30" height="38.25" fill="#5959ff"/>
<rect x="1190.62" y="151.63" width="14.30" height="38.25" fill="#9090ff"/>
<rect x="1204.90" y="151.63" width="14.30" height="38.25" fill="#6e6eff"/>
<rect x="1219.19" y="151.63" width="14.30" height="38.25" fill="#7777ff"/>
<rect x="1233.47" y="151.63" width="14.30" height="38.25" fill="#aaaaff"/>
<rect x="1247.75" y="151.63" width="14.30" height="38.25" fill="#5959ff"/>
<rect x="1262.03" y="151.63" width="14.30" height="38.25" fill="#ff3333"/>
<rect x="1276.32" y="151.63" width="14.30" height="38.25" fill="#4c4cff"/>
<rect x="1290.60" y="151.63" width="14.30" height="38.25" fill="#6262ff"/>
<rect x="1304.88" y="151.63" width="14.30" height="38.25" fill="#a2a2ff"/>
<rect x="1319.16" y="151.63" width="14.30" height="38.25" fill="#8888ff"/>
<rect x="1333.44" y="151.63" width="14.30" height="38.25" fill="#ff8080"/>
<rect x="1347.73" y="151.63" width="14.30" height="38.25" fill="#e6e6ff"/>
<rect x="1362.01" y="151.63" width="14.30" height="38.25" fill="#5555ff"/>
<rect x="1376.29" y="151.63" width="14.30" height="38.25" fill="#9090ff"/>
<rect x="1390.57" y="151.63" width="14.30" height="38.25" fill="#6262ff"/>
<rect x="1404.86" y="151.63" width="14.30" height="38.25" fill="#6a6aff"/>
<rect x="1419.14" y="151.63" width="14.30" height="38.25" fill="#8c8cff"/>
<rect x="1433.42" y="151.63" width="14.30" height="38.25" fill="#4444ff"/>
<rect x="1447.70" y="151.63" width="14.30" height="38.25" fill="#aeaeff"/>
<rect x="1461.98" y="151.63" width="14.30" height="38.25" fill="#9090ff"/>
<rect x="1476.27" y="151.63" width="14.30" height="38.25" fill="#5959ff"/>
<rect x="1490.55" y="151.63" width="14.30" height="38.25" fill="#6262ff"/>
<rect x="1504.83" y="151.63" width="14.30" height="38.25" fill="#c4c4ff"/>
<rect x="1519.11" y="151.63" width="14.30" height="38.25" fill="#8080ff"/>
<rect x="1533.40" y="151.63" width="14.30" height="38.25" fill="#8888ff"/>
<rect x="1547.68" y="151.63" width="14.30" height="38.25" fill="#d0d0ff"/>
<rect x="1561.96" y="151.63" width="14.30" height="38.25" fill="#5959ff"/>
<rect x="1576.24" y="151.63" width="14.30" height="38.25" fill="#4c4cff"/>
<rect x="1590.52" y="151.63" width="14.30" height="38.25" fill="#8888ff"/>
<rect x="1604.81" y="151.63" width="14.30" height="38.25" fill="#ff6e6e"/>
<rect x="1619.09" y="151.63" width="14.30" height="38.25" fill="#4c4cff"/>
<rect x="1633.37" y="151.63" width="14.30" height="38.25" fill="#5959ff"/>
<rect x="1647.65" y="151.63" width="14.30" height="38.25" fill="#8c8cff"/>
<rect x="1661.94" y="151.63" width="14.30" height="38.25" fill="#e6e6ff"/>
<rect x="1676.22" y="151.63" width="14.30" height="38.25" fill="#9090ff"/>
<rect x="1047.80" y="189.86" width="14.30" height="38.25" fill="#ff0000"/>
<rect x="1062.08" y="189.86" width="14.30" height="38.25" fill="#ff0000"/>
<rect x="1076.36" y="189.86" width="14.30" height="38.25" fill="#ff0808"/>
<rect x="1090.65" y="189.86" width="14.30" height="38.25" fill="#ff1919"/>
<rect x="1104.93" y="189.86" width="14.30" height="38.25" fill="#ff2222"/>
<rect x="1119.21" y="189.86" width="14.30" height="38.25" fill="#ff6e6e"/>
<rect x="1133.49" y="189.86" width="14.30" height="38.25" fill="#ff8080"/>
<rect x="1147.78" y="189.86" width="14.30" height="38.25" fill="#ff0000"/>
<rect x="1162.06" y="189.86" width="14.30" height="38.25" fill="#ff3c3c"/>
<rect x="1176.34" y="189.86" width="14.30" height="38.25" fill="#ff9999"/>
<rect x="1190.62" y="189.86" width="14.30" height="38.25" fill="#fffbfb"/>
<rect x="1204.90" y="189.86" width="14.30" height="38.25" fill="#ff6e6e"/>
<rect x="1219.19" y="189.86" width="14.30" height="38.25" fill="#fffbfb"/>
<rect x="1233.47" y="189.86" width="14.30" height="38.25" fill="#b7b7ff"/>
<rect x="1247.75" y="189.86" width="14.30" height="38.25" fill="#ff9999"/>
<rect x="1262.03" y="189.86" width="14.30" height="38.25" fill="#ff9d9d"/>
<rect x="1276.32" y="189.86" width="14.30" height="38.25" fill="#ff8080"/>
<rect x="1290.60" y="189.86" width="14.30" height="38.25" fill="#a2a2ff"/>
<rect x="1304.88" y="189.86" width="14.30" height="38.25" fill="#ff9999"/>
<rect x="1319.16" y="189.86" width="14.30" height="38.25" fill="#aaaaff"/>
<rect x="1333.44" y="189.86" width="14.30" height="38.25" fill="#aaaaff"/>
<rect x="1347.73" y="189.86" width="14.30" height="38.25" fill="#ff9d9d"/>
<rect x="1362.01" y="189.86" width="14.30" height="38.25" fill="#a2a2ff"/>
<rect x="1376.29" y="189.86" width="14.30" height="38.25" fill="#fff6f6"/>
<rect x="1390.57" y="189.86" width="14.30" height="38.25" fill="#ffe6e6"/>
<rect x="1404.86" y="189.86" width="14.30" height="38.25" fill="#f2f2ff"/>
<rect x="1419.14" y="189.86" width="14.30" height="38.25" fill="#ffffff"/>
<rect x="1433.42" y="189.86" width="14.30" height="38.25" fill="#ff6262"/>
<rect x="1447.70" y="189.86" width="14.30" height="38.25" fill="#ff0000"/>
<rect x="1461.98" y="189.86" width="14.30" height="38.25" fill="#ff0000"/>
<rect x="1476.27" y="189.86" width="14.30" height="38.25" fill="#ff2222"/>
<rect x="1490.55" y="189.86" width="14.30" height="38.25" fill="#ffffff"/>
<rect x="1504.83" y="189.86" width="14.30" height="38.25" fill="#ffe6e6"/>
<rect x="1519.11" y="189.86" width="14.30" height="38.25" fill="#9999ff"/>
<rect x="1533.40" y="189.86" width="14.30" height="38.25" fill="#8888ff"/>
<rect x="1547.68" y="189.86" width="14.30" height="38.25" fill="#6a6aff"/>
<rect x="1561.96" y="189.86" width="14.30" height="38.25" fill="#ff9d9d"/>
<rect x="1576.24" y="189.86" width="14.30" height="38.25" fill="#eeeeff"/>
<rect x="1590.52" y="189.86" width="14.30" height="38.25" fill="#6e6eff"/>
<rect x="1604.81" y="189.86" width="14.30" height="38.25" fill="#fff2f2"/>
<rect x="1619.09" y="189.86" width="14.30" height="38.25" fill="#c4c4ff"/>
<rect x="1633.37" y="189.86" width="14.30" height="38.25" fill="#c8c8ff"/>
<rect x="1647.65" y="189.86" width="14.30" height="38.25" fill="#aeaeff"/>
<rect x="1661.94" y="189.86" width="14.30" height="38.25" fill="#ffe1e1"/>
<rect x="1676.22" y="189.86" width="14.30" height="38.25" fill="#fff2f2"/>
<rect x="1047.80" y="228.09" width="14.30" height="38.25" fill="#ffbfbf"/>
<rect x="1062.08" y="228.09" width="14.30" height="38.25" fill="#f2f2ff"/>
<rect x="1076.36" y="228.09" width="14.30" height="38.25" fill="#ffaeae"/>
<rect x="1090.65" y="228.09" width="14.30" height="38.25" fill="#ffaaaa"/>
<rect x="1104.93" y="228.09" width="14.30" height="38.25" fill="#a2a2ff"/>
<rect x="1119.21" y="228.09" width="14.30" height="38.25" fill="#ffffff"/>
<rect x="1133.49" y="228.09" width="14.30" height="38.25" fill="#d4d4ff"/>
<rect x="1147.78" y="228.09" width="14.30" height="38.25" fill="#ffb2b2"/>
<rect x="1162.06" y="228.09" width="14.30" height="38.25" fill="#ffb2b2"/>
<rect x="1176.34" y="228.09" width="14.30" height="38.25" fill="#ff4040"/>
<rect x="1190.62" y="228.09" width="14.30" height="38.25" fill="#ff5e5e"/>
<rect x="1204.90" y="228.09" width="14.30" height="38.25" fill="#ff4040"/>
<rect x="1219.19" y="228.09" width="14.30" height="38.25" fill="#ff5151"/>
<rect x="1233.47" y="228.09" width="14.30" height="38.25" fill="#ffd9d9"/>
<rect x="1247.75" y="228.09" width="14.30" height="38.25" fill="#ff4444"/>
<rect x="1262.03" y="228.09" width="14.30" height="38.25" fill="#a2a2ff"/>
<rect x="1276.32" y="228.09" width="14.30" height="38.25" fill="#ff6e6e"/>
<rect x="1290.60" y="228.09" width="14.30" height="38.25" fill="#ffffff"/>
<rect x="1304.88" y="228.09" width="14.30" height="38.25" fill="#ff0000"/>
<rect x="1319.16" y="228.09" width="14.30" height="38.25" fill="#ffe1e1"/>
<rect x="1333.44" y="228.09" width="14.30" height="38.25" fill="#ff8888"/>
<rect x="1347.73" y="228.09" width="14.30" height="38.25" fill="#d4d4ff"/>
<rect x="1362.01" y="228.09" width="14.30" height="38.25" fill="#ffaaaa"/>
<rect x="1376.29" y="228.09" width="14.30" height="38.25" fill="#ff0000"/>
<rect x="1390.57" y="228.09" width="14.30" height="38.25" fill="#ff2a2a"/>
<rect x="1404.86" y="228.09" width="14.30" height="38.25" fill="#ff3333"/>
<rect x="1419.14" y="228.09" width="14.30" height="38.25" fill="#ff0808"/>
<rect x="1433.42" y="228.09" width="14.30" height="38.25" fill="#ff7b7b"/>
<rect x="1447.70" y="228.09" width="14.30" height="38.25" fill="#ffd9d9"/>
<rect x="1461.98" y="228.09" width="14.30" height="38.25" fill="#ffdddd"/>
<rect x="1476.27" y="228.09" width="14.30" height="38.25" fill="#ff9090"/>
<rect x="1490.55" y="228.09" width="14.30" height="38.25" fill="#ff7777"/>
<rect x="1504.83" y="228.09" width="14.30" height="38.25" fill="#ff0000"/>
<rect x="1519.11" y="228.09" width="14.30" height="38.25" fill="#ff0808"/>
<rect x="1533.40" y="228.09" width="14.30" height="38.25" fill="#eeeeff"/>
<rect x="1547.68" y="228.09" width="14.30" height="38.25" fill="#aaaaff"/>
<rect x="1561.96" y="228.09" width="14.30" height="38.25" fill="#ff8888"/>
<rect x="1576.24" y="228.09" width="14.30" height="38.25" fill="#ff8080"/>
<rect x="1590.52" y="228.09" width="14.30" height="38.25" fill="#fbfbff"/>
<rect x="1604.81" y="228.09" width="14.30" height="38.25" fill="#aeaeff"/>
<rect x="1619.09" y="228.09" width="14.30" height="38.25" fill="#ff9090"/>
<rect x="1633.37" y="228.09" width="14.30" height="38.25" fill="#ff9999"/>
<rect x="1647.65" y="228.09" width="14.30" height="38.25" fill="#ffffff"/>
<rect x="1661.94" y="228.09" width="14.30" height="38.25" fill="#ff4848"/>
<rect x="1676.22" y="228.09" width="14.30" height="38.25" fill="#ff0000"/>
<rect x="1047.80" y="266.31" width="14.30" height="38.25" fill="#c4c4ff"/>
<rect x="1062.08" y="266.31" width="14.30" height="38.25" fill="#fff6f6"/>
<rect x="1076.36" y="266.31" width="14.30" height="38.25" fill="#d4d4ff"/>
<rect x="1090.65" y="266.31" width="14.30" height="38.25" fill="#8080ff"/>
<rect x="1104.93" y="266.31" width="14.30" height="38.25" fill="#ddddff"/>
<rect x="1119.21" y="266.31" width="14.30" height="38.25" fill="#ff9999"/>
<rect x="1133.49" y="266.31" width="14.30" height="38.25" fill="#8484ff"/>
<rect x="1147.78" y="266.31" width="14.30" height="38.25" fill="#f6f6ff"/>
<rect x="1162.06" y="266.31" width="14.30" height="38.25" fill="#8c8cff"/>
<rect x="1176.34" y="266.31" width="14.30" height="38.25" fill="#fff2f2"/>
<rect x="1190.62" y="266.31" width="14.30" height="38.25" fill="#ff3c3c"/>
<rect x="1204.90" y="266.31" width="14.30" height="38.25" fill="#fff6f6"/>
<rect x="1219.19" y="266.31" width="14.30" height="38.25" fill="#c4c4ff"/>
<rect x="1233.47" y="266.31" width="14.30" height="38.25" fill="#b2b2ff"/>
<rect x="1247.75" y="266.31" width="14.30" height="38.25" fill="#ffdddd"/>
<rect x="1262.03" y="266.31" width="14.30" height="38.25" fill="#9090ff"/>
<rect x="1276.32" y="266.31" width="14.30" height="38.25" fill="#ffd4d4"/>
<rect x="1290.60" y="266.31" width="14.30" height="38.25" fill="#ff7777"/>
<rect x="1304.88" y="266.31" width="14.30" height="38.25" fill="#e1e1ff"/>
<rect x="1319.16" y="266.31" width="14.30" height="38.25" fill="#ff8080"/>
<rect x="1333.44" y="266.31" width="14.30" height="38.25" fill="#ff8080"/>
<rect x="1347.73" y="266.31" width="14.30" height="38.25" fill="#9090ff"/>
<rect x="1362.01" y="266.31" width="14.30" height="38.25" fill="#ff6666"/>
<rect x="1376.29" y="266.31" width="14.30" height="38.25" fill="#d0d0ff"/>
<rect x="1390.57" y="266.31" width="14.30" height="38.25" fill="#ffbfbf"/>
<rect x="1404.86" y="266.31" width="14.30" height="38.25" fill="#ffbfbf"/>
<rect x="1419.14" y="266.31" width="14.30" height="38.25" fill="#ccccff"/>
<rect x="1433.42" y="266.31" width="14.30" height="38.25" fill="#a6a6ff"/>
<rect x="1447.70" y="266.31" width="14.30" height="38.25" fill="#d0d0ff"/>
<rect x="1461.98" y="266.31" width="14.30" height="38.25" fill="#e6e6ff"/>
<rect x="1476.27" y="266.31" width="14.30" height="38.25" fill="#f6f6ff"/>
<rect x="1490.55" y="266.31" width="14.30" height="38.25" fill="#ffb7b7"/>
<rect x="1504.83" y="266.31" width="14.30" height="38.25" fill="#bbbbff"/>
<rect x="1519.11" y="266.31" width="14.30" height="38.25" fill="#ffbfbf"/>
<rect x="1533.40" y="266.31" width="14.30" height="38.25" fill="#ff6e6e"/>
<rect x="1547.68" y="266.31" width="14.30" height="38.25" fill="#ff5959"/>
<rect x="1561.96" y="266.31" width="14.30" height="38.25" fill="#ffaeae"/>
<rect x="1576.24" y="266.31" width="14.30" height="38.25" fill="#ffaeae"/>
<rect x="1590.52" y="266.31" width="14.30" height="38.25" fill="#ff9595"/>
<rect x="1604.81" y="266.31" width="14.30" height="38.25" fill="#9999ff"/>
<rect x="1619.09" y="266.31" width="14.30" height="38.25" fill="#ff6e6e"/>
<rect x="1633.37" y="266.31" width="14.30" height="38.25" fill="#ff8888"/>
<rect x="1647.65" y="266.31" width="14.30" height="38.25" fill="#ffffff"/>
<rect x="1661.94" y="266.31" width="14.30" height="38.25" fill="#ff9090"/>
<rect x="1676.22" y="266.31" width="14.30" height="38.25" fill="#bbbbff"/>
<rect x="1047.80" y="304.54" width="14.30" height="38.25" fill="#b2b2ff"/>
<rect x="1062.08" y="304.54" width="14.30" height="38.25" fill="#aaaaff"/>
<rect x="1076.36" y="304.54" width="14.30" height="38.25" fill="#aaaaff"/>
<rect x="1090.65" y="304.54" width="14.30" height="38.25" fill="#9090ff"/>
<rect x="1104.93" y="304.54" width="14.30" height="38.25" fill="#8888ff"/>
<rect x="1119.21" y="304.54" width="14.30" height="38.25" fill="#ffbfbf"/>
<rect x="1133.49" y="304.54" width="14.30" height="38.25" fill="#6e6eff"/>
<rect x="1147.78" y="304.54" width="14.30" height="38.25" fill="#ddddff"/>
<rect x="1162.06" y="304.54" width="14.30" height="38.25" fill="#8888ff"/>
<rect x="1176.34" y="304.54" width="14.30" height="38.25" fill="#ffd9d9"/>
<rect x="1190.62" y="304.54" width="14.30" height="38.25" fill="#a2a2ff"/>
<rect x="1204.90" y="304.54" width="14.30" height="38.25" fill="#e1e1ff"/>
<rect x="1219.19" y="304.54" width="14.30" height="38.25" fill="#ff4c4c"/>
<rect x="1233.47" y="304.54" width="14.30" height="38.25" fill="#ff0000"/>
<rect x="1247.75" y="304.54" width="14.30" height="38.25" fill="#ffe6e6"/>
<rect x="1262.03" y="304.54" width="14.30" height="38.25" fill="#8c8cff"/>
<rect x="1276.32" y="304.54" width="14.30" height="38.25" fill="#ffbfbf"/>
<rect x="1290.60" y="304.54" width="14.30" height="38.25" fill="#ff8080"/>
<rect x="1304.88" y="304.54" width="14.30" height="38.25" fill="#aaaaff"/>
<rect x="1319.16" y="304.54" width="14.30" height="38.25" fill="#ffa2a2"/>
<rect x="1333.44" y="304.54" width="14.30" height="38.25" fill="#3c3cff"/>
<rect x="1347.73" y="304.54" width="14.30" height="38.25" fill="#9090ff"/>
<rect x="1362.01" y="304.54" width="14.30" height="38.25" fill="#ffa2a2"/>
<rect x="1376.29" y="304.54" width="14.30" height="38.25" fill="#ffeeee"/>
<rect x="1390.57" y="304.54" width="14.30" height="38.25" fill="#ffd0d0"/>
<rect x="1404.86" y="304.54" width="14.30" height="38.25" fill="#ffa6a6"/>
<rect x="1419.14" y="304.54" width="14.30" height="38.25" fill="#ffe1e1"/>
<rect x="1433.42" y="304.54" width="14.30" height="38.25" fill="#ffbbbb"/>
<rect x="1447.70" y="304.54" width="14.30" height="38.25" fill="#9090ff"/>
<rect x="1461.98" y="304.54" width="14.30" height="38.25" fill="#9090ff"/>
<rect x="1476.27" y="304.54" width="14.30" height="38.25" fill="#ffe6e6"/>
<rect x="1490.55" y="304.54" width="14.30" height="38.25" fill="#ff6262"/>
<rect x="1504.83" y="304.54" width="14.30" height="38.25" fill="#bbbbff"/>
<rect x="1519.11" y="304.54" width="14.30" height="38.25" fill="#e6e6ff"/>
<rect x="1533.40" y="304.54" width="14.30" height="38.25" fill="#ff8c8c"/>
<rect x="1547.68" y="304.54" width="14.30" height="38.25" fill="#ff8c8c"/>
<rect x="1561.96" y="304.54" width="14.30" height="38.25" fill="#ff9090"/>
<rect x="1576.24" y="304.54" width="14.30" height="38.25" fill="#ff6666"/>
<rect x="1590.52" y="304.54" width="14.30" height="38.25" fill="#ff8c8c"/>
<rect x="1604.81" y="304.54" width="14.30" height="38.25" fill="#9999ff"/>
<rect x="1619.09" y="304.54" width="14.30" height="38.25" fill="#ff9999"/>
<rect x="1633.37" y="304.54" width="14.30" height="38.25" fill="#ffbfbf"/>
<rect x="1647.65" y="304.54" width="14.30" height="38.25" fill="#ffffff"/>
<rect x="1661.94" y="304.54" width="14.30" height="38.25" fill="#5e5eff"/>
<rect x="1676.22" y="304.54" width="14.30" height="38.25" fill="#ffeeee"/>
<rect x="1047.80" y="342.77" width="14.30" height="38.25" fill="#7777ff"/>
<rect x="1062.08" y="342.77" width="14.30" height="38.25" fill="#ddddff"/>
<rect x="1076.36" y="342.77" width="14.30" height="38.25" fill="#aaaaff"/>
<rect x="1090.65" y="342.77" width="14.30" height="38.25" fill="#6e6eff"/>
<rect x="1104.93" y="342.77" width="14.30" height="38.25" fill="#6e6eff"/>
<rect x="1119.21" y="342.77" width="14.30" height="38.25" fill="#ffaeae"/>
<rect x="1133.49" y="342.77" width="14.30" height="38.25" fill="#8888ff"/>
<rect x="1147.78" y="342.77" width="14.30" height="38.25" fill="#9d9dff"/>
<rect x="1162.06" y="342.77" width="14.30" height="38.25" fill="#5555ff"/>
<rect x="1176.34" y="342.77" width="14.30" height="38.25" fill="#d9d9ff"/>
<rect x="1190.62" y="342.77" width="14.30" height="38.25" fill="#9090ff"/>
<rect x="1204.90" y="342.77" width="14.30" height="38.25" fill="#c4c4ff"/>
<rect x="1219.19" y="342.77" width="14.30" height="38.25" fill="#aeaeff"/>
<rect x="1233.47" y="342.77" width="14.30" height="38.25" fill="#eeeeff"/>
<rect x="1247.75" y="342.77" width="14.30" height="38.25" fill="#eeeeff"/>
<rect x="1262.03" y="342.77" width="14.30" height="38.25" fill="#8c8cff"/>
<rect x="1276.32" y="342.77" width="14.30" height="38.25" fill="#fff6f6"/>
<rect x="1290.60" y="342.77" width="14.30" height="38.25" fill="#ff7b7b"/>
<rect x="1304.88" y="342.77" width="14.30" height="38.25" fill="#a2a2ff"/>
<rect x="1319.16" y="342.77" width="14.30" height="38.25" fill="#ff6666"/>
<rect x="1333.44" y="342.77" width="14.30" height="38.25" fill="#ffe1e1"/>
<rect x="1347.73" y="342.77" width="14.30" height="38.25" fill="#9090ff"/>
<rect x="1362.01" y="342.77" width="14.30" height="38.25" fill="#ffa6a6"/>
<rect x="1376.29" y="342.77" width="14.30" height="38.25" fill="#c4c4ff"/>
<rect x="1390.57" y="342.77" width="14.30" height="38.25" fill="#fbfbff"/>
<rect x="1404.86" y="342.77" width="14.30" height="38.25" fill="#fbfbff"/>
<rect x="1419.14" y="342.77" width="14.30" height="38.25" fill="#ddddff"/>
<rect x="1433.42" y="342.77" width="14.30" height="38.25" fill="#ffffff"/>
<rect x="1447.70" y="342.77" width="14.30" height="38.25" fill="#aaaaff"/>
<rect x="1461.98" y="342.77" width="14.30" height="38.25" fill="#d0d0ff"/>
<rect x="1476.27" y="342.77" width="14.30" height="38.25" fill="#aaaaff"/>
<rect x="1490.55" y="342.77" width="14.30" height="38.25" fill="#eeeeff"/>
<rect x="1504.83" y="342.77" width="14.30" height="38.25" fill="#bbbbff"/>
<rect x="1519.11" y="342.77" width="14.30" height="38.25" fill="#ffb7b7"/>
<rect x="1533.40" y="342.77" width="14.30" height="38.25" fill="#ff7b7b"/>
<rect x="1547.68" y="342.77" width="14.30" height="38.25" fill="#ff8080"/>
<rect x="1561.96" y="342.77" width="14.30" height="38.25" fill="#ddddff"/>
<rect x="1576.24" y="342.77" width="14.30" height="38.25" fill="#fff6f6"/>
<rect x="1590.52" y="342.77" width="14.30" height="38.25" fill="#ff5959"/>
<rect x="1604.81" y="342.77" width="14.30" height="38.25" fill="#9090ff"/>
<rect x="1619.09" y="342.77" width="14.30" height="38.25" fill="#ffc8c8"/>
<rect x="1633.37" y="342.77" width="14.30" height="38.25" fill="#ff9999"/>
<rect x="1647.65" y="342.77" width="14.30" height="38.25" fill="#ff0000"/>
<rect x="1661.94" y="342.77" width="14.30" height="38.25" fill="#ffdddd"/>
<rect x="1676.22" y="342.77" width="14.30" height="38.25" fill="#c4c4ff"/>
<rect x="1028.20" y="113.40" width="6.80" height="38.25" fill="#e1e1ff"/>
<rect x="1028.20" y="151.63" width="6.80" height="38.25" fill="#fffbfb"/>
<rect x="1028.20" y="189.86" width="6.80" height="38.25" fill="#ff1919"/>
<rect x="1028.20" y="228.09" width="6.80" height="38.25" fill="#ff9090"/>
<rect x="1028.20" y="266.31" width="6.80" height="38.25" fill="#a2a2ff"/>
<rect x="1028.20" y="304.54" width="6.80" height="38.25" fill="#b2b2ff"/>
<rect x="1028.20" y="342.77" width="6.80" height="38.25" fill="#6e6eff"/>
<line x1="1019.60" y1="132.51" x2="1027.20" y2="132.51" stroke="#000" stroke-width="1.8"/>
<line x1="1019.60" y1="170.74" x2="1027.20" y2="170.74" stroke="#000" stroke-width="1.8"/>
<line x1="1019.60" y1="208.97" x2="1027.20" y2="208.97" stroke="#000" stroke-width="1.8"/>
<line x1="1019.60" y1="247.20" x2="1027.20" y2="247.20" stroke="#000" stroke-width="1.8"/>
<line x1="1019.60" y1="285.43" x2="1027.20" y2="285.43" stroke="#000" stroke-width="1.8"/>
<line x1="1019.60" y1="323.66" x2="1027.20" y2="323.66" stroke="#000" stroke-width="1.8"/>
<line x1="1019.60" y1="361.89" x2="1027.20" y2="361.89" stroke="#000" stroke-width="1.8"/>
<text x="1011.00" y="127.51" font-size="18.3" text-anchor="end" dominant-baseline="central" transform="rotate(-15 1011.00 127.51)">Early SPG</text>
<text x="1011.00" y="168.24" font-size="18.3" text-anchor="end" dominant-baseline="central" transform="rotate(-15 1011.00 168.24)">Late SPG</text>
<text x="1011.00" y="205.57" font-size="18.3" text-anchor="end" dominant-baseline="central" transform="rotate(-15 1011.00 205.57)">Early SPC</text>
<text x="1011.00" y="245.70" font-size="18.3" text-anchor="end" dominant-baseline="central" transform="rotate(-15 1011.00 245.70)">Late SPC</text>
<text x="1011.00" y="282.93" font-size="18.3" text-anchor="end" dominant-baseline="central" transform="rotate(-15 1011.00 282.93)">Early SPD</text>
<text x="1011.00" y="322.16" font-size="18.3" text-anchor="end" dominant-baseline="central" transform="rotate(-15 1011.00 322.16)">SPD</text>
<text x="1011.00" y="360.39" font-size="18.3" text-anchor="end" dominant-baseline="central" transform="rotate(-15 1011.00 360.39)">Late SPD</text>
<line x1="1031.60" y1="381.00" x2="1031.60" y2="389.00" stroke="#000" stroke-width="1.6"/>
<text x="971.00" y="19.70" font-size="28" text-anchor="start">B</text>
<text x="1011.20" y="403.40" font-size="18.3" text-anchor="start">achi</text>
<text x="1245.00" y="405.80" font-size="18.3" text-anchor="start">Achi regulated de novo gene candidates</text>
<rect x="1049.30" y="66.42" width="11.28" height="46.38" fill="#ff00ff"/>
<rect x="1063.58" y="94.98" width="11.28" height="17.82" fill="#8e72f9"/>
<rect x="1077.86" y="81.34" width="11.28" height="31.46" fill="#fa05ff"/>
<rect x="1092.15" y="64.65" width="11.28" height="48.15" fill="#ff00ff"/>
<rect x="1106.43" y="96.43" width="11.28" height="16.37" fill="#837df8"/>
<rect x="1120.71" y="68.66" width="11.28" height="44.14" fill="#ff00ff"/>
<rect x="1134.99" y="85.19" width="11.28" height="27.61" fill="#db24fd"/>
<rect x="1149.28" y="86.80" width="11.28" height="26.00" fill="#cf31fc"/>
<rect x="1163.56" y="77.97" width="11.28" height="34.83" fill="#ff00ff"/>
<rect x="1177.84" y="87.60" width="11.28" height="25.20" fill="#c837fc"/>
<rect x="1192.12" y="103.97" width="11.28" height="8.83" fill="#46b3f0"/>
<rect x="1206.40" y="94.98" width="11.28" height="17.82" fill="#8e72f9"/>
<rect x="1220.69" y="96.43" width="11.28" height="16.37" fill="#837df8"/>
<rect x="1234.97" y="90.97" width="11.28" height="21.83" fill="#ae52fb"/>
<rect x="1249.25" y="84.07" width="11.28" height="28.73" fill="#e41bfe"/>
<rect x="1263.53" y="89.53" width="11.28" height="23.27" fill="#b946fb"/>
<rect x="1277.82" y="68.82" width="11.28" height="43.98" fill="#ff00ff"/>
<rect x="1292.10" y="85.19" width="11.28" height="27.61" fill="#db24fd"/>
<rect x="1306.38" y="95.47" width="11.28" height="17.33" fill="#8a76f9"/>
<rect x="1320.66" y="85.19" width="11.28" height="27.61" fill="#db24fd"/>
<rect x="1334.94" y="111.52" width="11.28" height="1.28" fill="#33cada"/>
<rect x="1349.23" y="90.01" width="11.28" height="22.79" fill="#b54afb"/>
<rect x="1363.51" y="85.19" width="11.28" height="27.61" fill="#db24fd"/>
<rect x="1377.79" y="96.43" width="11.28" height="16.37" fill="#837df8"/>
<rect x="1392.07" y="83.43" width="11.28" height="29.37" fill="#e916fe"/>
<rect x="1406.36" y="84.71" width="11.28" height="28.09" fill="#df20fd"/>
<rect x="1420.64" y="96.43" width="11.28" height="16.37" fill="#837df8"/>
<rect x="1434.92" y="93.70" width="11.28" height="19.10" fill="#9868f9"/>
<rect x="1449.20" y="78.61" width="11.28" height="34.19" fill="#ff00ff"/>
<rect x="1463.48" y="87.60" width="11.28" height="25.20" fill="#c837fc"/>
<rect x="1477.77" y="94.98" width="11.28" height="17.82" fill="#8e72f9"/>
<rect x="1492.05" y="81.98" width="11.28" height="30.82" fill="#f50afe"/>
<rect x="1506.33" y="100.76" width="11.28" height="12.04" fill="#60a0f0"/>
<rect x="1520.61" y="85.19" width="11.28" height="27.61" fill="#db24fd"/>
<rect x="1534.90" y="91.29" width="11.28" height="21.51" fill="#ab54fa"/>
<rect x="1549.18" y="88.24" width="11.28" height="24.56" fill="#c33cfc"/>
<rect x="1563.46" y="73.16" width="11.28" height="39.64" fill="#ff00ff"/>
<rect x="1577.74" y="78.61" width="11.28" height="34.19" fill="#ff00ff"/>
<rect x="1592.02" y="93.70" width="11.28" height="19.10" fill="#9868f9"/>
<rect x="1606.31" y="69.47" width="11.28" height="43.34" fill="#ff00ff"/>
<rect x="1620.59" y="81.02" width="11.28" height="31.78" fill="#fc03ff"/>
<rect x="1634.87" y="79.74" width="11.28" height="33.06" fill="#ff00ff"/>
<rect x="1649.15" y="85.19" width="11.28" height="27.61" fill="#db24fd"/>
<rect x="1663.44" y="102.85" width="11.28" height="9.95" fill="#4facf0"/>
<rect x="1677.72" y="96.75" width="11.28" height="16.05" fill="#8080f8"/>
<line x1="1048.15" y1="91.92" x2="1690.50" y2="91.92" stroke="#0000e6" stroke-width="3.6" stroke-dasharray="12.6 5.6"/>
<rect x="1047.80" y="62.30" width="642.70" height="50.50" fill="none" stroke="#111" stroke-width="1.3"/>
<line x1="1040.50" y1="64.65" x2="1047.80" y2="64.65" stroke="#000" stroke-width="1.8"/>
<text x="1037.50" y="69.15" font-size="12.6" text-anchor="end">≥3</text>
<line x1="1040.50" y1="80.70" x2="1047.80" y2="80.70" stroke="#000" stroke-width="1.8"/>
<text x="1037.50" y="85.20" font-size="12.6" text-anchor="end">2</text>
<line x1="1040.50" y1="96.75" x2="1047.80" y2="96.75" stroke="#000" stroke-width="1.8"/>
<text x="1037.50" y="101.25" font-size="12.6" text-anchor="end">1</text>
<text x="1017.50" y="76.30" font-size="16" text-anchor="end">-log(P)</text>
<text x="1702.90" y="129.60" font-size="13.4" text-anchor="start">Scaled</text>
<text x="1702.90" y="143.30" font-size="13.4" text-anchor="start">expression</text>
<defs><linearGradient id="g155" x1="0" y1="0" x2="0" y2="1"><stop offset="0" stop-color="#ff1010"/><stop offset="0.5" stop-color="#ffffff"/><stop offset="1" stop-color="#1010ff"/></linearGradient><linearGradient id="g155b" x1="0" y1="0" x2="0" y2="1"><stop offset="0" stop-color="#500000"/><stop offset="0.5" stop-color="#111111"/><stop offset="1" stop-color="#000060"/></linearGradient></defs>
<rect x="1706.30" y="155.30" width="11.30" height="63.00" fill="url(#g155b)"/>
<rect x="1707.70" y="156.70" width="8.50" height="60.20" fill="url(#g155)"/>
<line x1="1716.90" y1="155.30" x2="1716.90" y2="218.30" stroke="#000" stroke-width="1.5"/>
<line x1="1716.90" y1="157.30" x2="1724.90" y2="157.30" stroke="#000" stroke-width="1.5"/>
<text x="1733.10" y="162.10" font-size="13.4" text-anchor="start">3</text>
<line x1="1716.90" y1="186.80" x2="1724.90" y2="186.80" stroke="#000" stroke-width="1.5"/>
<text x="1733.10" y="191.60" font-size="13.4" text-anchor="start">0</text>
<line x1="1716.90" y1="216.30" x2="1724.90" y2="216.30" stroke="#000" stroke-width="1.5"/>
<text x="1733.10" y="221.10" font-size="13.4" text-anchor="start">-3</text>
<rect x="1046.80" y="765.60" width="9.76" height="38.15" fill="#8080ff"/>
<rect x="1056.54" y="765.60" width="9.76" height="38.15" fill="#8080ff"/>
<rect x="1066.28" y="765.60" width="9.76" height="38.15" fill="#6e6eff"/>
<rect x="1076.02" y="765.60" width="9.76" height="38.15" fill="#3c3cff"/>
<rect x="1085.76" y="765.60" width="9.76" height="38.15" fill="#6666ff"/>
<rect x="1095.50" y="765.60" width="9.76" height="38.15" fill="#6e6eff"/>
<rect x="1105.24" y="765.60" width="9.76" height="38.15" fill="#4c4cff"/>
<rect x="1114.98" y="765.60" width="9.76" height="38.15" fill="#6262ff"/>
<rect x="1124.72" y="765.60" width="9.76" height="38.15" fill="#5959ff"/>
<rect x="1134.45" y="765.60" width="9.76" height="38.15" fill="#7b7bff"/>
<rect x="1144.19" y="765.60" width="9.76" height="38.15" fill="#9090ff"/>
<rect x="1153.93" y="765.60" width="9.76" height="38.15" fill="#7777ff"/>
<rect x="1163.67" y="765.60" width="9.76" height="38.15" fill="#6262ff"/>
<rect x="1173.41" y="765.60" width="9.76" height="38.15" fill="#5959ff"/>
<rect x="1183.15" y="765.60" width="9.76" height="38.15" fill="#7777ff"/>
<rect x="1192.89" y="765.60" width="9.76" height="38.15" fill="#6a6aff"/>
<rect x="1202.63" y="765.60" width="9.76" height="38.15" fill="#7777ff"/>
<rect x="1212.37" y="765.60" width="9.76" height="38.15" fill="#6e6eff"/>
<rect x="1222.11" y="765.60" width="9.76" height="38.15" fill="#7777ff"/>
<rect x="1231.85" y="765.60" width="9.76" height="38.15" fill="#8080ff"/>
<rect x="1241.59" y="765.60" width="9.76" height="38.15" fill="#6e6eff"/>
<rect x="1251.33" y="765.60" width="9.76" height="38.15" fill="#6e6eff"/>
<rect x="1261.07" y="765.60" width="9.76" height="38.15" fill="#6e6eff"/>
<rect x="1270.81" y="765.60" width="9.76" height="38.15" fill="#6e6eff"/>
<rect x="1280.55" y="765.60" width="9.76" height="38.15" fill="#5555ff"/>
<rect x="1290.28" y="765.60" width="9.76" height="38.15" fill="#6a6aff"/>
<rect x="1300.02" y="765.60" width="9.76" height="38.15" fill="#6a6aff"/>
<rect x="1309.76" y="765.60" width="9.76" height="38.15" fill="#5e5eff"/>
<rect x="1319.50" y="765.60" width="9.76" height="38.15" fill="#8888ff"/>
<rect x="1329.24" y="765.60" width="9.76" height="38.15" fill="#ff1111"/>
<rect x="1338.98" y="765.60" width="9.76" height="38.15" fill="#8080ff"/>
<rect x="1348.72" y="765.60" width="9.76" height="38.15" fill="#6a6aff"/>
<rect x="1358.46" y="765.60" width="9.76" height="38.15" fill="#6e6eff"/>
<rect x="1368.20" y="765.60" width="9.76" height="38.15" fill="#6e6eff"/>
<rect x="1377.94" y="765.60" width="9.76" height="38.15" fill="#6e6eff"/>
<rect x="1387.68" y="765.60" width="9.76" height="38.15" fill="#8888ff"/>
<rect x="1397.42" y="765.60" width="9.76" height="38.15" fill="#7777ff"/>
<rect x="1407.16" y="765.60" width="9.76" height="38.15" fill="#5959ff"/>
<rect x="1416.90" y="765.60" width="9.76" height="38.15" fill="#6262ff"/>
<rect x="1426.64" y="765.60" width="9.76" height="38.15" fill="#6e6eff"/>
<rect x="1436.38" y="765.60" width="9.76" height="38.15" fill="#bbbbff"/>
<rect x="1446.12" y="765.60" width="9.76" height="38.15" fill="#6e6eff"/>
<rect x="1455.85" y="765.60" width="9.76" height="38.15" fill="#5555ff"/>
<rect x="1465.59" y="765.60" width="9.76" height="38.15" fill="#5959ff"/>
<rect x="1475.33" y="765.60" width="9.76" height="38.15" fill="#ff3c3c"/>
<rect x="1485.07" y="765.60" width="9.76" height="38.15" fill="#ff2a2a"/>
<rect x="1494.81" y="765.60" width="9.76" height="38.15" fill="#aaaaff"/>
<rect x="1504.55" y="765.60" width="9.76" height="38.15" fill="#8888ff"/>
<rect x="1514.29" y="765.60" width="9.76" height="38.15" fill="#4c4cff"/>
<rect x="1524.03" y="765.60" width="9.76" height="38.15" fill="#9999ff"/>
<rect x="1533.77" y="765.60" width="9.76" height="38.15" fill="#b2b2ff"/>
<rect x="1543.51" y="765.60" width="9.76" height="38.15" fill="#ff2f2f"/>
<rect x="1553.25" y="765.60" width="9.76" height="38.15" fill="#6262ff"/>
<rect x="1562.99" y="765.60" width="9.76" height="38.15" fill="#9090ff"/>
<rect x="1572.73" y="765.60" width="9.76" height="38.15" fill="#6a6aff"/>
<rect x="1582.47" y="765.60" width="9.76" height="38.15" fill="#7777ff"/>
<rect x="1592.21" y="765.60" width="9.76" height="38.15" fill="#6262ff"/>
<rect x="1601.95" y="765.60" width="9.76" height="38.15" fill="#8c8cff"/>
<rect x="1611.68" y="765.60" width="9.76" height="38.15" fill="#a2a2ff"/>
<rect x="1621.42" y="765.60" width="9.76" height="38.15" fill="#6a6aff"/>
<rect x="1631.16" y="765.60" width="9.76" height="38.15" fill="#7777ff"/>
<rect x="1640.90" y="765.60" width="9.76" height="38.15" fill="#6a6aff"/>
<rect x="1650.64" y="765.60" width="9.76" height="38.15" fill="#aaaaff"/>
<rect x="1660.38" y="765.60" width="9.76" height="38.15" fill="#8888ff"/>
<rect x="1670.12" y="765.60" width="9.76" height="38.15" fill="#8888ff"/>
<rect x="1679.86" y="765.60" width="9.76" height="38.15" fill="#8888ff"/>
<rect x="1046.80" y="803.73" width="9.76" height="38.15" fill="#aaaaff"/>
<rect x="1056.54" y="803.73" width="9.76" height="38.15" fill="#aaaaff"/>
<rect x="1066.28" y="803.73" width="9.76" height="38.15" fill="#9999ff"/>
<rect x="1076.02" y="803.73" width="9.76" height="38.15" fill="#8c8cff"/>
<rect x="1085.76" y="803.73" width="9.76" height="38.15" fill="#6262ff"/>
<rect x="1095.50" y="803.73" width="9.76" height="38.15" fill="#7b7bff"/>
<rect x="1105.24" y="803.73" width="9.76" height="38.15" fill="#8c8cff"/>
<rect x="1114.98" y="803.73" width="9.76" height="38.15" fill="#8080ff"/>
<rect x="1124.72" y="803.73" width="9.76" height="38.15" fill="#6a6aff"/>
<rect x="1134.45" y="803.73" width="9.76" height="38.15" fill="#8080ff"/>
<rect x="1144.19" y="803.73" width="9.76" height="38.15" fill="#8c8cff"/>
<rect x="1153.93" y="803.73" width="9.76" height="38.15" fill="#a2a2ff"/>
<rect x="1163.67" y="803.73" width="9.76" height="38.15" fill="#6262ff"/>
<rect x="1173.41" y="803.73" width="9.76" height="38.15" fill="#6a6aff"/>
<rect x="1183.15" y="803.73" width="9.76" height="38.15" fill="#6a6aff"/>
<rect x="1192.89" y="803.73" width="9.76" height="38.15" fill="#5e5eff"/>
<rect x="1202.63" y="803.73" width="9.76" height="38.15" fill="#a2a2ff"/>
<rect x="1212.37" y="803.73" width="9.76" height="38.15" fill="#ff8080"/>
<rect x="1222.11" y="803.73" width="9.76" height="38.15" fill="#9999ff"/>
<rect x="1231.85" y="803.73" width="9.76" height="38.15" fill="#8888ff"/>
<rect x="1241.59" y="803.73" width="9.76" height="38.15" fill="#8080ff"/>
<rect x="1251.33" y="803.73" width="9.76" height="38.15" fill="#6e6eff"/>
<rect x="1261.07" y="803.73" width="9.76" height="38.15" fill="#8080ff"/>
<rect x="1270.81" y="803.73" width="9.76" height="38.15" fill="#8080ff"/>
<rect x="1280.55" y="803.73" width="9.76" height="38.15" fill="#7777ff"/>
<rect x="1290.28" y="803.73" width="9.76" height="38.15" fill="#5e5eff"/>
<rect x="1300.02" y="803.73" width="9.76" height="38.15" fill="#b2b2ff"/>
<rect x="1309.76" y="803.73" width="9.76" height="38.15" fill="#ffffff"/>
<rect x="1319.50" y="803.73" width="9.76" height="38.15" fill="#9090ff"/>
<rect x="1329.24" y="803.73" width="9.76" height="38.15" fill="#ffe6e6"/>
<rect x="1338.98" y="803.73" width="9.76" height="38.15" fill="#8888ff"/>
<rect x="1348.72" y="803.73" width="9.76" height="38.15" fill="#6a6aff"/>
<rect x="1358.46" y="803.73" width="9.76" height="38.15" fill="#9090ff"/>
<rect x="1368.20" y="803.73" width="9.76" height="38.15" fill="#9090ff"/>
<rect x="1377.94" y="803.73" width="9.76" height="38.15" fill="#8c8cff"/>
<rect x="1387.68" y="803.73" width="9.76" height="38.15" fill="#9090ff"/>
<rect x="1397.42" y="803.73" width="9.76" height="38.15" fill="#8888ff"/>
<rect x="1407.16" y="803.73" width="9.76" height="38.15" fill="#8080ff"/>
<rect x="1416.90" y="803.73" width="9.76" height="38.15" fill="#b2b2ff"/>
<rect x="1426.64" y="803.73" width="9.76" height="38.15" fill="#6e6eff"/>
<rect x="1436.38" y="803.73" width="9.76" height="38.15" fill="#b2b2ff"/>
<rect x="1446.12" y="803.73" width="9.76" height="38.15" fill="#7b7bff"/>
<rect x="1455.85" y="803.73" width="9.76" height="38.15" fill="#8888ff"/>
<rect x="1465.59" y="803.73" width="9.76" height="38.15" fill="#6e6eff"/>
<rect x="1475.33" y="803.73" width="9.76" height="38.15" fill="#4c4cff"/>
<rect x="1485.07" y="803.73" width="9.76" height="38.15" fill="#ff6666"/>
<rect x="1494.81" y="803.73" width="9.76" height="38.15" fill="#aaaaff"/>
<rect x="1504.55" y="803.73" width="9.76" height="38.15" fill="#9090ff"/>
<rect x="1514.29" y="803.73" width="9.76" height="38.15" fill="#8080ff"/>
<rect x="1524.03" y="803.73" width="9.76" height="38.15" fill="#9999ff"/>
<rect x="1533.77" y="803.73" width="9.76" height="38.15" fill="#a2a2ff"/>
<rect x="1543.51" y="803.73" width="9.76" height="38.15" fill="#ff6a6a"/>
<rect x="1553.25" y="803.73" width="9.76" height="38.15" fill="#6a6aff"/>
<rect x="1562.99" y="803.73" width="9.76" height="38.15" fill="#9090ff"/>
<rect x="1572.73" y="803.73" width="9.76" height="38.15" fill="#8888ff"/>
<rect x="1582.47" y="803.73" width="9.76" height="38.15" fill="#8080ff"/>
<rect x="1592.21" y="803.73" width="9.76" height="38.15" fill="#7b7bff"/>
<rect x="1601.95" y="803.73" width="9.76" height="38.15" fill="#8080ff"/>
<rect x="1611.68" y="803.73" width="9.76" height="38.15" fill="#9999ff"/>
<rect x="1621.42" y="803.73" width="9.76" height="38.15" fill="#8c8cff"/>
<rect x="1631.16" y="803.73" width="9.76" height="38.15" fill="#aaaaff"/>
<rect x="1640.90" y="803.73" width="9.76" height="38.15" fill="#4444ff"/>
<rect x="1650.64" y="803.73" width="9.76" height="38.15" fill="#8080ff"/>
<rect x="1660.38" y="803.73" width="9.76" height="38.15" fill="#b2b2ff"/>
<rect x="1670.12" y="803.73" width="9.76" height="38.15" fill="#8080ff"/>
<rect x="1679.86" y="803.73" width="9.76" height="38.15" fill="#6e6eff"/>
<rect x="1046.80" y="841.86" width="9.76" height="38.15" fill="#5959ff"/>
<rect x="1056.54" y="841.86" width="9.76" height="38.15" fill="#5959ff"/>
<rect x="1066.28" y="841.86" width="9.76" height="38.15" fill="#6a6aff"/>
<rect x="1076.02" y="841.86" width="9.76" height="38.15" fill="#9999ff"/>
<rect x="1085.76" y="841.86" width="9.76" height="38.15" fill="#9999ff"/>
<rect x="1095.50" y="841.86" width="9.76" height="38.15" fill="#6a6aff"/>
<rect x="1105.24" y="841.86" width="9.76" height="38.15" fill="#8080ff"/>
<rect x="1114.98" y="841.86" width="9.76" height="38.15" fill="#5959ff"/>
<rect x="1124.72" y="841.86" width="9.76" height="38.15" fill="#9090ff"/>
<rect x="1134.45" y="841.86" width="9.76" height="38.15" fill="#fff6f6"/>
<rect x="1144.19" y="841.86" width="9.76" height="38.15" fill="#6e6eff"/>
<rect x="1153.93" y="841.86" width="9.76" height="38.15" fill="#6262ff"/>
<rect x="1163.67" y="841.86" width="9.76" height="38.15" fill="#9090ff"/>
<rect x="1173.41" y="841.86" width="9.76" height="38.15" fill="#8888ff"/>
<rect x="1183.15" y="841.86" width="9.76" height="38.15" fill="#6e6eff"/>
<rect x="1192.89" y="841.86" width="9.76" height="38.15" fill="#6e6eff"/>
<rect x="1202.63" y="841.86" width="9.76" height="38.15" fill="#5959ff"/>
<rect x="1212.37" y="841.86" width="9.76" height="38.15" fill="#aaaaff"/>
<rect x="1222.11" y="841.86" width="9.76" height="38.15" fill="#6262ff"/>
<rect x="1231.85" y="841.86" width="9.76" height="38.15" fill="#6e6eff"/>
<rect x="1241.59" y="841.86" width="9.76" height="38.15" fill="#6262ff"/>
<rect x="1251.33" y="841.86" width="9.76" height="38.15" fill="#6e6eff"/>
<rect x="1261.07" y="841.86" width="9.76" height="38.15" fill="#5959ff"/>
<rect x="1270.81" y="841.86" width="9.76" height="38.15" fill="#5959ff"/>
<rect x="1280.55" y="841.86" width="9.76" height="38.15" fill="#6a6aff"/>
<rect x="1290.28" y="841.86" width="9.76" height="38.15" fill="#6e6eff"/>
<rect x="1300.02" y="841.86" width="9.76" height="38.15" fill="#6262ff"/>
<rect x="1309.76" y="841.86" width="9.76" height="38.15" fill="#a2a2ff"/>
<rect x="1319.50" y="841.86" width="9.76" height="38.15" fill="#7777ff"/>
<rect x="1329.24" y="841.86" width="9.76" height="38.15" fill="#4c4cff"/>
<rect x="1338.98" y="841.86" width="9.76" height="38.15" fill="#ccccff"/>
<rect x="1348.72" y="841.86" width="9.76" height="38.15" fill="#6a6aff"/>
<rect x="1358.46" y="841.86" width="9.76" height="38.15" fill="#5e5eff"/>
<rect x="1368.20" y="841.86" width="9.76" height="38.15" fill="#6a6aff"/>
<rect x="1377.94" y="841.86" width="9.76" height="38.15" fill="#6a6aff"/>
<rect x="1387.68" y="841.86" width="9.76" height="38.15" fill="#8080ff"/>
<rect x="1397.42" y="841.86" width="9.76" height="38.15" fill="#8080ff"/>
<rect x="1407.16" y="841.86" width="9.76" height="38.15" fill="#6e6eff"/>
<rect x="1416.90" y="841.86" width="9.76" height="38.15" fill="#4c4cff"/>
<rect x="1426.64" y="841.86" width="9.76" height="38.15" fill="#7777ff"/>
<rect x="1436.38" y="841.86" width="9.76" height="38.15" fill="#ffe1e1"/>
<rect x="1446.12" y="841.86" width="9.76" height="38.15" fill="#6262ff"/>
<rect x="1455.85" y="841.86" width="9.76" height="38.15" fill="#8080ff"/>
<rect x="1465.59" y="841.86" width="9.76" height="38.15" fill="#8080ff"/>
<rect x="1475.33" y="841.86" width="9.76" height="38.15" fill="#b2b2ff"/>
<rect x="1485.07" y="841.86" width="9.76" height="38.15" fill="#9999ff"/>
<rect x="1494.81" y="841.86" width="9.76" height="38.15" fill="#ffeeee"/>
<rect x="1504.55" y="841.86" width="9.76" height="38.15" fill="#9999ff"/>
<rect x="1514.29" y="841.86" width="9.76" height="38.15" fill="#7777ff"/>
<rect x="1524.03" y="841.86" width="9.76" height="38.15" fill="#9090ff"/>
<rect x="1533.77" y="841.86" width="9.76" height="38.15" fill="#aaaaff"/>
<rect x="1543.51" y="841.86" width="9.76" height="38.15" fill="#ffd0d0"/>
<rect x="1553.25" y="841.86" width="9.76" height="38.15" fill="#ffe1e1"/>
<rect x="1562.99" y="841.86" width="9.76" height="38.15" fill="#9090ff"/>
<rect x="1572.73" y="841.86" width="9.76" height="38.15" fill="#6a6aff"/>
<rect x="1582.47" y="841.86" width="9.76" height="38.15" fill="#5959ff"/>
<rect x="1592.21" y="841.86" width="9.76" height="38.15" fill="#8080ff"/>
<rect x="1601.95" y="841.86" width="9.76" height="38.15" fill="#a2a2ff"/>
<rect x="1611.68" y="841.86" width="9.76" height="38.15" fill="#a2a2ff"/>
<rect x="1621.42" y="841.86" width="9.76" height="38.15" fill="#6a6aff"/>
<rect x="1631.16" y="841.86" width="9.76" height="38.15" fill="#6262ff"/>
<rect x="1640.90" y="841.86" width="9.76" height="38.15" fill="#ffaeae"/>
<rect x="1650.64" y="841.86" width="9.76" height="38.15" fill="#eeeeff"/>
<rect x="1660.38" y="841.86" width="9.76" height="38.15" fill="#5555ff"/>
<rect x="1670.12" y="841.86" width="9.76" height="38.15" fill="#4c4cff"/>
<rect x="1679.86" y="841.86" width="9.76" height="38.15" fill="#6e6eff"/>
<rect x="1046.80" y="879.99" width="9.76" height="38.15" fill="#c4c4ff"/>
<rect x="1056.54" y="879.99" width="9.76" height="38.15" fill="#c4c4ff"/>
<rect x="1066.28" y="879.99" width="9.76" height="38.15" fill="#e6e6ff"/>
<rect x="1076.02" y="879.99" width="9.76" height="38.15" fill="#ffe1e1"/>
<rect x="1085.76" y="879.99" width="9.76" height="38.15" fill="#ff6666"/>
<rect x="1095.50" y="879.99" width="9.76" height="38.15" fill="#ffa6a6"/>
<rect x="1105.24" y="879.99" width="9.76" height="38.15" fill="#ffc8c8"/>
<rect x="1114.98" y="879.99" width="9.76" height="38.15" fill="#ff7777"/>
<rect x="1124.72" y="879.99" width="9.76" height="38.15" fill="#ffaaaa"/>
<rect x="1134.45" y="879.99" width="9.76" height="38.15" fill="#ff6e6e"/>
<rect x="1144.19" y="879.99" width="9.76" height="38.15" fill="#e6e6ff"/>
<rect x="1153.93" y="879.99" width="9.76" height="38.15" fill="#d0d0ff"/>
<rect x="1163.67" y="879.99" width="9.76" height="38.15" fill="#fffbfb"/>
<rect x="1173.41" y="879.99" width="9.76" height="38.15" fill="#ffe6e6"/>
<rect x="1183.15" y="879.99" width="9.76" height="38.15" fill="#ffffff"/>
<rect x="1192.89" y="879.99" width="9.76" height="38.15" fill="#ffa6a6"/>
<rect x="1202.63" y="879.99" width="9.76" height="38.15" fill="#eeeeff"/>
<rect x="1212.37" y="879.99" width="9.76" height="38.15" fill="#ff8080"/>
<rect x="1222.11" y="879.99" width="9.76" height="38.15" fill="#f2f2ff"/>
<rect x="1231.85" y="879.99" width="9.76" height="38.15" fill="#ffffff"/>
<rect x="1241.59" y="879.99" width="9.76" height="38.15" fill="#e6e6ff"/>
<rect x="1251.33" y="879.99" width="9.76" height="38.15" fill="#eeeeff"/>
<rect x="1261.07" y="879.99" width="9.76" height="38.15" fill="#f6f6ff"/>
<rect x="1270.81" y="879.99" width="9.76" height="38.15" fill="#fbfbff"/>
<rect x="1280.55" y="879.99" width="9.76" height="38.15" fill="#ffb7b7"/>
<rect x="1290.28" y="879.99" width="9.76" height="38.15" fill="#ff9595"/>
<rect x="1300.02" y="879.99" width="9.76" height="38.15" fill="#e6e6ff"/>
<rect x="1309.76" y="879.99" width="9.76" height="38.15" fill="#aaaaff"/>
<rect x="1319.50" y="879.99" width="9.76" height="38.15" fill="#e6e6ff"/>
<rect x="1329.24" y="879.99" width="9.76" height="38.15" fill="#9090ff"/>
<rect x="1338.98" y="879.99" width="9.76" height="38.15" fill="#ffc8c8"/>
<rect x="1348.72" y="879.99" width="9.76" height="38.15" fill="#ffe6e6"/>
<rect x="1358.46" y="879.99" width="9.76" height="38.15" fill="#fffbfb"/>
<rect x="1368.20" y="879.99" width="9.76" height="38.15" fill="#fffbfb"/>
<rect x="1377.94" y="879.99" width="9.76" height="38.15" fill="#ffeaea"/>
<rect x="1387.68" y="879.99" width="9.76" height="38.15" fill="#e6e6ff"/>
<rect x="1397.42" y="879.99" width="9.76" height="38.15" fill="#fff2f2"/>
<rect x="1407.16" y="879.99" width="9.76" height="38.15" fill="#ffe6e6"/>
<rect x="1416.90" y="879.99" width="9.76" height="38.15" fill="#eeeeff"/>
<rect x="1426.64" y="879.99" width="9.76" height="38.15" fill="#ffb2b2"/>
<rect x="1436.38" y="879.99" width="9.76" height="38.15" fill="#ff0000"/>
<rect x="1446.12" y="879.99" width="9.76" height="38.15" fill="#ffdddd"/>
<rect x="1455.85" y="879.99" width="9.76" height="38.15" fill="#fff2f2"/>
<rect x="1465.59" y="879.99" width="9.76" height="38.15" fill="#ff9999"/>
<rect x="1475.33" y="879.99" width="9.76" height="38.15" fill="#ffffff"/>
<rect x="1485.07" y="879.99" width="9.76" height="38.15" fill="#9090ff"/>
<rect x="1494.81" y="879.99" width="9.76" height="38.15" fill="#ffffff"/>
<rect x="1504.55" y="879.99" width="9.76" height="38.15" fill="#ffffff"/>
<rect x="1514.29" y="879.99" width="9.76" height="38.15" fill="#ff9d9d"/>
<rect x="1524.03" y="879.99" width="9.76" height="38.15" fill="#e6e6ff"/>
<rect x="1533.77" y="879.99" width="9.76" height="38.15" fill="#ff0000"/>
<rect x="1543.51" y="879.99" width="9.76" height="38.15" fill="#aaaaff"/>
<rect x="1553.25" y="879.99" width="9.76" height="38.15" fill="#ff5e5e"/>
<rect x="1562.99" y="879.99" width="9.76" height="38.15" fill="#e6e6ff"/>
<rect x="1572.73" y="879.99" width="9.76" height="38.15" fill="#fff6f6"/>
<rect x="1582.47" y="879.99" width="9.76" height="38.15" fill="#fff6f6"/>
<rect x="1592.21" y="879.99" width="9.76" height="38.15" fill="#ffe6e6"/>
<rect x="1601.95" y="879.99" width="9.76" height="38.15" fill="#ff0808"/>
<rect x="1611.68" y="879.99" width="9.76" height="38.15" fill="#e6e6ff"/>
<rect x="1621.42" y="879.99" width="9.76" height="38.15" fill="#fff2f2"/>
<rect x="1631.16" y="879.99" width="9.76" height="38.15" fill="#d0d0ff"/>
<rect x="1640.90" y="879.99" width="9.76" height="38.15" fill="#ff8c8c"/>
<rect x="1650.64" y="879.99" width="9.76" height="38.15" fill="#ff0000"/>
<rect x="1660.38" y="879.99" width="9.76" height="38.15" fill="#d4d4ff"/>
<rect x="1670.12" y="879.99" width="9.76" height="38.15" fill="#ff9090"/>
<rect x="1679.86" y="879.99" width="9.76" height="38.15" fill="#ff1919"/>
<rect x="1046.80" y="918.11" width="9.76" height="38.15" fill="#ff7777"/>
<rect x="1056.54" y="918.11" width="9.76" height="38.15" fill="#ff7777"/>
<rect x="1066.28" y="918.11" width="9.76" height="38.15" fill="#ff8080"/>
<rect x="1076.02" y="918.11" width="9.76" height="38.15" fill="#ff8484"/>
<rect x="1085.76" y="918.11" width="9.76" height="38.15" fill="#ffbfbf"/>
<rect x="1095.50" y="918.11" width="9.76" height="38.15" fill="#ff5959"/>
<rect x="1105.24" y="918.11" width="9.76" height="38.15" fill="#ff8888"/>
<rect x="1114.98" y="918.11" width="9.76" height="38.15" fill="#ffaaaa"/>
<rect x="1124.72" y="918.11" width="9.76" height="38.15" fill="#ff5e5e"/>
<rect x="1134.45" y="918.11" width="9.76" height="38.15" fill="#ff6e6e"/>
<rect x="1144.19" y="918.11" width="9.76" height="38.15" fill="#fff2f2"/>
<rect x="1153.93" y="918.11" width="9.76" height="38.15" fill="#ff6e6e"/>
<rect x="1163.67" y="918.11" width="9.76" height="38.15" fill="#ff6e6e"/>
<rect x="1173.41" y="918.11" width="9.76" height="38.15" fill="#ff6a6a"/>
<rect x="1183.15" y="918.11" width="9.76" height="38.15" fill="#ff6a6a"/>
<rect x="1192.89" y="918.11" width="9.76" height="38.15" fill="#ff7373"/>
<rect x="1202.63" y="918.11" width="9.76" height="38.15" fill="#ff7373"/>
<rect x="1212.37" y="918.11" width="9.76" height="38.15" fill="#ff7777"/>
<rect x="1222.11" y="918.11" width="9.76" height="38.15" fill="#ff7777"/>
<rect x="1231.85" y="918.11" width="9.76" height="38.15" fill="#ff5959"/>
<rect x="1241.59" y="918.11" width="9.76" height="38.15" fill="#ff7777"/>
<rect x="1251.33" y="918.11" width="9.76" height="38.15" fill="#ff8080"/>
<rect x="1261.07" y="918.11" width="9.76" height="38.15" fill="#ff8c8c"/>
<rect x="1270.81" y="918.11" width="9.76" height="38.15" fill="#ff9d9d"/>
<rect x="1280.55" y="918.11" width="9.76" height="38.15" fill="#ff8888"/>
<rect x="1290.28" y="918.11" width="9.76" height="38.15" fill="#ff8080"/>
<rect x="1300.02" y="918.11" width="9.76" height="38.15" fill="#ff8080"/>
<rect x="1309.76" y="918.11" width="9.76" height="38.15" fill="#ddddff"/>
<rect x="1319.50" y="918.11" width="9.76" height="38.15" fill="#ffe1e1"/>
<rect x="1329.24" y="918.11" width="9.76" height="38.15" fill="#ffdddd"/>
<rect x="1338.98" y="918.11" width="9.76" height="38.15" fill="#ff0808"/>
<rect x="1348.72" y="918.11" width="9.76" height="38.15" fill="#ff6e6e"/>
<rect x="1358.46" y="918.11" width="9.76" height="38.15" fill="#ff6666"/>
<rect x="1368.20" y="918.11" width="9.76" height="38.15" fill="#ff6666"/>
<rect x="1377.94" y="918.11" width="9.76" height="38.15" fill="#ff6262"/>
<rect x="1387.68" y="918.11" width="9.76" height="38.15" fill="#fff2f2"/>
<rect x="1397.42" y="918.11" width="9.76" height="38.15" fill="#fff2f2"/>
<rect x="1407.16" y="918.11" width="9.76" height="38.15" fill="#ff7b7b"/>
<rect x="1416.90" y="918.11" width="9.76" height="38.15" fill="#ff7b7b"/>
<rect x="1426.64" y="918.11" width="9.76" height="38.15" fill="#ff9999"/>
<rect x="1436.38" y="918.11" width="9.76" height="38.15" fill="#c4c4ff"/>
<rect x="1446.12" y="918.11" width="9.76" height="38.15" fill="#ff6e6e"/>
<rect x="1455.85" y="918.11" width="9.76" height="38.15" fill="#ff5151"/>
<rect x="1465.59" y="918.11" width="9.76" height="38.15" fill="#ff6a6a"/>
<rect x="1475.33" y="918.11" width="9.76" height="38.15" fill="#ff6e6e"/>
<rect x="1485.07" y="918.11" width="9.76" height="38.15" fill="#b2b2ff"/>
<rect x="1494.81" y="918.11" width="9.76" height="38.15" fill="#ff0000"/>
<rect x="1504.55" y="918.11" width="9.76" height="38.15" fill="#ffe1e1"/>
<rect x="1514.29" y="918.11" width="9.76" height="38.15" fill="#ff6e6e"/>
<rect x="1524.03" y="918.11" width="9.76" height="38.15" fill="#e6e6ff"/>
<rect x="1533.77" y="918.11" width="9.76" height="38.15" fill="#e1e1ff"/>
<rect x="1543.51" y="918.11" width="9.76" height="38.15" fill="#b2b2ff"/>
<rect x="1553.25" y="918.11" width="9.76" height="38.15" fill="#ff9090"/>
<rect x="1562.99" y="918.11" width="9.76" height="38.15" fill="#ffffff"/>
<rect x="1572.73" y="918.11" width="9.76" height="38.15" fill="#ff8080"/>
<rect x="1582.47" y="918.11" width="9.76" height="38.15" fill="#ff8080"/>
<rect x="1592.21" y="918.11" width="9.76" height="38.15" fill="#ff6666"/>
<rect x="1601.95" y="918.11" width="9.76" height="38.15" fill="#ffd0d0"/>
<rect x="1611.68" y="918.11" width="9.76" height="38.15" fill="#e6e6ff"/>
<rect x="1621.42" y="918.11" width="9.76" height="38.15" fill="#ff8080"/>
<rect x="1631.16" y="918.11" width="9.76" height="38.15" fill="#ff8080"/>
<rect x="1640.90" y="918.11" width="9.76" height="38.15" fill="#ffffff"/>
<rect x="1650.64" y="918.11" width="9.76" height="38.15" fill="#ccccff"/>
<rect x="1660.38" y="918.11" width="9.76" height="38.15" fill="#ff6e6e"/>
<rect x="1670.12" y="918.11" width="9.76" height="38.15" fill="#ff6e6e"/>
<rect x="1679.86" y="918.11" width="9.76" height="38.15" fill="#ffb7b7"/>
<rect x="1046.80" y="956.24" width="9.76" height="38.15" fill="#ff6262"/>
<rect x="1056.54" y="956.24" width="9.76" height="38.15" fill="#ff6262"/>
<rect x="1066.28" y="956.24" width="9.76" height="38.15" fill="#ff9999"/>
<rect x="1076.02" y="956.24" width="9.76" height="38.15" fill="#ff9d9d"/>
<rect x="1085.76" y="956.24" width="9.76" height="38.15" fill="#ff7777"/>
<rect x="1095.50" y="956.24" width="9.76" height="38.15" fill="#ff9999"/>
<rect x="1105.24" y="956.24" width="9.76" height="38.15" fill="#ff7777"/>
<rect x="1114.98" y="956.24" width="9.76" height="38.15" fill="#ff8080"/>
<rect x="1124.72" y="956.24" width="9.76" height="38.15" fill="#ff8080"/>
<rect x="1134.45" y="956.24" width="9.76" height="38.15" fill="#8080ff"/>
<rect x="1144.19" y="956.24" width="9.76" height="38.15" fill="#ff9090"/>
<rect x="1153.93" y="956.24" width="9.76" height="38.15" fill="#ff7b7b"/>
<rect x="1163.67" y="956.24" width="9.76" height="38.15" fill="#ff8c8c"/>
<rect x="1173.41" y="956.24" width="9.76" height="38.15" fill="#ff9999"/>
<rect x="1183.15" y="956.24" width="9.76" height="38.15" fill="#ffb2b2"/>
<rect x="1192.89" y="956.24" width="9.76" height="38.15" fill="#ffa2a2"/>
<rect x="1202.63" y="956.24" width="9.76" height="38.15" fill="#ff7777"/>
<rect x="1212.37" y="956.24" width="9.76" height="38.15" fill="#4444ff"/>
<rect x="1222.11" y="956.24" width="9.76" height="38.15" fill="#ff8484"/>
<rect x="1231.85" y="956.24" width="9.76" height="38.15" fill="#ff8484"/>
<rect x="1241.59" y="956.24" width="9.76" height="38.15" fill="#ff6666"/>
<rect x="1251.33" y="956.24" width="9.76" height="38.15" fill="#ff7373"/>
<rect x="1261.07" y="956.24" width="9.76" height="38.15" fill="#ff8080"/>
<rect x="1270.81" y="956.24" width="9.76" height="38.15" fill="#ff8c8c"/>
<rect x="1280.55" y="956.24" width="9.76" height="38.15" fill="#ff8080"/>
<rect x="1290.28" y="956.24" width="9.76" height="38.15" fill="#ff8c8c"/>
<rect x="1300.02" y="956.24" width="9.76" height="38.15" fill="#ff6e6e"/>
<rect x="1309.76" y="956.24" width="9.76" height="38.15" fill="#ff1919"/>
<rect x="1319.50" y="956.24" width="9.76" height="38.15" fill="#ffb7b7"/>
<rect x="1329.24" y="956.24" width="9.76" height="38.15" fill="#ffeaea"/>
<rect x="1338.98" y="956.24" width="9.76" height="38.15" fill="#9090ff"/>
<rect x="1348.72" y="956.24" width="9.76" height="38.15" fill="#ffa6a6"/>
<rect x="1358.46" y="956.24" width="9.76" height="38.15" fill="#ff9999"/>
<rect x="1368.20" y="956.24" width="9.76" height="38.15" fill="#ff8080"/>
<rect x="1377.94" y="956.24" width="9.76" height="38.15" fill="#ff8888"/>
<rect x="1387.68" y="956.24" width="9.76" height="38.15" fill="#ffd0d0"/>
<rect x="1397.42" y="956.24" width="9.76" height="38.15" fill="#ffc8c8"/>
<rect x="1407.16" y="956.24" width="9.76" height="38.15" fill="#ff7373"/>
<rect x="1416.90" y="956.24" width="9.76" height="38.15" fill="#ff5e5e"/>
<rect x="1426.64" y="956.24" width="9.76" height="38.15" fill="#ff6262"/>
<rect x="1436.38" y="956.24" width="9.76" height="38.15" fill="#c4c4ff"/>
<rect x="1446.12" y="956.24" width="9.76" height="38.15" fill="#ffaaaa"/>
<rect x="1455.85" y="956.24" width="9.76" height="38.15" fill="#ffa6a6"/>
<rect x="1465.59" y="956.24" width="9.76" height="38.15" fill="#ff9999"/>
<rect x="1475.33" y="956.24" width="9.76" height="38.15" fill="#9999ff"/>
<rect x="1485.07" y="956.24" width="9.76" height="38.15" fill="#fff6f6"/>
<rect x="1494.81" y="956.24" width="9.76" height="38.15" fill="#b2b2ff"/>
<rect x="1504.55" y="956.24" width="9.76" height="38.15" fill="#ffeaea"/>
<rect x="1514.29" y="956.24" width="9.76" height="38.15" fill="#ff9d9d"/>
<rect x="1524.03" y="956.24" width="9.76" height="38.15" fill="#fff2f2"/>
<rect x="1533.77" y="956.24" width="9.76" height="38.15" fill="#e6e6ff"/>
<rect x="1543.51" y="956.24" width="9.76" height="38.15" fill="#8888ff"/>
<rect x="1553.25" y="956.24" width="9.76" height="38.15" fill="#8080ff"/>
<rect x="1562.99" y="956.24" width="9.76" height="38.15" fill="#ffbfbf"/>
<rect x="1572.73" y="956.24" width="9.76" height="38.15" fill="#ff7b7b"/>
<rect x="1582.47" y="956.24" width="9.76" height="38.15" fill="#ff9595"/>
<rect x="1592.21" y="956.24" width="9.76" height="38.15" fill="#ff9595"/>
<rect x="1601.95" y="956.24" width="9.76" height="38.15" fill="#ffe6e6"/>
<rect x="1611.68" y="956.24" width="9.76" height="38.15" fill="#ffe6e6"/>
<rect x="1621.42" y="956.24" width="9.76" height="38.15" fill="#ff6e6e"/>
<rect x="1631.16" y="956.24" width="9.76" height="38.15" fill="#ff6e6e"/>
<rect x="1640.90" y="956.24" width="9.76" height="38.15" fill="#ff6262"/>
<rect x="1650.64" y="956.24" width="9.76" height="38.15" fill="#ff8080"/>
<rect x="1660.38" y="956.24" width="9.76" height="38.15" fill="#ff6e6e"/>
<rect x="1670.12" y="956.24" width="9.76" height="38.15" fill="#ffc8c8"/>
<rect x="1679.86" y="956.24" width="9.76" height="38.15" fill="#fff6f6"/>
<rect x="1046.80" y="994.37" width="9.76" height="38.15" fill="#ff8888"/>
<rect x="1056.54" y="994.37" width="9.76" height="38.15" fill="#ff8888"/>
<rect x="1066.28" y="994.37" width="9.76" height="38.15" fill="#ff4040"/>
<rect x="1076.02" y="994.37" width="9.76" height="38.15" fill="#ff6262"/>
<rect x="1085.76" y="994.37" width="9.76" height="38.15" fill="#ffbfbf"/>
<rect x="1095.50" y="994.37" width="9.76" height="38.15" fill="#ffbfbf"/>
<rect x="1105.24" y="994.37" width="9.76" height="38.15" fill="#ffa2a2"/>
<rect x="1114.98" y="994.37" width="9.76" height="38.15" fill="#ffaaaa"/>
<rect x="1124.72" y="994.37" width="9.76" height="38.15" fill="#ffbfbf"/>
<rect x="1134.45" y="994.37" width="9.76" height="38.15" fill="#ffa6a6"/>
<rect x="1144.19" y="994.37" width="9.76" height="38.15" fill="#ff1919"/>
<rect x="1153.93" y="994.37" width="9.76" height="38.15" fill="#ff8484"/>
<rect x="1163.67" y="994.37" width="9.76" height="38.15" fill="#ff7777"/>
<rect x="1173.41" y="994.37" width="9.76" height="38.15" fill="#ff8080"/>
<rect x="1183.15" y="994.37" width="9.76" height="38.15" fill="#ff6262"/>
<rect x="1192.89" y="994.37" width="9.76" height="38.15" fill="#ff9999"/>
<rect x="1202.63" y="994.37" width="9.76" height="38.15" fill="#ff8080"/>
<rect x="1212.37" y="994.37" width="9.76" height="38.15" fill="#ffe6e6"/>
<rect x="1222.11" y="994.37" width="9.76" height="38.15" fill="#ff6a6a"/>
<rect x="1231.85" y="994.37" width="9.76" height="38.15" fill="#ff9d9d"/>
<rect x="1241.59" y="994.37" width="9.76" height="38.15" fill="#ff9090"/>
<rect x="1251.33" y="994.37" width="9.76" height="38.15" fill="#ff7b7b"/>
<rect x="1261.07" y="994.37" width="9.76" height="38.15" fill="#ff5151"/>
<rect x="1270.81" y="994.37" width="9.76" height="38.15" fill="#ff4040"/>
<rect x="1280.55" y="994.37" width="9.76" height="38.15" fill="#ff8080"/>
<rect x="1290.28" y="994.37" width="9.76" height="38.15" fill="#ffaaaa"/>
<rect x="1300.02" y="994.37" width="9.76" height="38.15" fill="#ff8080"/>
<rect x="1309.76" y="994.37" width="9.76" height="38.15" fill="#ff9595"/>
<rect x="1319.50" y="994.37" width="9.76" height="38.15" fill="#ff0000"/>
<rect x="1329.24" y="994.37" width="9.76" height="38.15" fill="#ccccff"/>
<rect x="1338.98" y="994.37" width="9.76" height="38.15" fill="#ffbfbf"/>
<rect x="1348.72" y="994.37" width="9.76" height="38.15" fill="#ff6262"/>
<rect x="1358.46" y="994.37" width="9.76" height="38.15" fill="#ff8080"/>
<rect x="1368.20" y="994.37" width="9.76" height="38.15" fill="#ff9595"/>
<rect x="1377.94" y="994.37" width="9.76" height="38.15" fill="#ff9999"/>
<rect x="1387.68" y="994.37" width="9.76" height="38.15" fill="#ff0808"/>
<rect x="1397.42" y="994.37" width="9.76" height="38.15" fill="#ff0808"/>
<rect x="1407.16" y="994.37" width="9.76" height="38.15" fill="#ff7373"/>
<rect x="1416.90" y="994.37" width="9.76" height="38.15" fill="#ff9999"/>
<rect x="1426.64" y="994.37" width="9.76" height="38.15" fill="#ffa6a6"/>
<rect x="1436.38" y="994.37" width="9.76" height="38.15" fill="#c4c4ff"/>
<rect x="1446.12" y="994.37" width="9.76" height="38.15" fill="#ff6e6e"/>
<rect x="1455.85" y="994.37" width="9.76" height="38.15" fill="#ff9999"/>
<rect x="1465.59" y="994.37" width="9.76" height="38.15" fill="#ffbbbb"/>
<rect x="1475.33" y="994.37" width="9.76" height="38.15" fill="#ffffff"/>
<rect x="1485.07" y="994.37" width="9.76" height="38.15" fill="#a2a2ff"/>
<rect x="1494.81" y="994.37" width="9.76" height="38.15" fill="#b2b2ff"/>
<rect x="1504.55" y="994.37" width="9.76" height="38.15" fill="#ff0000"/>
<rect x="1514.29" y="994.37" width="9.76" height="38.15" fill="#ff9d9d"/>
<rect x="1524.03" y="994.37" width="9.76" height="38.15" fill="#ff0808"/>
<rect x="1533.77" y="994.37" width="9.76" height="38.15" fill="#ffffff"/>
<rect x="1543.51" y="994.37" width="9.76" height="38.15" fill="#9999ff"/>
<rect x="1553.25" y="994.37" width="9.76" height="38.15" fill="#ff9999"/>
<rect x="1562.99" y="994.37" width="9.76" height="38.15" fill="#ff0000"/>
<rect x="1572.73" y="994.37" width="9.76" height="38.15" fill="#ff8c8c"/>
<rect x="1582.47" y="994.37" width="9.76" height="38.15" fill="#ff7777"/>
<rect x="1592.21" y="994.37" width="9.76" height="38.15" fill="#ff9595"/>
<rect x="1601.95" y="994.37" width="9.76" height="38.15" fill="#ffeaea"/>
<rect x="1611.68" y="994.37" width="9.76" height="38.15" fill="#ff0000"/>
<rect x="1621.42" y="994.37" width="9.76" height="38.15" fill="#ff9595"/>
<rect x="1631.16" y="994.37" width="9.76" height="38.15" fill="#ff7b7b"/>
<rect x="1640.90" y="994.37" width="9.76" height="38.15" fill="#e6e6ff"/>
<rect x="1650.64" y="994.37" width="9.76" height="38.15" fill="#a2a2ff"/>
<rect x="1660.38" y="994.37" width="9.76" height="38.15" fill="#ff8484"/>
<rect x="1670.12" y="994.37" width="9.76" height="38.15" fill="#ff9999"/>
<rect x="1679.86" y="994.37" width="9.76" height="38.15" fill="#ffa6a6"/>
<rect x="1029.20" y="765.60" width="6.90" height="38.15" fill="#6a6aff"/>
<rect x="1029.20" y="803.73" width="6.90" height="38.15" fill="#6e6eff"/>
<rect x="1029.20" y="841.86" width="6.90" height="38.15" fill="#9999ff"/>
<rect x="1029.20" y="879.99" width="6.90" height="38.15" fill="#ffe1e1"/>
<rect x="1029.20" y="918.11" width="6.90" height="38.15" fill="#ff6a6a"/>
<rect x="1029.20" y="956.24" width="6.90" height="38.15" fill="#ffbfbf"/>
<rect x="1029.20" y="994.37" width="6.90" height="38.15" fill="#ff6e6e"/>
<line x1="1019.60" y1="784.66" x2="1027.20" y2="784.66" stroke="#000" stroke-width="1.8"/>
<line x1="1019.60" y1="822.79" x2="1027.20" y2="822.79" stroke="#000" stroke-width="1.8"/>
<line x1="1019.60" y1="860.92" x2="1027.20" y2="860.92" stroke="#000" stroke-width="1.8"/>
<line x1="1019.60" y1="899.05" x2="1027.20" y2="899.05" stroke="#000" stroke-width="1.8"/>
<line x1="1019.60" y1="937.18" x2="1027.20" y2="937.18" stroke="#000" stroke-width="1.8"/>
<line x1="1019.60" y1="975.31" x2="1027.20" y2="975.31" stroke="#000" stroke-width="1.8"/>
<line x1="1019.60" y1="1013.44" x2="1027.20" y2="1013.44" stroke="#000" stroke-width="1.8"/>
<text x="1011.00" y="778.66" font-size="18.3" text-anchor="end" dominant-baseline="central" transform="rotate(-15 1011.00 778.66)">Early SPG</text>
<text x="1011.00" y="819.39" font-size="18.3" text-anchor="end" dominant-baseline="central" transform="rotate(-15 1011.00 819.39)">Late SPG</text>
<text x="1011.00" y="857.52" font-size="18.3" text-anchor="end" dominant-baseline="central" transform="rotate(-15 1011.00 857.52)">Early SPC</text>
<text x="1011.00" y="896.85" font-size="18.3" text-anchor="end" dominant-baseline="central" transform="rotate(-15 1011.00 896.85)">Late SPC</text>
<text x="1011.00" y="932.78" font-size="18.3" text-anchor="end" dominant-baseline="central" transform="rotate(-15 1011.00 932.78)">Early SPD</text>
<text x="1011.00" y="971.91" font-size="18.3" text-anchor="end" dominant-baseline="central" transform="rotate(-15 1011.00 971.91)">SPD</text>
<text x="1011.00" y="1010.04" font-size="18.3" text-anchor="end" dominant-baseline="central" transform="rotate(-15 1011.00 1010.04)">Late SPD</text>
<line x1="1032.65" y1="1032.50" x2="1032.65" y2="1040.50" stroke="#000" stroke-width="1.6"/>
<text x="969.70" y="678.80" font-size="28" text-anchor="start">D</text>
<text x="1016.00" y="1056.60" font-size="18.3" text-anchor="start">Jra</text>
<text x="1220.80" y="1059.10" font-size="18.3" text-anchor="start">Jra regulated de novo gene candidates</text>
<rect x="1047.82" y="716.85" width="7.69" height="48.15" fill="#ff00ff"/>
<rect x="1057.56" y="716.85" width="7.69" height="48.15" fill="#ff00ff"/>
<rect x="1067.30" y="716.85" width="7.69" height="48.15" fill="#ff00ff"/>
<rect x="1077.04" y="716.85" width="7.69" height="48.15" fill="#ff00ff"/>
<rect x="1086.78" y="738.04" width="7.69" height="26.96" fill="#d629fd"/>
<rect x="1096.52" y="723.43" width="7.69" height="41.57" fill="#ff00ff"/>
<rect x="1106.26" y="718.94" width="7.69" height="46.06" fill="#ff00ff"/>
<rect x="1116.00" y="734.67" width="7.69" height="30.33" fill="#f10efe"/>
<rect x="1125.74" y="720.38" width="7.69" height="44.62" fill="#ff00ff"/>
<rect x="1135.48" y="748.63" width="7.69" height="16.37" fill="#837df8"/>
<rect x="1145.22" y="735.63" width="7.69" height="29.37" fill="#e916fe"/>
<rect x="1154.96" y="716.85" width="7.69" height="48.15" fill="#ff00ff"/>
<rect x="1164.70" y="716.85" width="7.69" height="48.15" fill="#ff00ff"/>
<rect x="1174.43" y="716.85" width="7.69" height="48.15" fill="#ff00ff"/>
<rect x="1184.17" y="716.85" width="7.69" height="48.15" fill="#ff00ff"/>
<rect x="1193.91" y="716.85" width="7.69" height="48.15" fill="#ff00ff"/>
<rect x="1203.65" y="718.46" width="7.69" height="46.55" fill="#ff00ff"/>
<rect x="1213.39" y="761.47" width="7.69" height="3.53" fill="#37c4e1"/>
<rect x="1223.13" y="716.85" width="7.69" height="48.15" fill="#ff00ff"/>
<rect x="1232.87" y="716.85" width="7.69" height="48.15" fill="#ff00ff"/>
<rect x="1242.61" y="716.85" width="7.69" height="48.15" fill="#ff00ff"/>
<rect x="1252.35" y="718.94" width="7.69" height="46.06" fill="#ff00ff"/>
<rect x="1262.09" y="716.85" width="7.69" height="48.15" fill="#ff00ff"/>
<rect x="1271.83" y="720.38" width="7.69" height="44.62" fill="#ff00ff"/>
<rect x="1281.57" y="716.85" width="7.69" height="48.15" fill="#ff00ff"/>
<rect x="1291.31" y="724.88" width="7.69" height="40.12" fill="#ff00ff"/>
<rect x="1301.05" y="717.33" width="7.69" height="47.67" fill="#ff00ff"/>
<rect x="1310.79" y="745.42" width="7.69" height="19.58" fill="#9c64fa"/>
<rect x="1320.53" y="736.91" width="7.69" height="28.09" fill="#df20fd"/>
<rect x="1330.27" y="760.83" width="7.69" height="4.17" fill="#38c3e4"/>
<rect x="1340.00" y="745.74" width="7.69" height="19.26" fill="#9966f9"/>
<rect x="1349.74" y="716.85" width="7.69" height="48.15" fill="#ff00ff"/>
<rect x="1359.48" y="716.85" width="7.69" height="48.15" fill="#ff00ff"/>
<rect x="1369.22" y="718.94" width="7.69" height="46.06" fill="#ff00ff"/>
<rect x="1378.96" y="716.85" width="7.69" height="48.15" fill="#ff00ff"/>
<rect x="1388.70" y="740.44" width="7.69" height="24.56" fill="#c33cfc"/>
<rect x="1398.44" y="734.02" width="7.69" height="30.98" fill="#f609ff"/>
<rect x="1408.18" y="716.85" width="7.69" height="48.15" fill="#ff00ff"/>
<rect x="1417.92" y="722.79" width="7.69" height="42.21" fill="#ff00ff"/>
<rect x="1427.66" y="725.52" width="7.69" height="39.48" fill="#ff00ff"/>
<rect x="1437.40" y="752.96" width="7.69" height="12.04" fill="#60a0f0"/>
<rect x="1447.14" y="716.85" width="7.69" height="48.15" fill="#ff00ff"/>
<rect x="1456.88" y="717.33" width="7.69" height="47.67" fill="#ff00ff"/>
<rect x="1466.62" y="720.38" width="7.69" height="44.62" fill="#ff00ff"/>
<rect x="1476.36" y="762.43" width="7.69" height="2.57" fill="#35c7de"/>
<rect x="1486.10" y="748.15" width="7.69" height="16.85" fill="#867af8"/>
<rect x="1495.83" y="757.62" width="7.69" height="7.38" fill="#3fbaee"/>
<rect x="1505.57" y="736.59" width="7.69" height="28.41" fill="#e21dfd"/>
<rect x="1515.31" y="717.33" width="7.69" height="47.67" fill="#ff00ff"/>
<rect x="1525.05" y="746.86" width="7.69" height="18.14" fill="#916ff9"/>
<rect x="1534.79" y="756.33" width="7.69" height="8.67" fill="#45b4f0"/>
<rect x="1544.53" y="726.48" width="7.69" height="38.52" fill="#ff00ff"/>
<rect x="1554.27" y="749.27" width="7.69" height="15.73" fill="#7d83f7"/>
<rect x="1564.01" y="741.09" width="7.69" height="23.91" fill="#be41fb"/>
<rect x="1573.75" y="719.10" width="7.69" height="45.90" fill="#ff00ff"/>
<rect x="1583.49" y="717.33" width="7.69" height="47.67" fill="#ff00ff"/>
<rect x="1593.23" y="717.33" width="7.69" height="47.67" fill="#ff00ff"/>
<rect x="1602.97" y="750.55" width="7.69" height="14.45" fill="#738df5"/>
<rect x="1612.71" y="747.18" width="7.69" height="17.82" fill="#8e72f9"/>
<rect x="1622.45" y="720.38" width="7.69" height="44.62" fill="#ff00ff"/>
<rect x="1632.19" y="717.33" width="7.69" height="47.67" fill="#ff00ff"/>
<rect x="1641.93" y="755.37" width="7.69" height="9.63" fill="#4daef0"/>
<rect x="1651.67" y="761.47" width="7.69" height="3.53" fill="#37c4e1"/>
<rect x="1661.40" y="717.33" width="7.69" height="47.67" fill="#ff00ff"/>
<rect x="1671.14" y="724.88" width="7.69" height="40.12" fill="#ff00ff"/>
<rect x="1680.88" y="745.42" width="7.69" height="19.58" fill="#9c64fa"/>
<line x1="1047.15" y1="744.12" x2="1689.60" y2="744.12" stroke="#0000e6" stroke-width="3.6" stroke-dasharray="12.6 5.6"/>
<rect x="1046.80" y="714.70" width="642.80" height="50.30" fill="none" stroke="#111" stroke-width="1.3"/>
<line x1="1039.50" y1="716.85" x2="1046.80" y2="716.85" stroke="#000" stroke-width="1.8"/>
<text x="1036.50" y="721.35" font-size="12.6" text-anchor="end">≥3</text>
<line x1="1039.50" y1="732.90" x2="1046.80" y2="732.90" stroke="#000" stroke-width="1.8"/>
<text x="1036.50" y="737.40" font-size="12.6" text-anchor="end">2</text>
<line x1="1039.50" y1="748.95" x2="1046.80" y2="748.95" stroke="#000" stroke-width="1.8"/>
<text x="1036.50" y="753.45" font-size="12.6" text-anchor="end">1</text>
<text x="1017.50" y="728.70" font-size="16" text-anchor="end">-log(P)</text>
<text x="1703.10" y="779.70" font-size="13.4" text-anchor="start">Scaled</text>
<text x="1703.10" y="793.40" font-size="13.4" text-anchor="start">expression</text>
<defs><linearGradient id="g805" x1="0" y1="0" x2="0" y2="1"><stop offset="0" stop-color="#ff1010"/><stop offset="0.5" stop-color="#ffffff"/><stop offset="1" stop-color="#1010ff"/></linearGradient><linearGradient id="g805b" x1="0" y1="0" x2="0" y2="1"><stop offset="0" stop-color="#500000"/><stop offset="0.5" stop-color="#111111"/><stop offset="1" stop-color="#000060"/></linearGradient></defs>
<rect x="1706.20" y="805.40" width="11.20" height="62.40" fill="url(#g805b)"/>
<rect x="1707.60" y="806.80" width="8.40" height="59.60" fill="url(#g805)"/>
<line x1="1716.70" y1="805.40" x2="1716.70" y2="867.80" stroke="#000" stroke-width="1.5"/>
<line x1="1716.70" y1="807.40" x2="1724.70" y2="807.40" stroke="#000" stroke-width="1.5"/>
<text x="1732.90" y="812.20" font-size="13.4" text-anchor="start">3</text>
<line x1="1716.70" y1="836.60" x2="1724.70" y2="836.60" stroke="#000" stroke-width="1.5"/>
<text x="1732.90" y="841.40" font-size="13.4" text-anchor="start">0</text>
<line x1="1716.70" y1="865.80" x2="1724.70" y2="865.80" stroke="#000" stroke-width="1.5"/>
<text x="1732.90" y="870.60" font-size="13.4" text-anchor="start">-3</text>
</svg>
</body></html>
